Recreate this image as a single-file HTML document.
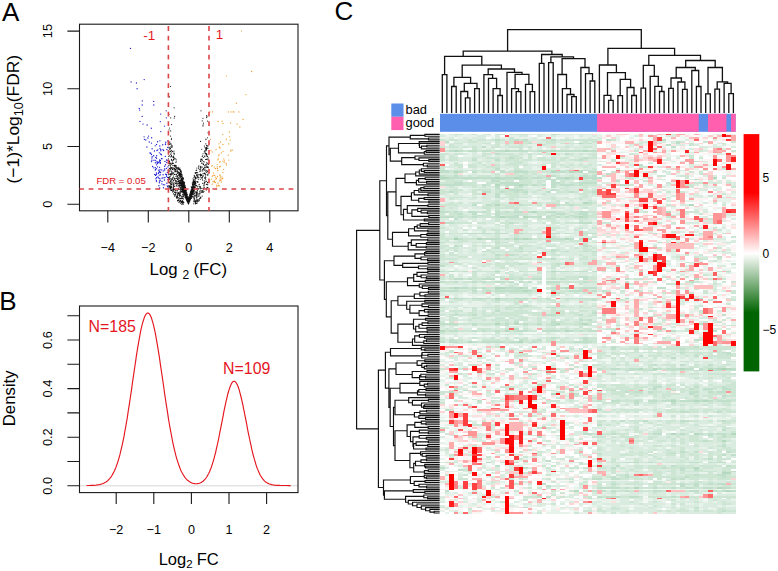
<!DOCTYPE html>
<html><head><meta charset="utf-8"><style>
html,body{margin:0;padding:0;background:#fff;}
svg{display:block;}
text{font-family:"Liberation Sans", sans-serif;}
</style></head><body>
<svg width="778" height="571" viewBox="0 0 778 571" font-family='"Liberation Sans", sans-serif'>
<rect width="778" height="571" fill="#fff"/>
<g>
<path d="M187.6 199.2h0M188.8 202.5h0M186.5 191.8h0M184 191.2h0M185.7 194.3h0M183.6 186.4h0M187.8 201.5h0M193 187.1h0M185.6 187.7h0M185.1 190.2h0M189.6 199h0M189 200.1h0M188 200.9h0M183.8 185h0M187.5 201.3h0M190.4 195.5h0M182.1 190.2h0M185.7 195.1h0M179.9 181h0M182.4 186.2h0M180.1 183.8h0M186.6 197.3h0M182.5 179.9h0M188.7 201.5h0M188.2 202.8h0M186.8 198h0M177.4 176.1h0M185.4 189.6h0M187.4 197.9h0M188 199.7h0M181.4 182.1h0M185.7 196.8h0M183.6 190h0M184.3 190.9h0M191.9 190.9h0M184.3 186.6h0M187.5 199.7h0M191.2 192.2h0M185.2 194.4h0M187.1 197.7h0M188 200.6h0M187.8 201.9h0M182.6 180.5h0M187.9 201.4h0M193.1 193.4h0M181.3 183.8h0M191.1 191h0M188.1 202.5h0M185 192.4h0M195.7 172.7h0M190.7 194.1h0M182.7 183.4h0M187.9 201.5h0M189.9 199.6h0M186.8 196.5h0M190.4 197.4h0M187.3 198.8h0M190.3 198.6h0M193.4 187.4h0M184.8 194.4h0M188.4 200.7h0M185.7 195.7h0M188.1 202h0M182.8 185.4h0M185.2 191.8h0M186.8 196.6h0M191.2 193.8h0M192.2 193.2h0M182.2 183.1h0M184.4 183.4h0M190.2 199.2h0M179.5 183.6h0M185.7 194.8h0M187.2 197h0M192.7 187.3h0M190.4 193.8h0M186.3 193h0M186.1 192h0M186.6 194.6h0M193.8 188.1h0M185.9 193.2h0M186.4 196.3h0M189 201.5h0M187.1 198h0M186.8 194.4h0M183.1 188.7h0M187.5 200h0M185.8 195.1h0M192.3 191.1h0M190.2 198.1h0M187.5 200.4h0M190.3 195.7h0M186.2 196.9h0M191.8 189.1h0M187.6 199.7h0M189.9 198.4h0M182.4 180.9h0M189 199.5h0M180.7 184.1h0M179.3 172.2h0M186.4 198.7h0M183.9 188.8h0M188.2 201.7h0M196.7 185.3h0M184.2 188h0M185.1 189.1h0M188.4 196.9h0M189.6 197.9h0M186.9 198h0M186.8 197.6h0M190.4 196.4h0M189.7 198.7h0M183.4 189.7h0M187.3 198.7h0M187.7 199.8h0M183.3 189.9h0M188.6 201.3h0M184.1 183.2h0M191.5 194h0M188.4 203h0M187.9 202.3h0M185.2 190.8h0M187.1 198h0M179.5 182.2h0M183 190.9h0M189.1 199.4h0M179 173.1h0M191 193.9h0M180.5 171.4h0M190.6 194.3h0M184.2 185.3h0M190.7 191.4h0M188.1 201.8h0M181.4 179.8h0M192.6 194.3h0M193.4 192.9h0M187.3 197.5h0M186.5 196.6h0M186.9 200.1h0M183.6 192.8h0M192 189.7h0M185.4 194.1h0M187.4 199.9h0M184.4 185.3h0M185 194.4h0M182.4 177.1h0M192.7 188.5h0M187 198.2h0M191.5 192.1h0M187.6 198.4h0M184.8 188.4h0M186.3 194.5h0M185.3 194.8h0M187.6 199.1h0M186.1 196.6h0M186.4 199.5h0M182 188.1h0M184.3 192.6h0M194.3 175.4h0M184.9 187.5h0M183.3 183h0M189 201.2h0M193.3 188.8h0M181.7 181.2h0M186.7 196.2h0M185 194.1h0M180.5 180.3h0M190.6 193.5h0M187.5 201.1h0M187.9 199.3h0M184.5 191.7h0M189.4 199.2h0M185.4 190.8h0M187 198.1h0M183.1 192.6h0M182.7 189.3h0M193 188.4h0M185.5 194.1h0M188.8 201.7h0M187.4 199.7h0M185.8 194.2h0M185.5 197.2h0M190.1 199.1h0M186.4 195.9h0M187 196h0M187.7 196.8h0M192.3 192.1h0M190.3 196.6h0M189.1 200.2h0M185.3 191.3h0M182 183.9h0M191.4 194.4h0M191.5 198h0M187 200.8h0M189.8 197.3h0M190.7 195.1h0M191 192.8h0M191.3 195.7h0M185.7 196.7h0M193.7 179.7h0M182.5 182.3h0M191.1 195.9h0M189.6 197.6h0M191.1 191.4h0M195.2 178.2h0M193.6 184h0M182.9 191h0M180.7 171.5h0M190.9 196.1h0M183.5 185h0M187.5 201.3h0M191 198.3h0M180.9 182.7h0M179 183.2h0M188.6 201.2h0M187.8 200.9h0M186.6 197.3h0M187.7 199.9h0M184.1 189.8h0M181.5 175h0M186.9 200.2h0M183.6 189.9h0M180.9 172.8h0M189.6 199.8h0M187.3 200.4h0M189.2 198.4h0M183.6 187.1h0M184.9 193.1h0M183.5 184h0M184 185.5h0M188.4 202.1h0M184.4 194h0M189 199.4h0M189 200.9h0M195.8 178.4h0M181.9 176.4h0M191.2 192.1h0M187.2 197.8h0M187.5 199.6h0M181.7 174.5h0M185.7 193.5h0M190.6 192.6h0M187.3 197.4h0M187.9 200.6h0M186.4 196.5h0M192.3 187.8h0M187.5 201.8h0M178.7 180.1h0M184.8 193.6h0M179.6 175.5h0M185.4 190.5h0M193 178.7h0M187.8 200.1h0M182.8 182.7h0M183.8 190.1h0M192.2 192.6h0M188.2 200.1h0M187.8 200.1h0M187.4 199.9h0M187.7 200.8h0M190.8 196.7h0M189.8 198.5h0M188.5 200.9h0M183.4 191.7h0M189.7 200.9h0M184.8 189.3h0M192 187.3h0M182.4 182.5h0M187 197.3h0M187.6 201.6h0M182.2 179.6h0M194.6 176.7h0M193.5 185.2h0M185.7 196.3h0M190.7 195.3h0M189.1 201.7h0M177 171.7h0M188.6 202.8h0M187.3 200.3h0M187.9 201.3h0M183.2 188.5h0M186.5 198h0M186.9 199.5h0M192.4 192.2h0M188.9 201.1h0M187.6 200.9h0M193.8 189.4h0M185.3 188.6h0M186 196.1h0M180.2 179.7h0M193.9 180.8h0M191.5 190.4h0M191.3 192.6h0M190.3 195.7h0M188 200.5h0M188.5 202.5h0M186.6 194.8h0M186.8 195.6h0M187.8 198.3h0M193.7 189.2h0M189.8 199.1h0M187.3 199h0M185.2 197.5h0M185 191.9h0M194.1 181.9h0M189.6 195.5h0M187.9 202.2h0M186.2 194.6h0M183.1 182.2h0M187.3 200.4h0M191.1 197.4h0M186 197h0M186.7 198.8h0M186.7 200.1h0M188 202.6h0M181.1 183.4h0M186.6 196.9h0M184.1 188.9h0M191.2 192.7h0M184.5 190.4h0M189.9 197.3h0M193.8 181h0M186.3 190.4h0M185.1 195.8h0M188.4 202.5h0M187.6 197.7h0M183.6 185.8h0M189.5 195.1h0M195.7 177.8h0M186.5 194.8h0M186.8 198h0M183.4 190.9h0M188.9 202h0M182.5 180.1h0M183.1 186.7h0M192.8 192.8h0M183.9 190.2h0M192 193.3h0M193.8 191.2h0M188.6 202.3h0M189.8 200.1h0M195.5 178.5h0M186.8 197.1h0M185.2 196.8h0M182.1 175.3h0M187.8 201.4h0M193.6 190.2h0M191.5 193.7h0M183.8 191.1h0M184.1 192.7h0M185.5 192.1h0M188.8 201.2h0M186.8 195.8h0M188.5 203.9h0M188.8 201.5h0M186.4 198h0M187.4 200h0M188.4 201.4h0M187.2 199.6h0M189.6 198.4h0M195.2 172.9h0M190 198.1h0M187.8 202.1h0M180.8 183.8h0M189.2 200.1h0M179.7 182.8h0M181.9 187.6h0M191 194.3h0M190.4 195.2h0M187 199.4h0M180.7 170.9h0M186.1 198h0M184.8 190.9h0M190.2 197.4h0M196.7 170h0M188.5 203.4h0M184.4 188.7h0M182.8 178.1h0M187.4 199.6h0M186.9 198.1h0M182.9 184.8h0M188.1 201.4h0M182.9 185.8h0M192.1 190.2h0M191.9 193.6h0M192 189.2h0M185.7 195.6h0M189.7 197h0M187.1 199.6h0M186 197.9h0M186.2 198.4h0M182.3 184h0M181.7 186.3h0M190.8 193.8h0M186.8 200.4h0M188.5 203.6h0M191.6 191.7h0M180.6 180.8h0M184.4 191.3h0M188.3 201.5h0M189.2 200.6h0M186.1 193.8h0M191.8 189h0M188.4 201.2h0M182.7 184.7h0M183.8 186.3h0M190.8 196.5h0M189.5 198.3h0M179.9 168h0M193 193.7h0M190 196.1h0M193 182.8h0M186 192.7h0M186.4 198.4h0M183 181.9h0M197.9 176.3h0M186.9 198.5h0M194 190.8h0M185 185.6h0M188.2 203.2h0M180.8 180.7h0M186 191.9h0M191.6 189.8h0M182.5 180.1h0M191.9 189.9h0M189 199.5h0M183.4 193h0M185.6 191.1h0M185.7 196.2h0M187.4 196.1h0M185.4 197.8h0M184.2 191.6h0M186.4 198.2h0M183.4 191.9h0M182.4 183.2h0M187.4 200.3h0M191.2 190.4h0M181.4 178h0M187.6 201.7h0M185 189.1h0M183.6 184.7h0M191 197h0M185.5 190.7h0M193.7 182.4h0M184.4 188.7h0M189.2 198.9h0M186.7 193.6h0M184.5 186.4h0M190 196.7h0M187 200.4h0M190 197.5h0M187.4 199.6h0M183.2 190.3h0M187.2 197h0M187.8 196.8h0M191.5 189.6h0M183.9 186.7h0M187.4 201.8h0M180.6 188.4h0M190.2 197.5h0M183.2 177.9h0M180.3 181.7h0M187.3 200.8h0M192.1 188.3h0M181.4 189.4h0M183.2 190.2h0M184.6 188h0M183 191.7h0M189.1 201.1h0M184.3 186.8h0M184.7 194.2h0M189.9 198.7h0M184.5 191.4h0M189.3 198.1h0M183.7 188h0M182.7 187.7h0M180.2 180.5h0M195.1 184.1h0M186.3 197.5h0M188.6 202.3h0M187.5 200.4h0M188.2 203.2h0M187.8 201.6h0M195.3 181.6h0M183.4 191.1h0M181.3 180h0M183.5 178.5h0M182.2 187.1h0M190.6 195.9h0M190.9 191.4h0M183.7 188.7h0M182 174.6h0M186.1 198.4h0M193.2 181.8h0M189.7 198.9h0M183.2 181.3h0M191.8 190.5h0M183.2 179.6h0M186.4 198.1h0M181.5 182.1h0M183.6 192.2h0M193.2 190.9h0M190.9 194.9h0M186 193.1h0M184.1 186.5h0M179.9 186.8h0M186 192.8h0M187.5 201h0M187.2 199h0M187.2 199h0M183 181.7h0M187.3 198h0M187.4 201.6h0M192.8 186.1h0M195.1 177.8h0M187 193.1h0M184.5 187h0M187.3 199h0M185.1 193.2h0M184.6 182.3h0M187.3 200.9h0M183.4 185.2h0M190 194.1h0M187.2 197.7h0M188.6 199.2h0M186.8 198.4h0M184.6 190.6h0M183.7 188.2h0M186.6 196.3h0M185.4 190.7h0M188.5 202.3h0M187.6 200.6h0M182.1 181.5h0M187.9 200.8h0M182.1 178.5h0M185.1 193.1h0M186.4 194.7h0M188 202.7h0M188.2 200.7h0M186.9 195.4h0M185.9 192.1h0M186.1 193.1h0M183.6 191.8h0M186.5 196h0M185.3 192h0M188 202.9h0M182.7 187h0M188.5 202.2h0M188.2 198.8h0M187 200.3h0M185.8 195.8h0M189.8 198.1h0M180.8 174.4h0M189.4 199.5h0M188.6 201.9h0M188.7 202.8h0M189.1 202h0M184.9 190.7h0M186.5 196h0M190.2 195.3h0M189.3 200.6h0M188.4 198.4h0M181.5 174.5h0M189.8 200.4h0M192.3 189.8h0M191.7 192h0M188.5 200.7h0M181.3 172.2h0M191.4 194.7h0M187 199.9h0M189.1 199.1h0M181.5 178.6h0M182.3 178.7h0M185 196.9h0M192.7 189.9h0M186.1 194.4h0M188.7 200.9h0M194.7 182.5h0M194 184.3h0M187.2 200h0M186.6 195.1h0M182.5 182.8h0M184.8 187.8h0M189.3 199.6h0M189.2 197.6h0M188 202.6h0M191.6 195.5h0M184.5 186.4h0M187.4 198.8h0M190.5 194.9h0M190 199.7h0M191.9 193.2h0M189.2 198.8h0M186.3 199h0M189.1 200.1h0M183.5 188.1h0M180.9 170.4h0M189.9 199.6h0M187.4 199.7h0M188.8 202.6h0M180.7 182.3h0M186.1 195.9h0M185.2 192.9h0M184.1 183.2h0M186.2 197.5h0M191.2 193.3h0M189.1 198.4h0M185.2 194.8h0M187.5 199h0M190.7 192.9h0M176.4 167.6h0M187.1 195h0M189.8 199.4h0M190.3 197.8h0M194.5 181.1h0M192.2 193.7h0M188.9 201.2h0M188.8 200.8h0M190.8 197.2h0M185.4 192h0M187.4 194.6h0M191.3 197.5h0M195.5 185.6h0M186.9 197.1h0M187.4 196.8h0M188.4 201.4h0M193 189.7h0M187.5 200.9h0M193.5 184.7h0M183.7 187.4h0M186.8 197.3h0M186.8 197.8h0M190.8 197.3h0M191.8 193.6h0M181.5 188.7h0M183.9 190.5h0M188.9 198.6h0M184.9 190.8h0M181.4 174h0M191.8 187.7h0M189.6 198.1h0M189.6 198.3h0M185.7 195.3h0M191.8 187.4h0M186.6 198.4h0M192 192.5h0M183.9 183.2h0M184.1 189.2h0M188.4 201.7h0M184.7 190.2h0M190.3 198.5h0M188.6 198.5h0M183.8 195.2h0M187.9 201.4h0M186.2 198.6h0M191.3 194.7h0M185 187.3h0M185.8 197.5h0M192.5 190.6h0M196.7 174.7h0M195.7 178.1h0M187.8 199.9h0M188.5 201.3h0M193.8 190.5h0M187.1 196.3h0M183.6 192.2h0M188.1 201.4h0M189.4 201.3h0M184.2 187.3h0M180.9 173h0M181.8 178.6h0M190.3 197.7h0M184.5 190.9h0M187 197.1h0M188.4 200.7h0M190.1 198.1h0M186.2 196.9h0M189.6 198.9h0M184 186.5h0M186.1 193.7h0M183.4 184.6h0M192.2 193.1h0M187.5 199.4h0M184.6 192.4h0M186.2 193.2h0M186.7 196.7h0M190.4 195.5h0M181.1 172.9h0M183.4 186.6h0M186.1 195.9h0M197.8 182.4h0M191.5 193h0M187.1 197.4h0M190.5 198.9h0M195.9 185.7h0M186.6 196h0M186.1 195.1h0M192.5 188.2h0M189.6 197.5h0M190.3 199.1h0M185.5 190.5h0M195.4 185.6h0M194.5 181.5h0M189.9 197.5h0M190.4 197.9h0M179.4 176.9h0M190.2 194.4h0M186.8 200.8h0M189.3 198.1h0M190.3 194.4h0M186.2 193.8h0M180.7 180.4h0M189.1 201.1h0M184.6 192.9h0M186.2 195.7h0M185.1 188.3h0M186.2 199.3h0M192.5 189.5h0M188.6 202.2h0M192.1 193.1h0M195.6 177.2h0M187.7 200.6h0M180.3 181.7h0M184 182.1h0M182.7 188.6h0M185.6 193.3h0M187.9 202.3h0M179.5 173.3h0M189 201.1h0M181.5 187.1h0M188.8 199.1h0M187.1 198.1h0M186.3 194.8h0M187.3 199.6h0M185.4 192.6h0M185.1 195.4h0M180.8 175.8h0M187.5 198.2h0M195.1 183h0M195.6 182.7h0M192.9 194.1h0M190.4 199.6h0M184.8 191.5h0M193.4 185h0M187.4 199h0M187.3 200h0M186.4 199.1h0M188 202.8h0M185.8 195.5h0M187.2 199.1h0M183.2 191.4h0M186.1 194.7h0M196.8 168h0M187.3 201.1h0M186.6 195.4h0M189.7 197.1h0M190.5 194.7h0M183.1 189.9h0M186.7 197h0M191.3 190.2h0M188.7 203h0M188.1 202h0M193.9 189.3h0M184.8 186.4h0M187.9 202.3h0M185.5 198h0M193.6 182.5h0M179.7 173.1h0M184.9 195h0M185.4 189.8h0M190.3 195.1h0M190 199.5h0M193.2 187.2h0M181.2 171.4h0M190.6 196.3h0M186.4 197.1h0M184.9 191.4h0M189.8 199.1h0M183.9 186.3h0M179.2 168.8h0M186.1 195h0M181.5 178.9h0M185 192h0M189.1 201.7h0M188.8 201.5h0M194 186.4h0M186.8 196.9h0M181.4 182h0M184.5 190h0M183.9 190.6h0M182.7 192.5h0M189.3 201.7h0M185 195.2h0M179.6 169.2h0M190.4 195h0M187.1 196h0M189 197.3h0M188 202.5h0M190.1 198h0M187.7 201.1h0M192.6 188.2h0M189.3 200.1h0M189.2 201.8h0M189.2 201.7h0M181.7 181.1h0M186.9 197.4h0M186.5 197.6h0M188.4 202.5h0M182.1 180.5h0M194.2 188.4h0M188 200.4h0M182.7 189.7h0M180.7 173.3h0M186.4 196.6h0M187.2 199.2h0M184.7 188.4h0M188 202.2h0M185 191.6h0M189.8 198.2h0M184.7 184.9h0M187.4 200.7h0M191.5 187.4h0M183.5 182.7h0M185.7 191.4h0M184.2 186.9h0M190.8 191.8h0M182.9 189.1h0M185.6 192.2h0M187.5 199.4h0M183.6 189.3h0M183.7 191.7h0M185.7 193.7h0M179.1 169.2h0M181.7 186.9h0M185.9 193h0M188.2 203.6h0M186.8 196.7h0M180.4 173.9h0M185.7 191.6h0M190.8 196.6h0M189.8 200.7h0M187.3 200.4h0M184 187.5h0M190.1 194.3h0M185.2 188.8h0M182.8 186.7h0M184.3 187.2h0M193.5 190h0M188.5 199.3h0M192.3 182.9h0M185.6 197.1h0M191.4 190.8h0M185.1 190h0M186.9 197.5h0M190.7 193.1h0M185.6 193.2h0M187.2 197.3h0M188.9 199.9h0M192.5 184.1h0M185.6 197h0M180.5 169.7h0M186.5 195.9h0M187.6 202h0M188 200.7h0M192.9 189.3h0M188.9 202.1h0M190.9 197h0M183.1 189.4h0M191.1 193.6h0M196.1 170.5h0M190.7 197.5h0M188.6 199.4h0M188.2 202.7h0M194.8 187.9h0M183.8 192.3h0M187.1 198.8h0M189.4 199.5h0M190.6 194.5h0M185.8 197.5h0M188.8 201.5h0M186.5 197.7h0M188.1 201.6h0M187.1 199.4h0M183 181.6h0M187.5 197.6h0M191.1 195.5h0M183.7 194.2h0M186.6 195.7h0M190.3 195.3h0M183.3 185.6h0M188.3 202.9h0M183.3 183.7h0M192.2 187.6h0M197 177.9h0M195.8 182.9h0M186.7 197.9h0M190.6 197.3h0M188.1 203.3h0M188 199.8h0M193.9 177.2h0M182.2 191.4h0M191.9 189.8h0M187.4 198.5h0M193.3 187.2h0M188.3 201.6h0M184.9 194.3h0M188.7 202.2h0M190.6 195.5h0M187.7 199.9h0M189.6 199.2h0M185.5 187.1h0M191.2 190.8h0M190.4 196.1h0M188.2 203.5h0M187.9 199.9h0M191.8 191.7h0M185.7 192h0M184.7 193.8h0M186.8 196.6h0M192.4 194.1h0M182 183.1h0M192.4 193.1h0M185 196.1h0M183.1 184.5h0M192.7 194.6h0M187.2 198.7h0M182.3 185.8h0M186.1 194.5h0M191.4 197.1h0M192.4 188.1h0M185.9 193.9h0M189.2 200.2h0M190.5 191.8h0M185 189h0M189 201.6h0M187.5 199.2h0M185.4 192.4h0M185.6 191.6h0M187.9 200.5h0M187.7 199.3h0M185.3 196.9h0M185.9 190.2h0M192.1 191.6h0M188.5 203h0M191.2 198.5h0M192.5 188.6h0M190 200.8h0M196.8 172.4h0M184.2 190.5h0M190.9 194h0M186.3 196.8h0M195.1 181h0M194.5 187.4h0M179.7 169.2h0M183.7 185.1h0M190.3 197.1h0M190.8 192.8h0M190.6 194.9h0M187.3 199.2h0M189.4 197.4h0M190.2 198.9h0M187.3 199.3h0M191.7 193.4h0M190.2 199.1h0M183.4 185.4h0M191.5 193.8h0M186.7 194.3h0M184 188.5h0M189.1 202.4h0M183.9 192.6h0M183.9 193.4h0M181.2 176.4h0M187.5 200.3h0M189.6 200.4h0M191.7 194.9h0M187 198.5h0M191.8 188.6h0M187.7 201.5h0M187.2 197.8h0M189.9 195.9h0M191.9 190h0M186.2 195.9h0M186.6 200h0M186.9 196.4h0M187.9 202.8h0M183.9 194.7h0M191.7 187.3h0M186 194.6h0M189.5 197.8h0M184.2 194.1h0M189 200.1h0M189.2 200.1h0M185.9 198.3h0M195.8 172.5h0M189.1 201h0M194.8 176.4h0M191.5 191.3h0M184.9 192h0M186 197.6h0M189.4 199.1h0M187.8 202.3h0M187.8 200h0M186.4 197.8h0M180.3 183.4h0M186.7 197.5h0M178.6 172h0M189.1 200.9h0M184.6 187.5h0M184.7 189.7h0M186.7 195.5h0M188.7 202.7h0M181.8 179.8h0M180.5 171.6h0M183.3 182.7h0M179.3 178.5h0M183.7 192h0M194 187h0M183.3 190.3h0M190.2 199h0M182 177.9h0M188.8 201.6h0M186.3 198.9h0M187.3 197h0M189.9 199.3h0M194.7 187.5h0M188.4 203.4h0M188.1 199.6h0M183.6 188.7h0M189.9 199h0M186.6 199.5h0M191 190h0M187.4 200.3h0M194.6 190.9h0M179.6 169.9h0M186.4 197.1h0M191.2 192.2h0M186.2 196.3h0M184.4 189.4h0M186.5 199.7h0M182 183.6h0M188.1 201.9h0M192.2 189.2h0M183.1 184.4h0M184 191.9h0M185.9 193h0M191.7 188.9h0M184.3 184h0M184.8 190.4h0M191.2 191.3h0M191.1 190.6h0M186.1 193.8h0M183.1 189.6h0M181.3 178.9h0M184.8 191h0M178.6 172.7h0M190.6 197.5h0M185 194.4h0M189.5 200.4h0M195.2 177.8h0M192.3 188.5h0M182.9 180.7h0M191.1 195.4h0M192.3 192.5h0M184.6 190.3h0M183.7 183.5h0M187.1 194.2h0M181.1 184.8h0M193.5 186.5h0M183.1 182.6h0M186.5 193.3h0M186.7 198h0M188.3 202.3h0M188.7 199.8h0M186.7 196.4h0M192.2 187.2h0M178.9 173.9h0M187.6 200.1h0M184.7 190.2h0M188.1 203h0M188.5 201.8h0M183.9 189.4h0M185 186.7h0M190.8 194.1h0M189 198.8h0M184.8 191.9h0M195.8 182.6h0M196.9 181.5h0M181.7 183.4h0M188.8 202h0M197.7 172.7h0M190.8 194.3h0M188.5 199.9h0M186.7 198.7h0M185.4 194.7h0M186.7 197.3h0M185.4 196.7h0M190.6 195.9h0M186 195.7h0M185.8 190h0M182.7 181h0M187.4 200.3h0M184 188.5h0M186.9 196.5h0M191.8 192.1h0M189.1 200.5h0M189.6 198.5h0M189 200.9h0M187.8 197.9h0M187.1 195.9h0M186.3 195h0M190.7 196h0M183.2 183.9h0M193 186.9h0M187.7 200.7h0M184.6 188.2h0M185.6 194.2h0M184.8 188.2h0M188.2 203.3h0M184.7 187.9h0M192.2 191.5h0M184.4 189h0M178.4 178.2h0M184.6 188.1h0M187.4 201.4h0M191.9 189.4h0M190.2 193.7h0M182.2 190.1h0M184.5 186.5h0M194.8 182.6h0M188.9 201.4h0M187.6 201.1h0M191.9 187.6h0M197.5 176.2h0M192.8 185h0M188.1 202.9h0M189 201.6h0M190.1 197.1h0M185.1 191.6h0M183.3 186.3h0M187.8 199.6h0M183.7 190.2h0M187.3 199.5h0M188 201.3h0M184.1 187h0M187.1 196.5h0M186.9 197h0M189.4 197.3h0M191.8 193.2h0M185.6 193.8h0M184.3 189.6h0M180.9 185.8h0M183.8 189.7h0M189.8 194.6h0M187.8 202.2h0M183.5 189.2h0M186.1 195.6h0M187.7 200.5h0M189.6 197.7h0M185.2 191.1h0M186.6 197.8h0M180.2 175.1h0M182.9 185.1h0M194.1 184.5h0M186.2 192.9h0M188.5 199.4h0M186.1 195.7h0M184.3 185.8h0M187.3 198.9h0M187.6 200.5h0M187.3 197.2h0M180 175.4h0M187 196h0M184.1 187.2h0M185.4 194.7h0M188.5 201.7h0M190.2 199.1h0M191.2 193.5h0M185.6 193.8h0M191.3 189.7h0M192.3 186.7h0M192.2 191.2h0M193.2 181h0M187 198.5h0M186.9 197.3h0M190.9 198.3h0M182.1 187.7h0M188.4 203.1h0M185.4 191.4h0M186.1 195.5h0M180.5 171h0M184 192.1h0M187.5 200.2h0M191.2 186.8h0M191.6 191.8h0M187.3 200.7h0M186.8 196.3h0M184.2 193.1h0M189.2 200.8h0M186.6 196.2h0M190 197.4h0M194.7 187.2h0M187.5 201h0M181.5 186.1h0M184.1 186.2h0M181.7 186.7h0M182.7 188.5h0M192.9 191.6h0M188.5 202.2h0M181.4 180.4h0M190.2 196h0M192.7 184.5h0M186.1 192.3h0M184.8 188.7h0M186.2 197.3h0M188.7 200.4h0M190.2 192.9h0M192.4 193.4h0M192.5 187.1h0M192.4 193.3h0M193.1 181.4h0M190.3 196.2h0M181.4 183.6h0M187.1 200.6h0M188.9 202.3h0M186 194.7h0M191.3 193.2h0M186.1 194.5h0M183.8 191h0M193.4 183.1h0M190.3 196.1h0M188.5 199.9h0M191.3 189.5h0M191.9 192.1h0M189 198.6h0M177.6 167.7h0M184.8 193.7h0M185.7 195.7h0M183.6 186.9h0M188.4 202.4h0M192.4 184.9h0M185.6 193.1h0M183 186.6h0M195.8 173.4h0M185.8 192.1h0M182.6 181.9h0M188.5 202.4h0M189.3 199.3h0M184.7 192.6h0M190.8 194.1h0M185.6 196.6h0M183.8 186.4h0M188.3 203h0M190.7 197.4h0M185 190.6h0M188.9 202.9h0M187.2 198.9h0M199 177.7h0M184.7 188.5h0M193.2 189.7h0M187.4 201h0M187.1 197.4h0M190.5 196.7h0M191.2 192h0M192.7 186.3h0M188.9 199.9h0M185.2 195.2h0M185.4 191.6h0M189.6 196.7h0M189.9 195.7h0M193.2 180.9h0M189.3 199.5h0M191.9 196.5h0M193.7 182.2h0M188.3 201.1h0M181.6 180h0M182.8 180h0M181.8 185h0M194 179.6h0M184.2 192.1h0M192.6 192.7h0M190 197h0M194.5 183.1h0M191.6 194.1h0M187.2 197.9h0M186.8 200h0M179.6 175.4h0M173 190.5h0M180 195.9h0M196.1 192.6h0M207.9 187.3h0M200.4 174h0M203.6 188.7h0M174.4 168.5h0M170.5 166.8h0M195.5 203.1h0M170.4 151.5h0M174.7 171.7h0M181.8 201.3h0M206.1 164.3h0M200.4 169.9h0M169.8 163.9h0M206.3 149.2h0M175.6 190.5h0M171.1 171.1h0M169.5 163.7h0M179.2 195.4h0M197.3 186.6h0M175.2 183.2h0M171.6 186.3h0M169.3 185.5h0M173.9 157.3h0M171.1 174.7h0M181.2 201.9h0M198.1 196.2h0M175.9 176.2h0M177.3 168.3h0M174.5 189.7h0M199.9 171.6h0M181.4 204.1h0M171.7 184.4h0M183.5 196.3h0M170.2 168.7h0M194.3 198.6h0M196.8 194.2h0M198 188.6h0M173.4 156.1h0M195.3 179.8h0M193.2 196.8h0M179.3 173h0M181.4 202.5h0M174.6 186.3h0M206.6 148.2h0M205.8 177.2h0M176.6 197.4h0M205.1 169h0M205.2 181.9h0M171.4 179.5h0M201 197.7h0M204.4 187.7h0M193.9 188.4h0M205.8 143.8h0M183.4 196.2h0M177.3 170.6h0M205.7 149.1h0M183 198.4h0M173.5 180.8h0M198.2 193.8h0M198 194.1h0M182.6 192.7h0M180.2 192.3h0M178.8 185.3h0M193.9 192.5h0M169.5 186.5h0M169.8 188.1h0M197.4 188.4h0M182.6 200.3h0M178.4 192.5h0M205.2 152.7h0M182.5 196h0M200.2 192.9h0M194.1 200.4h0M177.7 200.2h0M179.9 174.5h0M207.8 175h0M171 178.4h0M172.9 182.9h0M196.7 193.8h0M173.1 185h0M175.7 169.3h0M177.4 194.2h0M179.6 198.7h0M206.6 149.9h0M176.7 178.3h0M203.4 169.2h0M206.8 170.4h0M174.3 158.9h0M196.3 203.2h0M174.3 153.2h0M205.6 159.5h0M172.5 169.4h0M171.5 172.7h0M194.9 181.3h0M181.3 197.7h0M183 198.4h0M168.6 156.2h0M193.1 196h0M173.2 156.5h0M170.8 184.8h0M172.2 168.6h0M206.8 148.6h0M202.7 155.8h0M202.1 196.1h0M196 195.2h0M196.3 185.6h0M208.1 159.7h0M169.1 177.8h0M177.1 190.3h0M171.5 159.9h0M207.9 174.2h0M168.6 172.5h0M182.9 191.2h0M197.8 181.5h0M170.7 187.4h0M196.7 188.7h0M169 142.3h0M176.3 185.9h0M174.6 196.1h0M204.8 165.3h0M182.6 194.5h0M198.4 179.2h0M207 154.7h0M203.9 187.8h0M202.2 171h0M202.5 179.9h0M170.8 169.3h0M180.3 192.7h0M174.3 165.4h0M173.3 163.3h0M172.1 172.7h0M204.2 180.7h0M169.6 171.1h0M180.3 203.2h0M205.4 153.4h0M173.8 167.9h0M180.3 189.3h0M171.3 184.7h0M194 198h0M175.8 190.9h0M178.9 197.5h0M177.4 172.3h0M169.4 155.8h0M196.2 194.6h0M170.8 146.9h0M173.5 160h0M179.4 174.7h0M181.2 178.1h0M198.5 200h0M197.3 190.4h0M170.3 165.3h0M172.1 174.4h0M176.3 166.2h0M173.4 194h0M207.7 175.2h0M171.1 168.3h0M202.7 183.3h0M171.9 190.6h0M172.1 160.5h0M170.3 163.7h0M198.2 194.1h0M196.7 203.1h0M169.8 182.9h0M199.1 174.5h0M208.1 145.8h0M173.5 187.3h0M174.1 184.7h0M200.9 174.6h0M170.8 163.1h0M169.2 186.7h0M176 181.9h0M171.4 155.4h0M171 187.9h0M194.3 199h0M177.1 182.1h0M207.8 184.8h0M168.4 177.4h0M170.9 189.4h0M200.8 168.6h0M170.8 167.7h0M178.2 177.3h0M171.9 171.2h0M200.1 171.4h0M178.8 181.4h0M197.5 200.5h0M176.2 161.7h0M172.5 163.6h0M171 187.5h0M168.9 178.4h0M173.5 177.7h0M174.9 179.8h0M199.7 169.6h0M180.3 195.5h0M178.8 202.2h0M182.9 202h0M199.3 186.2h0M197.2 193.1h0M168.8 165.6h0M174.9 183h0M201.9 192.5h0M173 189.3h0M177.7 200.9h0M175.5 171.6h0M171.1 144.1h0M196.6 197.6h0M181.8 196.4h0M175.7 180.8h0M171.3 175h0M172 181.1h0M199.6 193.1h0M196.6 191.7h0M200.9 159h0M207.7 148.1h0M206.6 153.6h0M194.4 195.5h0M171 143.8h0M198.1 175h0M169.3 186h0M200.1 175.1h0M170.7 188.4h0M201.5 174.7h0M169.9 188h0M171.4 164.2h0M169.2 178.7h0M172.3 162.7h0M194.6 199.2h0M204.7 156.7h0M195.1 184.9h0M205.2 153.7h0M174.4 166.6h0M175.3 178.7h0M177.4 197.4h0M171.7 187.4h0M206.1 167.2h0M206.5 147.4h0M195 201.9h0M208.2 160h0M171.6 150.3h0M177.9 177h0M169 186.7h0M203 153.7h0M192.9 196.6h0M173.6 172.7h0M193.8 201.6h0M183.5 204h0M170.4 174.5h0M208 167.2h0M176.6 178.5h0M181.1 182.9h0M195.3 191.9h0M169.3 168.3h0M201.5 175.4h0M200.7 177h0M179 193.2h0M175 168.8h0M178.2 167.2h0M203 175.1h0M201.9 162h0M200.3 186.8h0M171.8 146.9h0M175 174.4h0M206.9 189h0M174.8 169.4h0M206.5 166.1h0M170.5 148.3h0M172.9 169.6h0M198 177.4h0M200.4 188.1h0M194.1 183.7h0M172.6 191.9h0M202.9 170.7h0M171.2 152.9h0M181.9 196.4h0M172.5 151.6h0M182.8 191.4h0M180.8 185.1h0M183.5 201.8h0M181 198.8h0M195.7 187h0M169.2 151.8h0M201.7 163.5h0M171.1 164h0M180.2 201.7h0M171.4 159.2h0M173.8 153.2h0M197.2 199.4h0M181.3 182.9h0M201.4 190.7h0M168.8 144.7h0M171.6 186.2h0M195.4 196h0M194.7 189.5h0M195.1 181.8h0M172.5 179.3h0M179 172.3h0M208.2 157.9h0M195 184.9h0M171.8 182.9h0M176.8 184.8h0M179.5 186.7h0M179.1 180.6h0M181.5 191.9h0M207.8 166.4h0M180.7 187.2h0M177.5 179.4h0M196.4 175.7h0M174.8 182.7h0M175.6 167.2h0M178.2 193h0M173.4 173.1h0M204.5 167.7h0M197 197h0M180.2 176h0M177.5 196.4h0M205.8 179.7h0M175.5 183.6h0M180.6 177.2h0M206.4 181.3h0M171.6 167.6h0M206.2 159.4h0M168.9 187.2h0M182.6 201.4h0M169.8 149.5h0M173.9 168.6h0M194.5 193.3h0M204.5 173h0M202.6 176.7h0M183.9 191.4h0M202 159h0M195.8 183.3h0M168.5 163h0M198.7 168.6h0M169.8 179.1h0M196.7 197.6h0M177.7 195.3h0M171.2 163.9h0M178.2 175.2h0M198.7 167.1h0M176.1 165.6h0M201.6 192h0M178.4 179.7h0M183.8 202.4h0M206.2 153.7h0M180 200.9h0M175.6 170.5h0M207 163.9h0M178 183.4h0M200.3 186.6h0M182.2 204h0M179.4 180.8h0M207.5 182.5h0M180 175.4h0M207.2 184h0M172.7 151.3h0M177.5 178.8h0M177.2 192.8h0M207.5 156.4h0M178.4 200.4h0M181.9 196.3h0M168.7 185.8h0M177 176.8h0M203.1 173.4h0M178.1 181.3h0M175.3 169.4h0M208.4 164.3h0M173 157.5h0M201.2 174.8h0M208.4 167.8h0M176.1 196.7h0M199.9 198.4h0M170.7 156.8h0M204.1 183h0M199.1 199.1h0M180.2 194h0M205 170.3h0M206.2 156h0M173.5 159.3h0M201.7 177.7h0M205.4 176h0M200.6 197.9h0M200.5 161.5h0M172 147.3h0M182.8 197.2h0M208.1 163.5h0M169 182.3h0M205.8 171.2h0M199.9 191.4h0M205.3 173.9h0M170.2 186.2h0M170.6 186h0M179.4 194.4h0M170.5 175h0M208 148.2h0M168.9 173.6h0M204.2 185.7h0M203.7 161.5h0M176.6 174.9h0M205.8 164.8h0M203.6 168.7h0M172.2 168.5h0M174.3 170.2h0M204.3 183.8h0M200.3 198.1h0M206.3 188.2h0M179.6 196.1h0M170.9 151.5h0M169.8 144.2h0M203.4 157.5h0M169.4 162.8h0M203.1 175.5h0M192.9 189.5h0M194.6 196.2h0M177.9 171.9h0M206.3 184.4h0M199.2 184.4h0M195.4 200.2h0M208.1 172.7h0M175.6 166.3h0M181 191.1h0M183.4 199h0M178.5 183h0M172.6 161h0M171.8 145.4h0M199.6 199h0M197.4 201.8h0M170.2 176.5h0M178.6 194h0M170 188.3h0M197.3 191.9h0M192.9 188h0M201 188.2h0M170.3 181.4h0M172.7 178.8h0M183.5 191.7h0M170.7 154.3h0M174.6 194.8h0M179.1 186.8h0M176.1 196.7h0M180.7 190.6h0M169.7 176.9h0M179.8 185.4h0M195.5 203.1h0M182.6 203.9h0M204 191.3h0M178 169.4h0M193 197.4h0M181 178.2h0M175.9 162.3h0M205.2 178.4h0M173.6 180.3h0M180 174.6h0M205.9 174.7h0M195.6 202.3h0M173.3 191.2h0M175.1 195.3h0M200.2 190.1h0M172 187.2h0M174.8 189.5h0M180.3 198.2h0M199.1 195.7h0M174.1 174.3h0M181.9 191.1h0M175 192.4h0M202.3 177.3h0M168.8 152.7h0M179.1 184.6h0M178.7 198.1h0M168.9 179.8h0M200.8 170h0M173.4 186.3h0M201.3 188.5h0M204.6 177.9h0M173.4 186h0M179 200.1h0M204.1 161.9h0M173.5 183.2h0M168.4 158.8h0M204.8 156h0M176.8 180.9h0M196.7 194.1h0M176.2 159.8h0M203.6 164.5h0M196.7 196.7h0M171.9 160h0M178.5 188.3h0M207.6 175.1h0M201.2 167h0M202.4 191.8h0M193.5 191.8h0M205.1 167.1h0M179.1 175.1h0M200.3 197h0M180.3 181.1h0M182.5 201.7h0M196 193.7h0M199.3 200.6h0M204.8 156.1h0M205 166.7h0M175.5 180.8h0M173.7 153.1h0M176.6 196.1h0M202.7 169.5h0M171.2 173.6h0M182.9 201.8h0M202.8 190.4h0M174.2 154.2h0M170.7 190.2h0M194.7 201.5h0M177.3 190.8h0M203.2 164.6h0M172.9 165.4h0M204.3 151.8h0M202.2 167.1h0M207.3 167.4h0M169.3 162.8h0M172.7 169.1h0M196.5 200.1h0M183.4 196.2h0M203.9 185h0M198.9 195.9h0M205.3 178.2h0M193.7 203.7h0M172.9 173.4h0M198.9 165.9h0M200.4 167.5h0M178.5 175.2h0M206.3 190h0M173.5 159.6h0M177.9 186h0M182.1 189.1h0M200.7 175.7h0M168.4 143.9h0M206.8 162.5h0M178.4 199.9h0M177.6 183.8h0M175.6 158.7h0M203.3 192.2h0M180.5 200.4h0M198.1 201.4h0M179.9 176.9h0M198.1 189.5h0M193 191h0M206.3 172.3h0M169 143.8h0M174.3 192.1h0M197.1 195.2h0M199.9 187.2h0M207.1 159.1h0M173.7 190h0M200.7 166.4h0M169.6 161.5h0M194.9 185.7h0M182.8 203h0M195.4 203.8h0M202.2 156.3h0M172.5 177.7h0M175.3 165.4h0M178.4 168.4h0M171.7 156.6h0M178.3 189.5h0M177.5 200.6h0M173.3 184.6h0M202.3 160.3h0M179.6 192h0M174.7 178.1h0M170.8 180.9h0M177.1 171.8h0M204.6 146.1h0M176 192.5h0M175.9 171.1h0M174.5 178.6h0M196.2 195.6h0M173.5 176h0M203 176.2h0M177.4 173.5h0M176.4 183.4h0M168.5 161.4h0M178.9 185.5h0M196.2 198h0M204 185.9h0M181.4 201.1h0M202 178.3h0M207.5 171.3h0M177 198.4h0M177 170.7h0M180.1 193.2h0M200.4 179.2h0M204.6 182.4h0M176.4 174.2h0M202.9 188.2h0M201.8 159.4h0M204.5 173.7h0M169.5 161.1h0M196.9 203.4h0M196.6 192.7h0M205.1 178.6h0M204.7 170h0M171.6 190.4h0M170.9 173.6h0M169.9 142h0M203.1 163.5h0M202.7 191.1h0M170.9 180.4h0M173.8 157h0M204.8 150.9h0M207.3 145.8h0M199 186h0M172.2 189h0M179.3 189.1h0M206.5 145.3h0M168.8 174.7h0M169.2 182.6h0M172.1 167.4h0M170.7 183.9h0M170.1 174.2h0M196.6 201.1h0M174.9 165.3h0M173.7 186h0M173.7 188.4h0M174.1 158.1h0M196.9 174.4h0M182 202.2h0M195.7 201.2h0M169.9 170.1h0M196.4 195.7h0M195.3 184.6h0M176.6 168.8h0M197.5 175.1h0M177.9 193.7h0M182 198.5h0M168.6 143.8h0M199.8 194.1h0M170.5 187.3h0M193.9 194.5h0M175.2 194.1h0M179.3 201.8h0M206.8 154.9h0M194.1 198.9h0M203.4 168.2h0M197.3 174.9h0M175.7 194.3h0M205.3 147.7h0M192.9 189.5h0M206.3 154.7h0M170.8 182.7h0M207.8 182.3h0M205.8 150.8h0M200.9 159.8h0M180.1 182.4h0M180.6 195.2h0M173.4 193.7h0M207.2 146.1h0M200.8 160.9h0M175.9 193h0M177.8 167.9h0M199.1 188.2h0M171.1 179.9h0M199.7 193.9h0M180.3 191.7h0M207.3 187.6h0M174 188.9h0M177.4 168.1h0M168.9 173.9h0M207.1 187.6h0M194.4 197.9h0M207 116.7h0M169.2 148.3h0M171.4 139.6h0M203 118.3h0M171.5 138.2h0M205.9 139.1h0M201.7 149.2h0M170.1 149.9h0M202.9 125.9h0M172.2 145.9h0M174.1 107.8h0M174 151.1h0M207.5 137.7h0M170.2 143.8h0M201 110.8h0M206.6 117.6h0M168.9 147.1h0M206.1 149.7h0M206 148.4h0M174.2 118.1h0M170.7 117.8h0M203.5 123.1h0M169 129.7h0M170.7 130.9h0M203.1 124.8h0M169.3 147.3h0M206.7 115.6h0M174.7 116.4h0M202.2 120.8h0M200.6 141.4h0M169 114.2h0M169.6 128h0M170.6 86.5h0M169.4 96.9h0M207 116.5h0M207.6 121.1h0M171.6 124.6h0M206 139.6h0M170.6 136.1h0M205 147.7h0M208 132.7h0" stroke="#111" stroke-width="1.15" stroke-linecap="round" fill="none"/>
<path d="M151.5 143.1h0M156.5 168.6h0M155.6 160.3h0M156.1 174.7h0M156.4 172.8h0M142.2 116.4h0M167.3 172.4h0M144.4 139.3h0M158.4 170.1h0M160.2 180.2h0M154.4 151h0M163.9 177.8h0M161.4 158.6h0M143 124.1h0M157.6 166.8h0M154.7 174.4h0M160.3 121.6h0M157.3 163.5h0M159.2 175.1h0M167.2 160.4h0M151.7 137.7h0M157.6 141.7h0M157.8 149.8h0M162.7 144.7h0M156.8 161.9h0M159.5 181.1h0M151.9 160.2h0M158.9 185.7h0M146.9 147h0M156.5 181.6h0M142.3 100.9h0M161.4 154.7h0M156.6 155.7h0M166.4 168.4h0M156.6 158.3h0M163.1 174.7h0M159.4 171.5h0M154 160.2h0M166.6 160h0M159.3 188.5h0M166.2 110.8h0M160.5 174.8h0M160.8 131.6h0M166.3 117.8h0M156.9 150.6h0M163.3 170.9h0M165.5 143.9h0M155.3 170.1h0M164.4 180h0M145.8 140h0M155.8 157.5h0M153.8 105h0M166.7 162.5h0M150.7 153.2h0M165.3 156.4h0M155.3 167.6h0M155.2 145.8h0M156.5 144.5h0M165.5 144.5h0M161.9 178.1h0M167.9 166.9h0M136.4 83h0M153.7 155.7h0M165.6 174.2h0M161.8 183.8h0M160.7 114.1h0M147.1 125h0M162.9 149.6h0M164.8 170.1h0M159.9 140.8h0M140 121.4h0M152.2 156.7h0M159.7 159.9h0M155.5 169.4h0M160.5 160.6h0M165 177.6h0M150 153h0M167.6 177.4h0M156.6 174.1h0M156.4 180.6h0M166.9 183.2h0M151.9 158.1h0M137.1 88.7h0M167.7 186.7h0M159.2 161.8h0M164.7 184.8h0M160.4 162.6h0M163.3 184.7h0M160.3 163.4h0M168.2 170.6h0M162 158.7h0M160.8 150.7h0M156.5 164.8h0M155.4 162.7h0M157.8 176.9h0M158.4 173.4h0M153.8 167.8h0M157.7 163.3h0M160.6 154h0M166.9 149.5h0M159.3 182.7h0M151.3 128.2h0M163.6 150.5h0M158.2 162.5h0M151.5 161.6h0M159.8 178.6h0M159.8 146h0M159.7 188h0M163.5 187.7h0M167.7 140.9h0M166.7 174.7h0M152.6 166.5h0M166.5 176.2h0M149.3 142h0M167.8 179.6h0M159.6 161.7h0M160.8 149.7h0M153.7 101.4h0M164.5 126.1h0M159.8 160.6h0M148.5 136.1h0M159.6 171.8h0M165 161.4h0M147.9 138h0M139.6 110.1h0M162 181.5h0M161.7 169.9h0M167.7 147.4h0M165.8 142.2h0M159.3 152.8h0M165.6 164.7h0M155.8 178.8h0M159.8 181.1h0M160 148.5h0M158.9 172.4h0M164.6 166.2h0M155.5 175.4h0M159.8 170.8h0M158.6 177.9h0M164.5 168.9h0M159.6 167.3h0M152.1 148.7h0M162.3 178h0M167.3 185.8h0M160 169.3h0M151.5 154.5h0M160.6 172.5h0M144.1 136.8h0M157.4 161.8h0M156.5 177.7h0M130.5 48.4h0M131.1 81.9h0M144.2 79.6h0M142.2 105h0M139.2 108.4h0" stroke="#1f1fd0" stroke-width="1.35" stroke-linecap="round" fill="none"/>
<path d="M215.7 168.7h0M223.7 169.6h0M222.9 161.1h0M238.9 111.9h0M219.5 180.8h0M221.8 178.8h0M228.3 155.2h0M220 174.9h0M220.6 142h0M231 111.9h0M219 143.8h0M215.4 177.1h0M220.1 161.7h0M217.8 170.5h0M214 182.1h0M219.3 147h0M222.9 123.4h0M216 149.5h0M233.9 111.9h0M211.3 179.1h0M215.2 168.6h0M212.2 184.2h0M224.1 162.6h0M222.1 121.1h0M212.3 165.6h0M222.9 172.4h0M223 144.4h0M237 124.2h0M217.8 159.9h0M217.2 166.8h0M230.6 122.9h0M212.2 152h0M243.1 119.4h0M212.3 176.2h0M226.4 165h0M219.9 175.6h0M218.5 185.2h0M213 181.4h0M230.9 150.2h0M226.4 139.2h0M217.7 170.4h0M213.6 173.1h0M218.1 121.5h0M222 176.9h0M232.4 150.1h0M215.5 182.6h0M217.9 185.8h0M224.4 160.9h0M219.6 166.9h0M217.5 176.5h0M216.5 185.1h0M218.4 158.8h0M220.1 178.9h0M228.4 111.9h0M223.1 151.3h0M213.2 175.3h0M221.4 182.2h0M211.7 166.1h0M220.3 177h0M218 183.2h0M220.1 148h0M222.7 178.4h0M211 150.3h0M214.7 175.4h0M218.7 155.7h0M223.9 158.9h0M229.4 132h0M230.2 140.2h0M220.9 180.2h0M210.5 139.3h0M233.2 111.9h0M215.9 179.2h0M228.7 143.9h0M220.3 166.4h0M219.1 154.6h0M209.9 111.9h0M214.5 180.9h0M219.7 162.2h0M214.7 181.7h0M217.5 168.4h0M229.7 136.8h0M217.3 164.6h0M220.7 180.5h0M222.7 134.3h0M221.3 153h0M216.5 178.2h0M230.8 151.1h0M216.6 186.8h0M228.9 160.1h0M209.3 169.9h0M239.9 127h0M214.3 167.1h0M219.4 185.9h0M212.6 111.9h0M226.1 163.4h0M241.5 31.1h0M251.6 71.5h0M226.3 76.1h0M245.9 94.6h0M236.4 103.2h0" stroke="#f0a030" stroke-width="1.3" stroke-linecap="round" fill="none"/>
</g>
<rect x="79.5" y="24.2" width="218.5" height="186.60000000000002" fill="none" stroke="#1a1a1a" stroke-width="1.1"/>
<g stroke="#dc4448" stroke-width="1.6" stroke-dasharray="4.78 4.74" fill="none">
<path stroke-dashoffset="7.6" d="M168.4 24.2 V210.8 M209 24.2 V210.8"/>
<path stroke-dashoffset="0.35" d="M79.5 189.0 H298.0"/>
</g>
<path d="M67.4 204.2 H79.5M67.4 146.5 H79.5M67.4 88.8 H79.5M67.4 31.1 H79.5M107.8 210.8 V222.6M148.3 210.8 V222.6M188.8 210.8 V222.6M229.3 210.8 V222.6M269.8 210.8 V222.6" stroke="#1a1a1a" stroke-width="1.1"/>
<text transform="translate(52.1 204.2) rotate(-90)" text-anchor="middle" font-size="12.8">0</text>
<text transform="translate(52.1 146.5) rotate(-90)" text-anchor="middle" font-size="12.8">5</text>
<text transform="translate(52.1 88.8) rotate(-90)" text-anchor="middle" font-size="12.8">10</text>
<text transform="translate(52.1 31.1) rotate(-90)" text-anchor="middle" font-size="12.8">15</text>
<text x="107.8" y="251.7" text-anchor="middle" font-size="12.6">−4</text>
<text x="148.3" y="251.7" text-anchor="middle" font-size="12.6">−2</text>
<text x="188.8" y="251.7" text-anchor="middle" font-size="12.6">0</text>
<text x="229.3" y="251.7" text-anchor="middle" font-size="12.6">2</text>
<text x="269.8" y="251.7" text-anchor="middle" font-size="12.6">4</text>
<text x="149.6" y="275.3" font-size="16.8">Log<tspan font-size="12" dx="4.8" dy="3.4">2</tspan><tspan dx="4.4" dy="-3.4">(FC)</tspan></text>
<text transform="translate(19.1 119.2) rotate(-90)" text-anchor="middle" font-size="17.4">(−1)*Log<tspan font-size="12.6" dy="3.8">10</tspan><tspan dy="-3.8">(FDR)</tspan></text>
<g fill="#e5161e" font-size="13.4">
<text x="143.3" y="39.7">-1</text><text x="215.8" y="39.4">1</text>
<text x="96.4" y="184.1" font-size="9.6">FDR = 0.05</text>
</g>
<text x="2.1" y="20.7" font-size="26">A</text>
<path d="M79.5 485.8 H298.0" stroke="#bbb" stroke-width="0.6"/>
<path d="M86.5 485.5 L87.2 485.5 L87.9 485.5 L88.5 485.5 L89.2 485.5 L89.9 485.5 L90.6 485.4 L91.3 485.4 L92 485.4 L92.6 485.3 L93.3 485.3 L94 485.3 L94.7 485.2 L95.4 485.2 L96.1 485.1 L96.7 485 L97.4 484.9 L98.1 484.8 L98.8 484.7 L99.5 484.6 L100.2 484.4 L100.8 484.2 L101.5 484 L102.2 483.8 L102.9 483.6 L103.6 483.3 L104.2 482.9 L104.9 482.6 L105.6 482.2 L106.3 481.7 L107 481.2 L107.7 480.6 L108.3 480 L109 479.3 L109.7 478.6 L110.4 477.7 L111.1 476.8 L111.8 475.8 L112.4 474.6 L113.1 473.4 L113.8 472.1 L114.5 470.7 L115.2 469.1 L115.9 467.4 L116.5 465.6 L117.2 463.7 L117.9 461.6 L118.6 459.3 L119.3 456.9 L120 454.4 L120.6 451.7 L121.3 448.9 L122 445.9 L122.7 442.7 L123.4 439.4 L124.1 435.9 L124.7 432.2 L125.4 428.5 L126.1 424.5 L126.8 420.5 L127.5 416.3 L128.1 412 L128.8 407.6 L129.5 403.1 L130.2 398.5 L130.9 393.8 L131.6 389.1 L132.2 384.4 L132.9 379.6 L133.6 374.9 L134.3 370.2 L135 365.5 L135.7 360.9 L136.3 356.4 L137 352 L137.7 347.7 L138.4 343.6 L139.1 339.7 L139.8 335.9 L140.4 332.4 L141.1 329.1 L141.8 326.1 L142.5 323.4 L143.2 321 L143.9 318.8 L144.5 317 L145.2 315.5 L145.9 314.4 L146.6 313.6 L147.3 313.1 L148 313 L148.6 313.3 L149.3 313.9 L150 314.9 L150.7 316.2 L151.4 317.8 L152 319.8 L152.7 322.1 L153.4 324.7 L154.1 327.6 L154.8 330.7 L155.5 334.1 L156.1 337.7 L156.8 341.6 L157.5 345.6 L158.2 349.8 L158.9 354.1 L159.6 358.6 L160.2 363.1 L160.9 367.8 L161.6 372.5 L162.3 377.2 L163 382 L163.7 386.7 L164.3 391.4 L165 396.1 L165.7 400.7 L166.4 405.3 L167.1 409.7 L167.8 414.1 L168.4 418.3 L169.1 422.5 L169.8 426.5 L170.5 430.3 L171.2 434 L171.9 437.6 L172.5 441 L173.2 444.3 L173.9 447.3 L174.6 450.3 L175.3 453.1 L175.9 455.7 L176.6 458.1 L177.3 460.4 L178 462.6 L178.7 464.6 L179.4 466.5 L180 468.3 L180.7 469.9 L181.4 471.4 L182.1 472.8 L182.8 474 L183.5 475.2 L184.1 476.2 L184.8 477.2 L185.5 478.1 L186.2 478.9 L186.9 479.6 L187.6 480.3 L188.2 480.8 L188.9 481.3 L189.6 481.8 L190.3 482.2 L191 482.6 L191.7 482.9 L192.3 483.1 L193 483.3 L193.7 483.5 L194.4 483.6 L195.1 483.7 L195.7 483.7 L196.4 483.7 L197.1 483.7 L197.8 483.6 L198.5 483.5 L199.2 483.3 L199.8 483.1 L200.5 482.8 L201.2 482.4 L201.9 482 L202.6 481.6 L203.3 481 L203.9 480.4 L204.6 479.7 L205.3 478.9 L206 478 L206.7 477 L207.4 475.9 L208 474.7 L208.7 473.4 L209.4 471.9 L210.1 470.3 L210.8 468.6 L211.5 466.7 L212.1 464.7 L212.8 462.6 L213.5 460.3 L214.2 457.8 L214.9 455.2 L215.6 452.5 L216.2 449.6 L216.9 446.7 L217.6 443.5 L218.3 440.3 L219 437 L219.6 433.6 L220.3 430.2 L221 426.7 L221.7 423.1 L222.4 419.6 L223.1 416.1 L223.7 412.6 L224.4 409.2 L225.1 405.9 L225.8 402.7 L226.5 399.6 L227.2 396.7 L227.8 394 L228.5 391.5 L229.2 389.3 L229.9 387.2 L230.6 385.5 L231.3 384 L231.9 382.9 L232.6 382 L233.3 381.5 L234 381.3 L234.7 381.4 L235.4 381.9 L236 382.6 L236.7 383.7 L237.4 385.1 L238.1 386.8 L238.8 388.7 L239.5 390.9 L240.1 393.4 L240.8 396 L241.5 398.9 L242.2 401.9 L242.9 405.1 L243.5 408.4 L244.2 411.7 L244.9 415.2 L245.6 418.7 L246.3 422.2 L247 425.8 L247.6 429.3 L248.3 432.8 L249 436.2 L249.7 439.5 L250.4 442.7 L251.1 445.9 L251.7 448.9 L252.4 451.8 L253.1 454.6 L253.8 457.2 L254.5 459.7 L255.2 462 L255.8 464.2 L256.5 466.3 L257.2 468.2 L257.9 469.9 L258.6 471.6 L259.3 473.1 L259.9 474.5 L260.6 475.7 L261.3 476.8 L262 477.9 L262.7 478.8 L263.4 479.6 L264 480.4 L264.7 481.1 L265.4 481.7 L266.1 482.2 L266.8 482.6 L267.4 483.1 L268.1 483.4 L268.8 483.7 L269.5 484 L270.2 484.2 L270.9 484.4 L271.5 484.6 L272.2 484.8 L272.9 484.9 L273.6 485 L274.3 485.1 L275 485.2 L275.6 485.2 L276.3 485.3 L277 485.3 L277.7 485.4 L278.4 485.4 L279.1 485.4 L279.7 485.5 L280.4 485.5 L281.1 485.5 L281.8 485.5 L282.5 485.5 L283.2 485.5 L283.8 485.5 L284.5 485.5 L285.2 485.5 L285.9 485.5 L286.6 485.5 L287.2 485.5 L287.9 485.6 L288.6 485.6 L289.3 485.6 L290 485.6 L290.7 485.6" stroke="#e5161e" stroke-width="1.15" fill="none"/>
<rect x="79.5" y="306.0" width="218.5" height="186.60000000000002" fill="none" stroke="#1a1a1a" stroke-width="1.1"/>
<path d="M67.4 485.8 H79.5M67.4 461.5 H79.5M67.4 437.2 H79.5M67.4 412.9 H79.5M67.4 388.6 H79.5M67.4 364.3 H79.5M67.4 340 H79.5M67.4 315.7 H79.5M116.2 492.6 V504M153.8 492.6 V504M191.4 492.6 V504M229 492.6 V504M266.6 492.6 V504" stroke="#1a1a1a" stroke-width="1.1"/>
<text transform="translate(52.1 485.8) rotate(-90)" text-anchor="middle" font-size="12.8">0.0</text>
<text transform="translate(52.1 437.2) rotate(-90)" text-anchor="middle" font-size="12.8">0.2</text>
<text transform="translate(52.1 388.6) rotate(-90)" text-anchor="middle" font-size="12.8">0.4</text>
<text transform="translate(52.1 340) rotate(-90)" text-anchor="middle" font-size="12.8">0.6</text>
<text x="116.2" y="533.6" text-anchor="middle" font-size="12.6">−2</text>
<text x="153.8" y="533.6" text-anchor="middle" font-size="12.6">−1</text>
<text x="191.4" y="533.6" text-anchor="middle" font-size="12.6">0</text>
<text x="229" y="533.6" text-anchor="middle" font-size="12.6">1</text>
<text x="266.6" y="533.6" text-anchor="middle" font-size="12.6">2</text>
<text x="158.7" y="564.5" font-size="16.5">Log<tspan font-size="11.5" dy="3.9">2</tspan><tspan dx="4" dy="-3.9">FC</tspan></text>
<text transform="translate(14.7 398.3) rotate(-90)" text-anchor="middle" font-size="16.8">Density</text>
<g fill="#e5161e" font-size="15.9"><text x="88.6" y="332">N=185</text><text x="223.1" y="374.3">N=109</text></g>
<text x="-0.85" y="309.6" font-size="26">B</text>
<text x="334.4" y="20.1" font-size="26">C</text>
<path d="M442.3 112.9V74.7H446.9V112.9M451.6 112.9V86.5H456.2V112.9M465.4 112.9V97.9H470V112.9M460.8 112.9V91.5H467.7V97.9M474.6 112.9V88.6H479.3V112.9M464.3 91.5V83.4H477V88.6M453.9 86.5V77.3H470.6V83.4M497.8 112.9V95.5H502.4V112.9M493.1 112.9V88.6H500.1V95.5M488.5 112.9V78.3H496.6V88.6M483.9 112.9V74.7H492.6V78.3M516.2 112.9V91.6H520.9V112.9M511.6 112.9V88.6H518.5V91.6M530.1 112.9V91.6H534.7V112.9M525.5 112.9V84.4H532.4V91.6M515.1 88.6V74.4H528.9V84.4M507 112.9V72.3H522V74.4M488.2 74.7V69H514.5V72.3M462.2 77.3V65.1H501.4V69M444.6 74.7V56.3H481.8V65.1M539.3 112.9V63.3H544V112.9M548.6 112.9V62.7H553.2V112.9M571.7 112.9V96.6H576.3V112.9M567 112.9V94.5H574V96.6M562.4 112.9V88.6H570.5V94.5M557.8 112.9V74.5H566.5V88.6M590.1 112.9V81H594.8V112.9M585.5 112.9V73.6H592.5V81M580.9 112.9V67.5H589V73.6M562.1 74.5V58.6H585V67.5M550.9 62.7V56.8H573.5V58.6M541.6 63.3V54.5H562.2V56.8M463.2 56.3V51.2H551.9V54.5M608.6 112.9V100.3H613.2V112.9M604 112.9V95.4H610.9V100.3M617.9 112.9V95.7H622.5V112.9M631.7 112.9V95.5H636.4V112.9M627.1 112.9V87.5H634V95.5M620.2 95.7V79.3H630.6V87.5M607.5 95.4V72.6H625.4V79.3M599.4 112.9V65H616.4V72.6M641 112.9V88.2H645.6V112.9M659.5 112.9V91.5H664.1V112.9M654.8 112.9V86.3H661.8V91.5M650.2 112.9V76.3H658.3V86.3M643.3 88.2V65.3H654.3V76.3M668.7 112.9V88.4H673.3V112.9M682.5 112.9V89.4H687.2V112.9M677.9 112.9V82H684.9V89.4M671 88.4V78H681.4V82M696.4 112.9V86.5H701V112.9M691.8 112.9V70.5H698.7V86.5M676.2 78V67.5H695.3V70.5M705.7 112.9V93.8H710.3V112.9M714.9 112.9V89.2H719.5V112.9M728.8 112.9V93.6H733.4V112.9M724.1 112.9V83.3H731.1V93.6M717.2 89.2V81.8H727.6V83.3M708 93.8V67.5H722.4V81.8M685.7 67.5V60.5H715.2V67.5M648.8 65.3V55.4H700.5V60.5M607.9 65V48.3H674.6V55.4M507.6 51.2V29.6H641.3V48.3" stroke="#111" stroke-width="1.3" fill="none"/>
<rect x="440.0" y="113.8" width="295.68" height="18" fill="#5b8ee8"/>
<rect x="597.08" y="113.8" width="101.64" height="18" fill="#ff5fae"/>
<rect x="707.96" y="113.8" width="18.48" height="18" fill="#ff5fae"/>
<rect x="731.06" y="113.8" width="4.62" height="18" fill="#ff5fae"/>
<rect x="391.3" y="103.5" width="12.2" height="13.3" fill="#5b8ee8"/><rect x="391.3" y="116.8" width="12.2" height="13.3" fill="#ff5fae"/>
<text x="405.5" y="114.3" font-size="12.9">bad</text><text x="405.5" y="126.6" font-size="12.9">good</text>
<g transform="translate(440.0 133.5) scale(4.62 1.80284)" shape-rendering="crispEdges">
<path fill="#a8d3b5" d="M3 58h1v1h-1zM12 91h1v1h-1zM61 130h1v1h-1z"/>
<path fill="#b4d9bf" d="M30 5h1v1h-1zM3 9h1v1h-1zM14 9h1v1h-1zM24 9h1v1h-1zM31 9h1v1h-1zM3 21h1v1h-1zM24 21h1v1h-1zM28 21h1v1h-1zM30 21h1v1h-1zM0 24h2v1h-2zM12 24h1v1h-1zM16 24h1v1h-1zM27 24h1v1h-1zM59 24h1v1h-1zM12 28h1v1h-1zM17 28h1v1h-1zM31 38h1v1h-1zM12 39h1v1h-1zM54 39h1v1h-1zM20 43h1v1h-1zM49 43h1v1h-1zM13 46h1v1h-1zM18 46h1v1h-1zM30 46h1v1h-1zM17 55h1v1h-1zM8 58h1v1h-1zM16 58h1v1h-1zM18 58h1v1h-1zM27 58h1v1h-1zM2 76h1v1h-1zM12 76h1v1h-1zM24 76h1v1h-1zM55 80h1v1h-1zM3 85h1v1h-1zM12 85h2v1h-2zM17 85h1v1h-1zM27 85h1v1h-1zM18 87h1v1h-1zM3 91h1v1h-1zM8 91h1v1h-1zM16 91h1v1h-1zM18 91h1v1h-1zM40 91h1v1h-1zM46 91h1v1h-1zM12 105h1v1h-1zM16 105h1v1h-1zM25 105h1v1h-1zM31 105h1v1h-1zM0 109h1v1h-1zM14 109h1v1h-1zM27 109h1v1h-1zM6 115h1v1h-1zM17 115h1v1h-1zM25 123h1v1h-1zM43 130h1v1h-1zM46 130h1v1h-1zM52 130h1v1h-1zM58 130h1v1h-1zM60 130h1v1h-1zM62 130h1v1h-1zM24 144h1v1h-1zM50 148h1v1h-1zM55 148h1v1h-1zM57 148h1v1h-1zM50 166h1v1h-1zM55 166h1v1h-1zM63 166h1v1h-1zM61 170h1v1h-1zM10 182h1v1h-1zM55 185h1v1h-1zM61 188h2v1h-2zM42 196h1v1h-1zM60 196h1v1h-1zM29 198h1v1h-1zM62 198h1v1h-1z"/>
<path fill="#c0dfca" d="M24 0h1v1h-1zM12 3h1v1h-1zM16 3h1v1h-1zM18 3h1v1h-1zM24 3h1v1h-1zM36 3h1v1h-1zM48 3h1v1h-1zM1 4h1v1h-1zM51 4h1v1h-1zM19 5h1v1h-1zM32 5h1v1h-1zM51 5h1v1h-1zM49 6h1v1h-1zM9 7h1v1h-1zM50 7h1v1h-1zM2 9h1v1h-1zM4 9h1v1h-1zM6 9h2v1h-2zM9 9h2v1h-2zM12 9h2v1h-2zM15 9h4v1h-4zM21 9h3v1h-3zM25 9h6v1h-6zM32 9h2v1h-2zM12 11h1v1h-1zM27 11h1v1h-1zM15 13h1v1h-1zM31 13h1v1h-1zM7 14h1v1h-1zM12 14h1v1h-1zM30 14h1v1h-1zM55 15h1v1h-1zM43 17h1v1h-1zM12 19h1v1h-1zM0 20h2v1h-2zM13 20h1v1h-1zM16 20h2v1h-2zM24 20h1v1h-1zM27 20h1v1h-1zM30 20h2v1h-2zM35 20h1v1h-1zM0 21h2v1h-2zM4 21h1v1h-1zM7 21h1v1h-1zM13 21h1v1h-1zM16 21h3v1h-3zM25 21h2v1h-2zM29 21h1v1h-1zM32 21h2v1h-2zM46 21h1v1h-1zM36 22h1v1h-1zM0 23h1v1h-1zM3 23h1v1h-1zM17 23h1v1h-1zM24 23h1v1h-1zM31 23h1v1h-1zM33 23h1v1h-1zM2 24h10v1h-10zM13 24h3v1h-3zM17 24h2v1h-2zM20 24h2v1h-2zM23 24h1v1h-1zM25 24h2v1h-2zM28 24h1v1h-1zM31 24h4v1h-4zM0 25h1v1h-1zM11 25h1v1h-1zM13 25h1v1h-1zM17 25h1v1h-1zM23 25h2v1h-2zM27 25h1v1h-1zM33 25h1v1h-1zM55 25h1v1h-1zM11 26h2v1h-2zM24 26h1v1h-1zM38 26h1v1h-1zM3 27h2v1h-2zM13 27h4v1h-4zM24 27h2v1h-2zM30 27h4v1h-4zM0 28h5v1h-5zM9 28h1v1h-1zM14 28h3v1h-3zM18 28h1v1h-1zM20 28h1v1h-1zM22 28h1v1h-1zM24 28h1v1h-1zM26 28h3v1h-3zM30 28h1v1h-1zM39 28h1v1h-1zM12 29h1v1h-1zM17 29h1v1h-1zM24 29h1v1h-1zM12 30h1v1h-1zM15 31h3v1h-3zM24 31h1v1h-1zM2 32h1v1h-1zM9 32h2v1h-2zM13 32h1v1h-1zM16 32h1v1h-1zM18 32h1v1h-1zM23 32h1v1h-1zM28 32h1v1h-1zM33 32h1v1h-1zM12 33h1v1h-1zM12 34h1v1h-1zM12 35h1v1h-1zM27 38h1v1h-1zM32 38h1v1h-1zM7 39h1v1h-1zM10 39h1v1h-1zM17 39h1v1h-1zM25 39h1v1h-1zM28 39h1v1h-1zM0 43h2v1h-2zM3 43h1v1h-1zM6 43h2v1h-2zM9 43h1v1h-1zM12 43h1v1h-1zM14 43h1v1h-1zM16 43h2v1h-2zM19 43h1v1h-1zM23 43h2v1h-2zM30 43h2v1h-2zM4 44h1v1h-1zM7 44h1v1h-1zM12 44h1v1h-1zM25 44h2v1h-2zM30 44h2v1h-2zM8 45h1v1h-1zM12 45h1v1h-1zM16 45h1v1h-1zM24 45h1v1h-1zM28 45h1v1h-1zM31 45h1v1h-1zM0 46h3v1h-3zM4 46h1v1h-1zM7 46h1v1h-1zM12 46h1v1h-1zM14 46h3v1h-3zM19 46h3v1h-3zM23 46h1v1h-1zM25 46h1v1h-1zM27 46h1v1h-1zM29 46h1v1h-1zM31 46h1v1h-1zM3 47h1v1h-1zM1 49h2v1h-2zM15 49h1v1h-1zM30 49h3v1h-3zM5 55h6v1h-6zM12 55h3v1h-3zM21 55h1v1h-1zM24 55h2v1h-2zM27 55h1v1h-1zM31 55h3v1h-3zM46 55h1v1h-1zM56 55h1v1h-1zM4 58h1v1h-1zM9 58h4v1h-4zM14 58h1v1h-1zM17 58h1v1h-1zM19 58h1v1h-1zM23 58h4v1h-4zM28 58h1v1h-1zM30 58h1v1h-1zM32 58h1v1h-1zM0 60h1v1h-1zM12 60h1v1h-1zM47 60h1v1h-1zM3 62h1v1h-1zM31 62h1v1h-1zM12 63h1v1h-1zM17 63h1v1h-1zM24 64h1v1h-1zM3 65h1v1h-1zM9 65h1v1h-1zM17 65h1v1h-1zM24 65h1v1h-1zM27 65h1v1h-1zM31 65h1v1h-1zM33 65h1v1h-1zM12 67h1v1h-1zM15 67h1v1h-1zM60 68h1v1h-1zM12 69h1v1h-1zM24 69h1v1h-1zM17 72h1v1h-1zM25 72h1v1h-1zM0 73h1v1h-1zM38 73h1v1h-1zM0 76h1v1h-1zM5 76h1v1h-1zM7 76h1v1h-1zM17 76h1v1h-1zM25 76h3v1h-3zM29 76h3v1h-3zM33 76h1v1h-1zM43 76h1v1h-1zM62 76h1v1h-1zM30 79h2v1h-2zM3 80h2v1h-2zM6 80h1v1h-1zM9 80h3v1h-3zM13 80h1v1h-1zM15 80h1v1h-1zM17 80h1v1h-1zM20 80h2v1h-2zM24 80h1v1h-1zM26 80h1v1h-1zM31 80h1v1h-1zM40 80h1v1h-1zM0 82h1v1h-1zM3 82h1v1h-1zM7 82h1v1h-1zM9 82h1v1h-1zM12 82h2v1h-2zM15 82h1v1h-1zM17 82h1v1h-1zM19 82h1v1h-1zM23 82h3v1h-3zM31 82h1v1h-1zM40 82h1v1h-1zM54 82h1v1h-1zM2 85h1v1h-1zM4 85h2v1h-2zM7 85h1v1h-1zM9 85h1v1h-1zM14 85h3v1h-3zM18 85h1v1h-1zM20 85h1v1h-1zM24 85h1v1h-1zM26 85h1v1h-1zM30 85h4v1h-4zM47 85h2v1h-2zM12 86h1v1h-1zM16 86h1v1h-1zM0 87h4v1h-4zM7 87h1v1h-1zM10 87h1v1h-1zM12 87h6v1h-6zM19 87h1v1h-1zM24 87h1v1h-1zM28 87h3v1h-3zM33 87h1v1h-1zM35 87h1v1h-1zM25 88h1v1h-1zM0 91h3v1h-3zM4 91h2v1h-2zM7 91h1v1h-1zM9 91h2v1h-2zM13 91h2v1h-2zM17 91h1v1h-1zM23 91h1v1h-1zM27 91h7v1h-7zM55 91h2v1h-2zM12 92h1v1h-1zM17 92h1v1h-1zM33 92h1v1h-1zM18 95h1v1h-1zM0 96h1v1h-1zM14 96h1v1h-1zM16 96h2v1h-2zM23 96h2v1h-2zM37 96h1v1h-1zM12 98h1v1h-1zM33 99h1v1h-1zM3 100h1v1h-1zM7 100h1v1h-1zM23 100h2v1h-2zM30 100h1v1h-1zM35 100h1v1h-1zM61 100h1v1h-1zM30 103h1v1h-1zM32 103h1v1h-1zM16 104h1v1h-1zM24 104h1v1h-1zM0 105h4v1h-4zM7 105h1v1h-1zM14 105h1v1h-1zM18 105h1v1h-1zM21 105h1v1h-1zM24 105h1v1h-1zM30 105h1v1h-1zM56 105h1v1h-1zM3 106h1v1h-1zM7 106h1v1h-1zM14 106h1v1h-1zM24 106h1v1h-1zM38 106h1v1h-1zM16 108h1v1h-1zM48 108h1v1h-1zM2 109h2v1h-2zM7 109h1v1h-1zM9 109h1v1h-1zM12 109h1v1h-1zM16 109h3v1h-3zM22 109h4v1h-4zM28 109h1v1h-1zM30 109h1v1h-1zM32 109h2v1h-2zM47 109h1v1h-1zM50 109h1v1h-1zM59 109h1v1h-1zM24 113h1v1h-1zM31 113h1v1h-1zM2 114h1v1h-1zM17 114h1v1h-1zM21 114h1v1h-1zM31 114h1v1h-1zM55 114h1v1h-1zM0 115h1v1h-1zM2 115h2v1h-2zM7 115h1v1h-1zM9 115h5v1h-5zM15 115h2v1h-2zM20 115h1v1h-1zM29 115h4v1h-4zM37 118h1v1h-1zM55 118h1v1h-1zM37 119h1v1h-1zM42 119h1v1h-1zM52 119h1v1h-1zM52 121h1v1h-1zM61 121h2v1h-2zM62 122h1v1h-1zM43 123h1v1h-1zM55 123h1v1h-1zM27 124h1v1h-1zM50 124h1v1h-1zM46 128h1v1h-1zM52 128h1v1h-1zM58 128h1v1h-1zM28 130h1v1h-1zM34 130h1v1h-1zM37 130h2v1h-2zM41 130h2v1h-2zM47 130h1v1h-1zM49 130h3v1h-3zM53 130h2v1h-2zM56 130h1v1h-1zM59 130h1v1h-1zM63 130h1v1h-1zM19 131h1v1h-1zM21 131h1v1h-1zM23 131h1v1h-1zM27 131h1v1h-1zM40 131h2v1h-2zM44 131h3v1h-3zM50 131h1v1h-1zM52 131h1v1h-1zM55 131h2v1h-2zM59 131h2v1h-2zM63 131h1v1h-1zM37 133h1v1h-1zM21 139h1v1h-1zM7 140h1v1h-1zM46 140h2v1h-2zM55 140h1v1h-1zM61 140h1v1h-1zM3 141h1v1h-1zM46 141h1v1h-1zM54 141h1v1h-1zM57 141h2v1h-2zM61 141h2v1h-2zM5 142h1v1h-1zM37 142h1v1h-1zM50 142h1v1h-1zM2 143h1v1h-1zM40 143h1v1h-1zM42 143h2v1h-2zM45 143h1v1h-1zM54 143h2v1h-2zM58 143h1v1h-1zM60 143h2v1h-2zM29 144h1v1h-1zM54 144h1v1h-1zM55 145h1v1h-1zM61 145h1v1h-1zM50 147h1v1h-1zM59 147h1v1h-1zM8 148h1v1h-1zM34 148h1v1h-1zM37 148h2v1h-2zM42 148h1v1h-1zM45 148h2v1h-2zM48 148h2v1h-2zM52 148h3v1h-3zM56 148h1v1h-1zM58 148h1v1h-1zM60 148h3v1h-3zM42 149h1v1h-1zM50 149h1v1h-1zM1 153h1v1h-1zM34 153h1v1h-1zM52 154h2v1h-2zM60 154h1v1h-1zM39 159h1v1h-1zM44 159h1v1h-1zM52 159h2v1h-2zM61 159h1v1h-1zM34 161h1v1h-1zM22 162h1v1h-1zM61 164h1v1h-1zM31 166h2v1h-2zM37 166h1v1h-1zM46 166h2v1h-2zM52 166h1v1h-1zM56 166h1v1h-1zM58 166h1v1h-1zM60 166h2v1h-2zM58 167h1v1h-1zM61 167h1v1h-1zM21 168h1v1h-1zM61 168h1v1h-1zM57 170h1v1h-1zM61 173h1v1h-1zM52 176h1v1h-1zM55 176h1v1h-1zM62 176h1v1h-1zM34 177h1v1h-1zM50 177h1v1h-1zM61 178h1v1h-1zM63 178h1v1h-1zM58 180h1v1h-1zM23 181h1v1h-1zM16 182h1v1h-1zM30 182h1v1h-1zM40 182h3v1h-3zM45 182h1v1h-1zM54 182h2v1h-2zM58 182h1v1h-1zM60 182h2v1h-2zM12 184h1v1h-1zM38 184h1v1h-1zM50 184h1v1h-1zM62 184h1v1h-1zM0 185h1v1h-1zM18 185h1v1h-1zM37 185h1v1h-1zM48 185h1v1h-1zM52 185h1v1h-1zM4 186h1v1h-1zM52 186h1v1h-1zM55 186h1v1h-1zM19 187h1v1h-1zM61 187h1v1h-1zM63 187h1v1h-1zM40 189h1v1h-1zM55 189h1v1h-1zM60 189h2v1h-2zM37 190h1v1h-1zM40 190h1v1h-1zM53 190h1v1h-1zM61 190h1v1h-1zM33 191h2v1h-2zM37 191h2v1h-2zM50 191h1v1h-1zM52 191h1v1h-1zM22 194h1v1h-1zM37 194h1v1h-1zM52 194h1v1h-1zM55 194h1v1h-1zM58 194h1v1h-1zM60 194h2v1h-2zM23 195h1v1h-1zM52 195h1v1h-1zM55 195h1v1h-1zM34 196h5v1h-5zM40 196h1v1h-1zM46 196h1v1h-1zM50 196h1v1h-1zM53 196h2v1h-2zM57 196h2v1h-2zM61 196h2v1h-2zM1 198h1v1h-1zM33 198h1v1h-1zM35 198h1v1h-1zM37 198h1v1h-1zM40 198h1v1h-1zM46 198h2v1h-2zM54 198h2v1h-2zM59 198h1v1h-1zM61 198h1v1h-1zM63 198h1v1h-1zM21 201h1v1h-1zM23 201h1v1h-1zM34 201h1v1h-1zM36 201h3v1h-3zM41 201h2v1h-2zM50 201h1v1h-1zM32 202h1v1h-1zM18 207h1v1h-1zM55 207h1v1h-1zM61 209h1v1h-1z"/>
<path fill="#cde6d4" d="M3 0h2v1h-2zM7 0h1v1h-1zM10 0h1v1h-1zM12 0h2v1h-2zM15 0h4v1h-4zM25 0h1v1h-1zM15 2h1v1h-1zM0 3h1v1h-1zM2 3h2v1h-2zM6 3h1v1h-1zM8 3h2v1h-2zM11 3h1v1h-1zM13 3h1v1h-1zM15 3h1v1h-1zM17 3h1v1h-1zM22 3h2v1h-2zM26 3h8v1h-8zM37 3h1v1h-1zM6 4h2v1h-2zM12 4h1v1h-1zM15 4h1v1h-1zM18 4h2v1h-2zM23 4h2v1h-2zM31 4h1v1h-1zM33 4h1v1h-1zM52 4h1v1h-1zM57 4h1v1h-1zM63 4h1v1h-1zM3 5h2v1h-2zM9 5h2v1h-2zM12 5h1v1h-1zM15 5h1v1h-1zM18 5h1v1h-1zM21 5h1v1h-1zM23 5h2v1h-2zM26 5h1v1h-1zM28 5h2v1h-2zM31 5h1v1h-1zM43 5h1v1h-1zM54 5h1v1h-1zM61 5h1v1h-1zM2 6h1v1h-1zM12 6h1v1h-1zM14 6h1v1h-1zM17 6h1v1h-1zM22 6h1v1h-1zM54 6h1v1h-1zM0 7h1v1h-1zM2 7h2v1h-2zM5 7h1v1h-1zM7 7h1v1h-1zM11 7h2v1h-2zM15 7h3v1h-3zM19 7h1v1h-1zM27 7h1v1h-1zM31 7h2v1h-2zM7 8h1v1h-1zM17 8h1v1h-1zM1 9h1v1h-1zM5 9h1v1h-1zM8 9h1v1h-1zM11 9h1v1h-1zM19 9h2v1h-2zM42 9h1v1h-1zM56 9h1v1h-1zM63 9h1v1h-1zM0 11h2v1h-2zM3 11h2v1h-2zM9 11h2v1h-2zM13 11h3v1h-3zM17 11h1v1h-1zM19 11h1v1h-1zM21 11h1v1h-1zM23 11h1v1h-1zM25 11h1v1h-1zM28 11h1v1h-1zM30 11h1v1h-1zM32 11h2v1h-2zM41 11h1v1h-1zM0 12h1v1h-1zM2 12h1v1h-1zM9 12h1v1h-1zM15 12h2v1h-2zM19 12h1v1h-1zM33 12h1v1h-1zM54 12h1v1h-1zM0 13h1v1h-1zM2 13h2v1h-2zM7 13h1v1h-1zM10 13h3v1h-3zM14 13h1v1h-1zM16 13h2v1h-2zM19 13h1v1h-1zM21 13h2v1h-2zM24 13h1v1h-1zM26 13h2v1h-2zM30 13h1v1h-1zM32 13h2v1h-2zM54 13h1v1h-1zM56 13h1v1h-1zM0 14h1v1h-1zM2 14h2v1h-2zM14 14h3v1h-3zM18 14h2v1h-2zM21 14h4v1h-4zM26 14h1v1h-1zM28 14h2v1h-2zM31 14h1v1h-1zM37 14h1v1h-1zM10 15h1v1h-1zM12 15h1v1h-1zM14 15h1v1h-1zM16 15h2v1h-2zM25 15h1v1h-1zM37 15h1v1h-1zM3 16h1v1h-1zM8 16h1v1h-1zM15 16h3v1h-3zM24 16h1v1h-1zM3 17h2v1h-2zM6 17h2v1h-2zM9 17h1v1h-1zM12 17h1v1h-1zM14 17h3v1h-3zM18 17h1v1h-1zM22 17h1v1h-1zM24 17h1v1h-1zM26 17h1v1h-1zM28 17h1v1h-1zM30 17h1v1h-1zM32 17h1v1h-1zM0 18h1v1h-1zM4 18h1v1h-1zM6 18h2v1h-2zM10 18h3v1h-3zM16 18h1v1h-1zM24 18h1v1h-1zM27 18h1v1h-1zM31 18h1v1h-1zM43 18h2v1h-2zM0 19h1v1h-1zM16 19h1v1h-1zM33 19h1v1h-1zM61 19h1v1h-1zM2 20h8v1h-8zM11 20h2v1h-2zM15 20h1v1h-1zM18 20h1v1h-1zM21 20h1v1h-1zM23 20h1v1h-1zM26 20h1v1h-1zM32 20h2v1h-2zM39 20h1v1h-1zM51 20h1v1h-1zM57 20h1v1h-1zM2 21h1v1h-1zM9 21h2v1h-2zM14 21h2v1h-2zM19 21h2v1h-2zM22 21h2v1h-2zM27 21h1v1h-1zM37 21h1v1h-1zM54 21h1v1h-1zM56 21h1v1h-1zM3 22h1v1h-1zM12 22h1v1h-1zM16 22h1v1h-1zM18 22h1v1h-1zM20 22h1v1h-1zM31 22h1v1h-1zM33 22h1v1h-1zM56 22h1v1h-1zM1 23h2v1h-2zM4 23h1v1h-1zM6 23h1v1h-1zM8 23h3v1h-3zM12 23h1v1h-1zM14 23h3v1h-3zM18 23h2v1h-2zM21 23h2v1h-2zM25 23h1v1h-1zM28 23h1v1h-1zM30 23h1v1h-1zM32 23h1v1h-1zM35 23h1v1h-1zM47 23h2v1h-2zM52 23h2v1h-2zM19 24h1v1h-1zM22 24h1v1h-1zM29 24h1v1h-1zM40 24h2v1h-2zM53 24h1v1h-1zM61 24h1v1h-1zM1 25h2v1h-2zM5 25h3v1h-3zM9 25h1v1h-1zM12 25h1v1h-1zM14 25h3v1h-3zM18 25h2v1h-2zM25 25h2v1h-2zM28 25h2v1h-2zM31 25h1v1h-1zM1 26h4v1h-4zM14 26h2v1h-2zM17 26h3v1h-3zM21 26h2v1h-2zM26 26h1v1h-1zM31 26h3v1h-3zM44 26h1v1h-1zM0 27h3v1h-3zM5 27h3v1h-3zM10 27h3v1h-3zM17 27h3v1h-3zM21 27h1v1h-1zM26 27h1v1h-1zM28 27h2v1h-2zM49 27h1v1h-1zM55 27h2v1h-2zM59 27h1v1h-1zM62 27h1v1h-1zM5 28h3v1h-3zM10 28h1v1h-1zM13 28h1v1h-1zM19 28h1v1h-1zM21 28h1v1h-1zM25 28h1v1h-1zM29 28h1v1h-1zM31 28h3v1h-3zM40 28h2v1h-2zM53 28h2v1h-2zM57 28h1v1h-1zM2 29h1v1h-1zM7 29h1v1h-1zM9 29h1v1h-1zM14 29h1v1h-1zM16 29h1v1h-1zM27 29h1v1h-1zM31 29h1v1h-1zM54 29h1v1h-1zM63 29h1v1h-1zM3 30h1v1h-1zM16 30h1v1h-1zM26 30h1v1h-1zM30 30h1v1h-1zM0 31h1v1h-1zM2 31h3v1h-3zM7 31h4v1h-4zM12 31h3v1h-3zM18 31h1v1h-1zM21 31h1v1h-1zM25 31h1v1h-1zM27 31h1v1h-1zM31 31h1v1h-1zM33 31h1v1h-1zM0 32h2v1h-2zM3 32h1v1h-1zM7 32h1v1h-1zM12 32h1v1h-1zM14 32h2v1h-2zM17 32h1v1h-1zM20 32h1v1h-1zM25 32h3v1h-3zM29 32h1v1h-1zM31 32h2v1h-2zM49 32h1v1h-1zM52 32h1v1h-1zM0 33h1v1h-1zM3 33h1v1h-1zM7 33h2v1h-2zM14 33h3v1h-3zM18 33h1v1h-1zM22 33h1v1h-1zM30 33h2v1h-2zM33 33h1v1h-1zM61 33h1v1h-1zM15 34h2v1h-2zM31 34h1v1h-1zM58 34h1v1h-1zM2 35h4v1h-4zM7 35h1v1h-1zM9 35h1v1h-1zM13 35h6v1h-6zM21 35h1v1h-1zM24 35h1v1h-1zM27 35h1v1h-1zM30 35h2v1h-2zM43 35h1v1h-1zM49 35h1v1h-1zM2 36h1v1h-1zM15 36h1v1h-1zM24 36h1v1h-1zM30 36h1v1h-1zM12 37h1v1h-1zM25 37h1v1h-1zM32 37h1v1h-1zM2 38h1v1h-1zM4 38h1v1h-1zM7 38h2v1h-2zM11 38h2v1h-2zM21 38h1v1h-1zM23 38h3v1h-3zM33 38h1v1h-1zM36 38h1v1h-1zM59 38h1v1h-1zM0 39h4v1h-4zM11 39h1v1h-1zM13 39h4v1h-4zM18 39h2v1h-2zM21 39h1v1h-1zM26 39h2v1h-2zM29 39h4v1h-4zM49 39h1v1h-1zM61 39h1v1h-1zM3 40h1v1h-1zM9 40h4v1h-4zM14 40h2v1h-2zM50 40h1v1h-1zM0 41h1v1h-1zM2 41h1v1h-1zM9 41h2v1h-2zM12 41h5v1h-5zM24 41h1v1h-1zM31 41h1v1h-1zM0 42h1v1h-1zM10 42h1v1h-1zM12 42h1v1h-1zM16 42h1v1h-1zM2 43h1v1h-1zM4 43h1v1h-1zM8 43h1v1h-1zM10 43h1v1h-1zM13 43h1v1h-1zM15 43h1v1h-1zM21 43h2v1h-2zM25 43h2v1h-2zM28 43h2v1h-2zM32 43h2v1h-2zM44 43h1v1h-1zM53 43h3v1h-3zM0 44h1v1h-1zM2 44h2v1h-2zM10 44h1v1h-1zM13 44h6v1h-6zM21 44h2v1h-2zM24 44h1v1h-1zM27 44h1v1h-1zM29 44h1v1h-1zM33 44h1v1h-1zM56 44h1v1h-1zM0 45h1v1h-1zM2 45h4v1h-4zM7 45h1v1h-1zM9 45h2v1h-2zM14 45h2v1h-2zM17 45h2v1h-2zM21 45h1v1h-1zM23 45h1v1h-1zM26 45h1v1h-1zM29 45h2v1h-2zM32 45h2v1h-2zM50 45h1v1h-1zM3 46h1v1h-1zM5 46h2v1h-2zM8 46h4v1h-4zM24 46h1v1h-1zM26 46h1v1h-1zM28 46h1v1h-1zM32 46h2v1h-2zM49 46h1v1h-1zM12 47h1v1h-1zM15 47h4v1h-4zM21 47h4v1h-4zM30 47h2v1h-2zM58 47h1v1h-1zM12 48h1v1h-1zM14 48h1v1h-1zM24 48h1v1h-1zM30 48h1v1h-1zM3 49h4v1h-4zM8 49h2v1h-2zM13 49h2v1h-2zM16 49h1v1h-1zM18 49h1v1h-1zM22 49h1v1h-1zM24 49h2v1h-2zM27 49h3v1h-3zM35 49h2v1h-2zM47 49h1v1h-1zM50 49h1v1h-1zM12 50h1v1h-1zM14 50h1v1h-1zM14 51h1v1h-1zM18 51h1v1h-1zM23 51h1v1h-1zM0 52h1v1h-1zM8 52h1v1h-1zM14 52h1v1h-1zM24 52h2v1h-2zM30 52h1v1h-1zM33 52h1v1h-1zM59 52h1v1h-1zM5 53h1v1h-1zM9 53h1v1h-1zM11 53h2v1h-2zM24 53h1v1h-1zM29 53h1v1h-1zM60 53h1v1h-1zM9 54h1v1h-1zM12 54h1v1h-1zM31 54h1v1h-1zM50 54h1v1h-1zM0 55h5v1h-5zM11 55h1v1h-1zM18 55h3v1h-3zM28 55h1v1h-1zM36 55h1v1h-1zM59 55h1v1h-1zM61 55h1v1h-1zM0 56h1v1h-1zM12 56h1v1h-1zM16 56h1v1h-1zM31 56h1v1h-1zM0 57h1v1h-1zM3 57h1v1h-1zM12 57h1v1h-1zM16 57h1v1h-1zM24 57h1v1h-1zM33 57h1v1h-1zM63 57h1v1h-1zM0 58h3v1h-3zM5 58h3v1h-3zM13 58h1v1h-1zM15 58h1v1h-1zM20 58h3v1h-3zM50 58h1v1h-1zM1 59h1v1h-1zM4 59h2v1h-2zM12 59h1v1h-1zM16 59h1v1h-1zM24 59h3v1h-3zM28 59h3v1h-3zM2 60h3v1h-3zM7 60h3v1h-3zM13 60h2v1h-2zM16 60h2v1h-2zM19 60h2v1h-2zM23 60h1v1h-1zM27 60h1v1h-1zM33 60h1v1h-1zM51 60h1v1h-1zM62 60h1v1h-1zM12 61h1v1h-1zM31 61h1v1h-1zM35 61h1v1h-1zM0 62h2v1h-2zM4 62h1v1h-1zM7 62h1v1h-1zM9 62h2v1h-2zM12 62h4v1h-4zM17 62h3v1h-3zM23 62h2v1h-2zM32 62h1v1h-1zM46 62h1v1h-1zM0 63h1v1h-1zM2 63h2v1h-2zM11 63h1v1h-1zM21 63h1v1h-1zM29 63h1v1h-1zM31 63h1v1h-1zM33 63h1v1h-1zM47 63h1v1h-1zM60 63h1v1h-1zM1 64h1v1h-1zM3 64h1v1h-1zM7 64h1v1h-1zM10 64h1v1h-1zM16 64h2v1h-2zM25 64h1v1h-1zM31 64h2v1h-2zM0 65h2v1h-2zM7 65h1v1h-1zM10 65h7v1h-7zM18 65h3v1h-3zM23 65h1v1h-1zM25 65h2v1h-2zM30 65h1v1h-1zM32 65h1v1h-1zM50 65h1v1h-1zM59 65h1v1h-1zM61 65h1v1h-1zM2 66h1v1h-1zM11 66h1v1h-1zM14 66h1v1h-1zM24 66h1v1h-1zM33 66h1v1h-1zM43 66h1v1h-1zM46 66h1v1h-1zM0 67h1v1h-1zM2 67h2v1h-2zM9 67h1v1h-1zM13 67h1v1h-1zM16 67h1v1h-1zM18 67h1v1h-1zM24 67h2v1h-2zM30 67h1v1h-1zM33 67h1v1h-1zM53 67h1v1h-1zM56 67h1v1h-1zM0 68h1v1h-1zM4 68h2v1h-2zM12 68h1v1h-1zM14 68h1v1h-1zM17 68h1v1h-1zM31 68h1v1h-1zM51 68h1v1h-1zM55 68h1v1h-1zM0 69h4v1h-4zM9 69h3v1h-3zM13 69h7v1h-7zM21 69h3v1h-3zM28 69h1v1h-1zM30 69h2v1h-2zM33 69h1v1h-1zM56 69h2v1h-2zM60 69h1v1h-1zM59 70h1v1h-1zM3 71h1v1h-1zM12 71h1v1h-1zM14 71h1v1h-1zM16 71h1v1h-1zM31 71h1v1h-1zM53 71h1v1h-1zM0 72h2v1h-2zM3 72h2v1h-2zM10 72h1v1h-1zM12 72h5v1h-5zM18 72h1v1h-1zM24 72h1v1h-1zM26 72h1v1h-1zM31 72h1v1h-1zM63 72h1v1h-1zM9 73h1v1h-1zM12 73h2v1h-2zM15 73h1v1h-1zM24 73h2v1h-2zM7 74h1v1h-1zM13 74h1v1h-1zM24 74h1v1h-1zM1 76h1v1h-1zM3 76h2v1h-2zM8 76h4v1h-4zM15 76h1v1h-1zM18 76h4v1h-4zM23 76h1v1h-1zM28 76h1v1h-1zM35 76h1v1h-1zM41 76h1v1h-1zM49 76h1v1h-1zM53 76h1v1h-1zM60 76h1v1h-1zM7 77h1v1h-1zM12 77h1v1h-1zM14 77h1v1h-1zM21 77h1v1h-1zM24 77h1v1h-1zM2 78h1v1h-1zM7 78h1v1h-1zM11 78h1v1h-1zM15 78h1v1h-1zM18 78h1v1h-1zM24 78h1v1h-1zM57 78h1v1h-1zM0 79h1v1h-1zM2 79h1v1h-1zM7 79h1v1h-1zM10 79h1v1h-1zM12 79h2v1h-2zM15 79h3v1h-3zM20 79h2v1h-2zM24 79h1v1h-1zM27 79h3v1h-3zM32 79h2v1h-2zM48 79h1v1h-1zM51 79h1v1h-1zM53 79h1v1h-1zM0 80h1v1h-1zM2 80h1v1h-1zM5 80h1v1h-1zM7 80h2v1h-2zM16 80h1v1h-1zM18 80h2v1h-2zM23 80h1v1h-1zM25 80h1v1h-1zM27 80h3v1h-3zM32 80h2v1h-2zM37 80h1v1h-1zM42 80h2v1h-2zM58 80h1v1h-1zM61 80h1v1h-1zM1 82h2v1h-2zM5 82h2v1h-2zM8 82h1v1h-1zM10 82h2v1h-2zM14 82h1v1h-1zM18 82h1v1h-1zM21 82h1v1h-1zM26 82h5v1h-5zM32 82h2v1h-2zM44 82h1v1h-1zM46 82h1v1h-1zM53 82h1v1h-1zM55 82h1v1h-1zM61 82h1v1h-1zM63 82h1v1h-1zM16 83h1v1h-1zM23 83h3v1h-3zM30 83h1v1h-1zM41 83h1v1h-1zM49 83h2v1h-2zM59 83h1v1h-1zM15 84h1v1h-1zM0 85h2v1h-2zM6 85h1v1h-1zM8 85h1v1h-1zM10 85h2v1h-2zM23 85h1v1h-1zM29 85h1v1h-1zM0 86h1v1h-1zM3 86h1v1h-1zM6 86h2v1h-2zM9 86h2v1h-2zM13 86h3v1h-3zM17 86h3v1h-3zM24 86h1v1h-1zM30 86h1v1h-1zM38 86h1v1h-1zM55 86h1v1h-1zM59 86h1v1h-1zM4 87h2v1h-2zM9 87h1v1h-1zM11 87h1v1h-1zM20 87h1v1h-1zM26 87h2v1h-2zM32 87h1v1h-1zM36 87h1v1h-1zM39 87h1v1h-1zM43 87h1v1h-1zM50 87h1v1h-1zM57 87h1v1h-1zM63 87h1v1h-1zM7 88h1v1h-1zM9 88h1v1h-1zM12 88h2v1h-2zM15 88h5v1h-5zM26 88h1v1h-1zM29 88h1v1h-1zM31 88h1v1h-1zM48 88h1v1h-1zM50 88h1v1h-1zM54 88h1v1h-1zM57 88h1v1h-1zM63 88h1v1h-1zM24 89h1v1h-1zM6 91h1v1h-1zM11 91h1v1h-1zM15 91h1v1h-1zM19 91h1v1h-1zM21 91h2v1h-2zM26 91h1v1h-1zM37 91h1v1h-1zM48 91h1v1h-1zM62 91h1v1h-1zM3 92h2v1h-2zM7 92h3v1h-3zM11 92h1v1h-1zM13 92h4v1h-4zM18 92h1v1h-1zM21 92h1v1h-1zM23 92h2v1h-2zM27 92h1v1h-1zM30 92h3v1h-3zM39 92h1v1h-1zM50 92h1v1h-1zM58 92h1v1h-1zM63 92h1v1h-1zM2 93h1v1h-1zM12 93h1v1h-1zM16 93h1v1h-1zM24 93h1v1h-1zM16 94h1v1h-1zM62 94h1v1h-1zM12 95h1v1h-1zM15 95h1v1h-1zM17 95h1v1h-1zM19 95h1v1h-1zM26 95h1v1h-1zM30 95h1v1h-1zM33 95h1v1h-1zM56 95h1v1h-1zM3 96h1v1h-1zM5 96h1v1h-1zM7 96h1v1h-1zM9 96h4v1h-4zM15 96h1v1h-1zM18 96h4v1h-4zM25 96h4v1h-4zM30 96h3v1h-3zM45 96h1v1h-1zM55 96h1v1h-1zM7 97h1v1h-1zM12 97h1v1h-1zM14 97h2v1h-2zM17 97h1v1h-1zM24 97h1v1h-1zM43 97h1v1h-1zM0 98h1v1h-1zM2 98h3v1h-3zM7 98h1v1h-1zM9 98h1v1h-1zM16 98h3v1h-3zM24 98h3v1h-3zM30 98h2v1h-2zM33 98h1v1h-1zM45 98h1v1h-1zM56 98h1v1h-1zM3 99h1v1h-1zM6 99h2v1h-2zM9 99h1v1h-1zM11 99h1v1h-1zM13 99h9v1h-9zM24 99h1v1h-1zM26 99h1v1h-1zM28 99h2v1h-2zM56 99h1v1h-1zM0 100h1v1h-1zM2 100h1v1h-1zM4 100h3v1h-3zM9 100h8v1h-8zM20 100h2v1h-2zM25 100h2v1h-2zM29 100h1v1h-1zM32 100h2v1h-2zM46 100h1v1h-1zM52 100h1v1h-1zM2 101h1v1h-1zM9 101h2v1h-2zM14 101h1v1h-1zM16 101h2v1h-2zM22 101h1v1h-1zM24 101h1v1h-1zM31 101h2v1h-2zM45 101h1v1h-1zM52 101h1v1h-1zM2 102h2v1h-2zM7 102h2v1h-2zM12 102h2v1h-2zM15 102h1v1h-1zM17 102h2v1h-2zM21 102h1v1h-1zM30 102h1v1h-1zM2 103h2v1h-2zM6 103h1v1h-1zM9 103h1v1h-1zM11 103h4v1h-4zM16 103h3v1h-3zM21 103h1v1h-1zM24 103h1v1h-1zM27 103h1v1h-1zM31 103h1v1h-1zM35 103h1v1h-1zM48 103h1v1h-1zM59 103h1v1h-1zM61 103h1v1h-1zM0 104h1v1h-1zM2 104h1v1h-1zM12 104h1v1h-1zM14 104h1v1h-1zM21 104h1v1h-1zM25 104h2v1h-2zM29 104h2v1h-2zM32 104h2v1h-2zM57 104h1v1h-1zM60 104h1v1h-1zM4 105h3v1h-3zM8 105h4v1h-4zM13 105h1v1h-1zM15 105h1v1h-1zM17 105h1v1h-1zM19 105h2v1h-2zM23 105h1v1h-1zM26 105h4v1h-4zM32 105h1v1h-1zM46 105h2v1h-2zM0 106h1v1h-1zM2 106h1v1h-1zM9 106h2v1h-2zM12 106h2v1h-2zM18 106h1v1h-1zM21 106h1v1h-1zM23 106h1v1h-1zM25 106h1v1h-1zM29 106h4v1h-4zM62 106h2v1h-2zM30 107h1v1h-1zM1 108h1v1h-1zM3 108h1v1h-1zM8 108h3v1h-3zM14 108h1v1h-1zM18 108h1v1h-1zM23 108h2v1h-2zM26 108h2v1h-2zM29 108h1v1h-1zM31 108h2v1h-2zM36 108h2v1h-2zM53 108h1v1h-1zM1 109h1v1h-1zM4 109h3v1h-3zM8 109h1v1h-1zM10 109h2v1h-2zM13 109h1v1h-1zM15 109h1v1h-1zM19 109h2v1h-2zM26 109h1v1h-1zM29 109h1v1h-1zM31 109h1v1h-1zM37 109h1v1h-1zM53 109h1v1h-1zM0 110h1v1h-1zM12 110h1v1h-1zM14 111h1v1h-1zM17 111h1v1h-1zM31 111h1v1h-1zM0 113h1v1h-1zM7 113h1v1h-1zM11 113h1v1h-1zM14 113h1v1h-1zM16 113h1v1h-1zM18 113h1v1h-1zM23 113h1v1h-1zM25 113h1v1h-1zM27 113h1v1h-1zM30 113h1v1h-1zM32 113h2v1h-2zM48 113h1v1h-1zM56 113h1v1h-1zM0 114h1v1h-1zM3 114h2v1h-2zM9 114h4v1h-4zM14 114h1v1h-1zM18 114h1v1h-1zM20 114h1v1h-1zM23 114h2v1h-2zM26 114h1v1h-1zM32 114h2v1h-2zM50 114h1v1h-1zM56 114h1v1h-1zM61 114h1v1h-1zM4 115h2v1h-2zM8 115h1v1h-1zM14 115h1v1h-1zM18 115h2v1h-2zM21 115h1v1h-1zM23 115h1v1h-1zM25 115h4v1h-4zM33 115h1v1h-1zM37 115h1v1h-1zM31 116h1v1h-1zM12 118h1v1h-1zM35 118h1v1h-1zM38 118h1v1h-1zM41 118h2v1h-2zM45 118h1v1h-1zM47 118h1v1h-1zM49 118h6v1h-6zM57 118h7v1h-7zM13 119h1v1h-1zM15 119h1v1h-1zM28 119h1v1h-1zM30 119h1v1h-1zM39 119h3v1h-3zM44 119h8v1h-8zM53 119h4v1h-4zM58 119h5v1h-5zM2 120h1v1h-1zM17 120h1v1h-1zM42 120h1v1h-1zM52 120h1v1h-1zM60 120h1v1h-1zM1 121h2v1h-2zM8 121h1v1h-1zM22 121h1v1h-1zM24 121h1v1h-1zM34 121h2v1h-2zM37 121h1v1h-1zM39 121h1v1h-1zM41 121h2v1h-2zM44 121h4v1h-4zM49 121h1v1h-1zM51 121h1v1h-1zM53 121h8v1h-8zM17 122h2v1h-2zM34 122h2v1h-2zM37 122h2v1h-2zM40 122h1v1h-1zM47 122h1v1h-1zM50 122h1v1h-1zM52 122h1v1h-1zM55 122h2v1h-2zM58 122h1v1h-1zM60 122h2v1h-2zM63 122h1v1h-1zM5 123h1v1h-1zM16 123h4v1h-4zM34 123h1v1h-1zM36 123h1v1h-1zM45 123h3v1h-3zM49 123h1v1h-1zM53 123h1v1h-1zM57 123h7v1h-7zM8 124h1v1h-1zM34 124h1v1h-1zM37 124h1v1h-1zM39 124h1v1h-1zM42 124h1v1h-1zM46 124h1v1h-1zM58 124h1v1h-1zM60 124h3v1h-3zM8 126h1v1h-1zM30 126h2v1h-2zM38 126h2v1h-2zM43 126h1v1h-1zM45 126h1v1h-1zM52 126h2v1h-2zM55 126h1v1h-1zM62 126h2v1h-2zM16 127h1v1h-1zM40 127h1v1h-1zM6 128h2v1h-2zM12 128h1v1h-1zM28 128h1v1h-1zM31 128h1v1h-1zM33 128h2v1h-2zM38 128h1v1h-1zM40 128h1v1h-1zM45 128h1v1h-1zM48 128h3v1h-3zM55 128h1v1h-1zM61 128h2v1h-2zM17 129h1v1h-1zM20 129h1v1h-1zM29 129h1v1h-1zM35 129h1v1h-1zM45 129h1v1h-1zM50 129h1v1h-1zM54 129h2v1h-2zM57 129h2v1h-2zM60 129h2v1h-2zM0 130h1v1h-1zM4 130h1v1h-1zM14 130h2v1h-2zM25 130h1v1h-1zM35 130h2v1h-2zM39 130h2v1h-2zM44 130h2v1h-2zM48 130h1v1h-1zM57 130h1v1h-1zM5 131h1v1h-1zM10 131h1v1h-1zM15 131h1v1h-1zM26 131h1v1h-1zM34 131h1v1h-1zM37 131h1v1h-1zM42 131h2v1h-2zM49 131h1v1h-1zM51 131h1v1h-1zM53 131h2v1h-2zM57 131h1v1h-1zM62 131h1v1h-1zM26 132h1v1h-1zM4 133h1v1h-1zM10 133h2v1h-2zM20 133h1v1h-1zM23 133h1v1h-1zM36 133h1v1h-1zM42 133h1v1h-1zM46 133h3v1h-3zM50 133h1v1h-1zM52 133h1v1h-1zM54 133h2v1h-2zM58 133h6v1h-6zM34 134h1v1h-1zM61 134h1v1h-1zM2 135h1v1h-1zM55 135h1v1h-1zM58 135h1v1h-1zM62 135h1v1h-1zM46 137h1v1h-1zM61 137h2v1h-2zM63 138h1v1h-1zM1 139h1v1h-1zM28 139h1v1h-1zM34 139h2v1h-2zM37 139h3v1h-3zM42 139h1v1h-1zM45 139h3v1h-3zM49 139h2v1h-2zM52 139h1v1h-1zM55 139h1v1h-1zM58 139h1v1h-1zM62 139h2v1h-2zM13 140h3v1h-3zM25 140h1v1h-1zM29 140h1v1h-1zM31 140h1v1h-1zM34 140h2v1h-2zM38 140h3v1h-3zM42 140h3v1h-3zM49 140h1v1h-1zM53 140h1v1h-1zM59 140h2v1h-2zM62 140h2v1h-2zM27 141h1v1h-1zM36 141h8v1h-8zM45 141h1v1h-1zM50 141h1v1h-1zM52 141h1v1h-1zM55 141h1v1h-1zM59 141h1v1h-1zM63 141h1v1h-1zM15 142h1v1h-1zM23 142h2v1h-2zM29 142h1v1h-1zM36 142h1v1h-1zM39 142h2v1h-2zM42 142h1v1h-1zM46 142h1v1h-1zM52 142h4v1h-4zM57 142h2v1h-2zM61 142h3v1h-3zM0 143h2v1h-2zM10 143h1v1h-1zM25 143h2v1h-2zM28 143h1v1h-1zM34 143h1v1h-1zM37 143h3v1h-3zM41 143h1v1h-1zM46 143h2v1h-2zM49 143h1v1h-1zM52 143h1v1h-1zM59 143h1v1h-1zM63 143h1v1h-1zM0 144h1v1h-1zM14 144h1v1h-1zM35 144h1v1h-1zM37 144h3v1h-3zM41 144h3v1h-3zM45 144h2v1h-2zM48 144h4v1h-4zM55 144h1v1h-1zM58 144h4v1h-4zM63 144h1v1h-1zM29 145h1v1h-1zM39 145h1v1h-1zM42 145h1v1h-1zM46 145h1v1h-1zM48 145h2v1h-2zM57 145h2v1h-2zM62 145h2v1h-2zM22 146h1v1h-1zM25 146h1v1h-1zM33 146h1v1h-1zM48 146h1v1h-1zM53 146h1v1h-1zM55 146h1v1h-1zM58 146h1v1h-1zM61 146h1v1h-1zM0 147h1v1h-1zM7 147h1v1h-1zM28 147h1v1h-1zM35 147h1v1h-1zM38 147h1v1h-1zM40 147h1v1h-1zM42 147h2v1h-2zM46 147h1v1h-1zM49 147h1v1h-1zM54 147h4v1h-4zM60 147h1v1h-1zM62 147h2v1h-2zM3 148h1v1h-1zM11 148h1v1h-1zM16 148h1v1h-1zM23 148h3v1h-3zM28 148h1v1h-1zM33 148h1v1h-1zM39 148h3v1h-3zM43 148h1v1h-1zM47 148h1v1h-1zM51 148h1v1h-1zM59 148h1v1h-1zM63 148h1v1h-1zM0 149h1v1h-1zM8 149h1v1h-1zM35 149h4v1h-4zM45 149h2v1h-2zM55 149h1v1h-1zM58 149h1v1h-1zM61 149h2v1h-2zM40 150h1v1h-1zM42 150h1v1h-1zM50 150h1v1h-1zM52 150h1v1h-1zM57 150h1v1h-1zM61 150h2v1h-2zM30 151h1v1h-1zM19 152h1v1h-1zM34 152h1v1h-1zM61 152h1v1h-1zM2 153h1v1h-1zM22 153h1v1h-1zM25 153h1v1h-1zM37 153h1v1h-1zM39 153h5v1h-5zM46 153h1v1h-1zM49 153h2v1h-2zM52 153h1v1h-1zM54 153h2v1h-2zM57 153h2v1h-2zM60 153h3v1h-3zM21 154h1v1h-1zM35 154h2v1h-2zM38 154h1v1h-1zM40 154h1v1h-1zM42 154h1v1h-1zM47 154h1v1h-1zM49 154h3v1h-3zM54 154h2v1h-2zM57 154h1v1h-1zM59 154h1v1h-1zM62 154h2v1h-2zM20 156h1v1h-1zM34 156h1v1h-1zM46 156h1v1h-1zM50 156h1v1h-1zM55 156h1v1h-1zM58 156h1v1h-1zM9 159h1v1h-1zM34 159h2v1h-2zM37 159h1v1h-1zM41 159h3v1h-3zM47 159h1v1h-1zM49 159h2v1h-2zM54 159h2v1h-2zM58 159h1v1h-1zM60 159h1v1h-1zM62 159h2v1h-2zM27 160h1v1h-1zM34 160h1v1h-1zM38 160h1v1h-1zM42 160h1v1h-1zM45 160h1v1h-1zM49 160h1v1h-1zM52 160h1v1h-1zM61 160h2v1h-2zM7 161h2v1h-2zM36 161h1v1h-1zM47 161h1v1h-1zM55 161h1v1h-1zM28 162h1v1h-1zM41 162h2v1h-2zM56 162h1v1h-1zM58 162h1v1h-1zM60 162h2v1h-2zM0 163h1v1h-1zM21 163h1v1h-1zM23 163h1v1h-1zM42 163h1v1h-1zM61 163h2v1h-2zM40 164h1v1h-1zM42 164h1v1h-1zM47 164h1v1h-1zM52 164h1v1h-1zM56 164h1v1h-1zM0 165h1v1h-1zM24 165h1v1h-1zM31 165h1v1h-1zM37 165h1v1h-1zM42 165h2v1h-2zM46 165h2v1h-2zM54 165h1v1h-1zM63 165h1v1h-1zM1 166h1v1h-1zM33 166h1v1h-1zM35 166h2v1h-2zM38 166h3v1h-3zM45 166h1v1h-1zM49 166h1v1h-1zM51 166h1v1h-1zM53 166h1v1h-1zM57 166h1v1h-1zM59 166h1v1h-1zM62 166h1v1h-1zM20 167h1v1h-1zM25 167h1v1h-1zM34 167h1v1h-1zM39 167h1v1h-1zM42 167h1v1h-1zM51 167h2v1h-2zM54 167h2v1h-2zM62 167h2v1h-2zM6 168h1v1h-1zM33 168h3v1h-3zM37 168h1v1h-1zM39 168h4v1h-4zM45 168h2v1h-2zM49 168h1v1h-1zM51 168h1v1h-1zM54 168h2v1h-2zM58 168h1v1h-1zM60 168h1v1h-1zM62 168h2v1h-2zM28 169h1v1h-1zM30 169h1v1h-1zM40 169h1v1h-1zM45 169h1v1h-1zM50 169h1v1h-1zM52 169h1v1h-1zM54 169h2v1h-2zM60 169h1v1h-1zM20 170h1v1h-1zM23 170h1v1h-1zM28 170h1v1h-1zM34 170h1v1h-1zM37 170h1v1h-1zM40 170h1v1h-1zM42 170h2v1h-2zM47 170h2v1h-2zM50 170h1v1h-1zM52 170h1v1h-1zM54 170h3v1h-3zM58 170h1v1h-1zM60 170h1v1h-1zM62 170h1v1h-1zM52 171h1v1h-1zM61 171h1v1h-1zM55 172h1v1h-1zM61 172h1v1h-1zM7 173h1v1h-1zM19 173h1v1h-1zM39 173h1v1h-1zM46 173h2v1h-2zM50 173h1v1h-1zM55 173h1v1h-1zM60 173h1v1h-1zM34 174h1v1h-1zM41 174h1v1h-1zM52 174h1v1h-1zM58 174h1v1h-1zM61 174h2v1h-2zM1 175h1v1h-1zM19 175h1v1h-1zM30 175h1v1h-1zM34 175h1v1h-1zM46 175h1v1h-1zM49 175h1v1h-1zM52 175h1v1h-1zM60 175h1v1h-1zM62 175h2v1h-2zM12 176h1v1h-1zM17 176h1v1h-1zM21 176h1v1h-1zM41 176h1v1h-1zM43 176h1v1h-1zM45 176h1v1h-1zM49 176h2v1h-2zM53 176h1v1h-1zM58 176h1v1h-1zM60 176h1v1h-1zM63 176h1v1h-1zM29 177h2v1h-2zM40 177h1v1h-1zM42 177h3v1h-3zM46 177h1v1h-1zM49 177h1v1h-1zM52 177h1v1h-1zM54 177h1v1h-1zM58 177h2v1h-2zM61 177h1v1h-1zM2 178h1v1h-1zM6 178h1v1h-1zM21 178h1v1h-1zM34 178h1v1h-1zM39 178h3v1h-3zM43 178h1v1h-1zM45 178h1v1h-1zM49 178h2v1h-2zM52 178h1v1h-1zM54 178h2v1h-2zM58 178h1v1h-1zM60 178h1v1h-1zM10 179h1v1h-1zM18 179h1v1h-1zM46 179h1v1h-1zM52 179h1v1h-1zM55 179h1v1h-1zM58 179h1v1h-1zM60 179h1v1h-1zM17 180h1v1h-1zM26 180h1v1h-1zM37 180h1v1h-1zM42 180h1v1h-1zM47 180h1v1h-1zM53 180h1v1h-1zM55 180h1v1h-1zM57 180h1v1h-1zM60 180h3v1h-3zM37 181h1v1h-1zM42 181h1v1h-1zM52 181h1v1h-1zM60 181h1v1h-1zM1 182h3v1h-3zM13 182h1v1h-1zM18 182h1v1h-1zM25 182h1v1h-1zM34 182h1v1h-1zM36 182h4v1h-4zM43 182h2v1h-2zM46 182h2v1h-2zM49 182h5v1h-5zM56 182h1v1h-1zM59 182h1v1h-1zM63 182h1v1h-1zM30 183h1v1h-1zM22 184h1v1h-1zM24 184h1v1h-1zM42 184h2v1h-2zM45 184h4v1h-4zM51 184h4v1h-4zM56 184h5v1h-5zM63 184h1v1h-1zM23 185h1v1h-1zM28 185h2v1h-2zM31 185h1v1h-1zM34 185h2v1h-2zM39 185h1v1h-1zM42 185h2v1h-2zM45 185h3v1h-3zM49 185h3v1h-3zM53 185h2v1h-2zM57 185h2v1h-2zM61 185h3v1h-3zM5 186h1v1h-1zM37 186h1v1h-1zM41 186h1v1h-1zM46 186h1v1h-1zM50 186h1v1h-1zM56 186h1v1h-1zM61 186h2v1h-2zM6 187h1v1h-1zM28 187h1v1h-1zM37 187h1v1h-1zM40 187h1v1h-1zM42 187h1v1h-1zM46 187h2v1h-2zM49 187h2v1h-2zM52 187h8v1h-8zM62 187h1v1h-1zM18 188h1v1h-1zM37 188h1v1h-1zM46 188h2v1h-2zM50 188h1v1h-1zM52 188h1v1h-1zM58 188h1v1h-1zM1 189h1v1h-1zM5 189h1v1h-1zM23 189h1v1h-1zM38 189h2v1h-2zM46 189h2v1h-2zM50 189h1v1h-1zM53 189h2v1h-2zM56 189h4v1h-4zM62 189h1v1h-1zM33 190h2v1h-2zM36 190h1v1h-1zM39 190h1v1h-1zM41 190h2v1h-2zM45 190h8v1h-8zM54 190h7v1h-7zM62 190h2v1h-2zM4 191h2v1h-2zM15 191h1v1h-1zM17 191h1v1h-1zM23 191h1v1h-1zM28 191h1v1h-1zM31 191h1v1h-1zM39 191h2v1h-2zM42 191h2v1h-2zM45 191h1v1h-1zM47 191h1v1h-1zM51 191h1v1h-1zM54 191h2v1h-2zM58 191h1v1h-1zM60 191h3v1h-3zM49 192h1v1h-1zM11 193h1v1h-1zM24 193h1v1h-1zM28 193h1v1h-1zM31 193h1v1h-1zM37 193h1v1h-1zM42 193h1v1h-1zM46 193h2v1h-2zM50 193h1v1h-1zM55 193h2v1h-2zM58 193h1v1h-1zM62 193h1v1h-1zM16 194h1v1h-1zM19 194h1v1h-1zM30 194h1v1h-1zM34 194h1v1h-1zM38 194h1v1h-1zM40 194h4v1h-4zM45 194h7v1h-7zM53 194h2v1h-2zM57 194h1v1h-1zM59 194h1v1h-1zM63 194h1v1h-1zM34 195h1v1h-1zM37 195h1v1h-1zM46 195h1v1h-1zM61 195h2v1h-2zM11 196h1v1h-1zM13 196h1v1h-1zM19 196h1v1h-1zM21 196h1v1h-1zM23 196h1v1h-1zM39 196h1v1h-1zM41 196h1v1h-1zM43 196h3v1h-3zM47 196h3v1h-3zM51 196h2v1h-2zM55 196h2v1h-2zM59 196h1v1h-1zM63 196h1v1h-1zM16 198h1v1h-1zM24 198h1v1h-1zM28 198h1v1h-1zM31 198h1v1h-1zM38 198h2v1h-2zM41 198h1v1h-1zM43 198h3v1h-3zM48 198h1v1h-1zM53 198h1v1h-1zM57 198h1v1h-1zM60 198h1v1h-1zM26 199h1v1h-1zM37 199h1v1h-1zM46 199h1v1h-1zM55 199h1v1h-1zM24 200h1v1h-1zM11 201h1v1h-1zM18 201h3v1h-3zM26 201h1v1h-1zM31 201h2v1h-2zM35 201h1v1h-1zM39 201h2v1h-2zM43 201h1v1h-1zM45 201h5v1h-5zM51 201h1v1h-1zM54 201h2v1h-2zM59 201h5v1h-5zM25 202h1v1h-1zM52 202h1v1h-1zM55 202h1v1h-1zM58 202h1v1h-1zM62 202h1v1h-1zM18 203h1v1h-1zM50 203h1v1h-1zM59 203h1v1h-1zM13 204h1v1h-1zM41 204h1v1h-1zM46 204h1v1h-1zM55 204h1v1h-1zM61 204h1v1h-1zM24 205h1v1h-1zM43 205h1v1h-1zM50 205h1v1h-1zM52 205h1v1h-1zM61 205h2v1h-2zM46 206h1v1h-1zM0 207h1v1h-1zM8 207h1v1h-1zM37 207h1v1h-1zM45 207h1v1h-1zM50 207h1v1h-1zM6 208h1v1h-1zM34 208h1v1h-1zM37 208h2v1h-2zM52 208h1v1h-1zM55 208h1v1h-1zM60 208h2v1h-2zM31 209h2v1h-2zM34 209h2v1h-2zM40 209h1v1h-1zM47 209h1v1h-1zM49 209h1v1h-1zM51 209h3v1h-3zM55 209h1v1h-1zM57 209h2v1h-2zM60 209h1v1h-1zM62 209h2v1h-2zM21 210h1v1h-1zM29 210h1v1h-1zM37 210h1v1h-1zM60 210h1v1h-1z"/>
<path fill="#daecdf" d="M0 0h1v1h-1zM2 0h1v1h-1zM6 0h1v1h-1zM9 0h1v1h-1zM19 0h4v1h-4zM26 0h7v1h-7zM50 0h1v1h-1zM60 0h1v1h-1zM0 1h1v1h-1zM3 1h1v1h-1zM8 1h2v1h-2zM12 1h1v1h-1zM17 1h2v1h-2zM21 1h1v1h-1zM24 1h1v1h-1zM30 1h1v1h-1zM33 1h1v1h-1zM42 1h1v1h-1zM49 1h2v1h-2zM2 2h1v1h-1zM5 2h1v1h-1zM7 2h3v1h-3zM12 2h1v1h-1zM20 2h1v1h-1zM27 2h1v1h-1zM32 2h1v1h-1zM34 2h1v1h-1zM1 3h1v1h-1zM4 3h2v1h-2zM7 3h1v1h-1zM10 3h1v1h-1zM14 3h1v1h-1zM19 3h3v1h-3zM25 3h1v1h-1zM34 3h1v1h-1zM53 3h1v1h-1zM59 3h1v1h-1zM3 4h3v1h-3zM8 4h3v1h-3zM13 4h1v1h-1zM21 4h2v1h-2zM25 4h4v1h-4zM30 4h1v1h-1zM32 4h1v1h-1zM43 4h2v1h-2zM47 4h2v1h-2zM50 4h1v1h-1zM1 5h2v1h-2zM6 5h3v1h-3zM13 5h1v1h-1zM20 5h1v1h-1zM22 5h1v1h-1zM33 5h1v1h-1zM42 5h1v1h-1zM50 5h1v1h-1zM60 5h1v1h-1zM3 6h2v1h-2zM6 6h3v1h-3zM10 6h2v1h-2zM15 6h2v1h-2zM18 6h1v1h-1zM23 6h2v1h-2zM27 6h2v1h-2zM30 6h4v1h-4zM41 6h1v1h-1zM43 6h1v1h-1zM51 6h2v1h-2zM55 6h1v1h-1zM59 6h1v1h-1zM61 6h1v1h-1zM1 7h1v1h-1zM4 7h1v1h-1zM6 7h1v1h-1zM8 7h1v1h-1zM13 7h2v1h-2zM18 7h1v1h-1zM21 7h1v1h-1zM23 7h1v1h-1zM25 7h2v1h-2zM28 7h3v1h-3zM33 7h1v1h-1zM56 7h2v1h-2zM59 7h2v1h-2zM63 7h1v1h-1zM2 8h3v1h-3zM8 8h1v1h-1zM10 8h2v1h-2zM14 8h1v1h-1zM19 8h1v1h-1zM21 8h1v1h-1zM24 8h1v1h-1zM26 8h2v1h-2zM29 8h3v1h-3zM33 8h1v1h-1zM37 8h1v1h-1zM42 8h1v1h-1zM54 8h1v1h-1zM61 8h1v1h-1zM46 9h1v1h-1zM57 9h1v1h-1zM7 10h1v1h-1zM9 10h1v1h-1zM12 10h2v1h-2zM17 10h2v1h-2zM23 10h1v1h-1zM33 10h1v1h-1zM36 10h1v1h-1zM54 10h1v1h-1zM2 11h1v1h-1zM5 11h1v1h-1zM7 11h1v1h-1zM11 11h1v1h-1zM16 11h1v1h-1zM18 11h1v1h-1zM20 11h1v1h-1zM22 11h1v1h-1zM26 11h1v1h-1zM29 11h1v1h-1zM31 11h1v1h-1zM42 11h1v1h-1zM60 11h1v1h-1zM3 12h1v1h-1zM7 12h2v1h-2zM10 12h1v1h-1zM12 12h3v1h-3zM17 12h1v1h-1zM24 12h2v1h-2zM27 12h4v1h-4zM32 12h1v1h-1zM4 13h3v1h-3zM8 13h2v1h-2zM13 13h1v1h-1zM23 13h1v1h-1zM25 13h1v1h-1zM29 13h1v1h-1zM39 13h1v1h-1zM49 13h1v1h-1zM51 13h1v1h-1zM1 14h1v1h-1zM4 14h3v1h-3zM9 14h3v1h-3zM13 14h1v1h-1zM17 14h1v1h-1zM20 14h1v1h-1zM25 14h1v1h-1zM27 14h1v1h-1zM32 14h2v1h-2zM41 14h1v1h-1zM48 14h2v1h-2zM0 15h1v1h-1zM2 15h1v1h-1zM4 15h1v1h-1zM6 15h4v1h-4zM13 15h1v1h-1zM15 15h1v1h-1zM18 15h1v1h-1zM22 15h3v1h-3zM26 15h2v1h-2zM29 15h2v1h-2zM32 15h4v1h-4zM50 15h1v1h-1zM52 15h1v1h-1zM57 15h1v1h-1zM7 16h1v1h-1zM10 16h3v1h-3zM14 16h1v1h-1zM18 16h1v1h-1zM22 16h2v1h-2zM25 16h1v1h-1zM27 16h2v1h-2zM30 16h1v1h-1zM32 16h2v1h-2zM45 16h1v1h-1zM2 17h1v1h-1zM8 17h1v1h-1zM10 17h1v1h-1zM13 17h1v1h-1zM17 17h1v1h-1zM19 17h3v1h-3zM25 17h1v1h-1zM27 17h1v1h-1zM29 17h1v1h-1zM31 17h1v1h-1zM33 17h2v1h-2zM41 17h1v1h-1zM54 17h1v1h-1zM1 18h3v1h-3zM8 18h2v1h-2zM13 18h3v1h-3zM18 18h2v1h-2zM21 18h1v1h-1zM26 18h1v1h-1zM28 18h3v1h-3zM32 18h2v1h-2zM47 18h1v1h-1zM54 18h1v1h-1zM3 19h2v1h-2zM7 19h1v1h-1zM9 19h3v1h-3zM14 19h1v1h-1zM17 19h3v1h-3zM23 19h3v1h-3zM28 19h1v1h-1zM31 19h2v1h-2zM38 19h1v1h-1zM49 19h1v1h-1zM10 20h1v1h-1zM19 20h2v1h-2zM22 20h1v1h-1zM48 20h1v1h-1zM52 20h1v1h-1zM5 21h1v1h-1zM8 21h1v1h-1zM44 21h1v1h-1zM48 21h2v1h-2zM0 22h3v1h-3zM7 22h1v1h-1zM11 22h1v1h-1zM17 22h1v1h-1zM19 22h1v1h-1zM21 22h1v1h-1zM23 22h3v1h-3zM27 22h4v1h-4zM32 22h1v1h-1zM49 22h1v1h-1zM5 23h1v1h-1zM7 23h1v1h-1zM11 23h1v1h-1zM13 23h1v1h-1zM20 23h1v1h-1zM26 23h2v1h-2zM29 23h1v1h-1zM51 23h1v1h-1zM57 23h1v1h-1zM59 23h1v1h-1zM61 23h1v1h-1zM42 24h1v1h-1zM44 24h1v1h-1zM3 25h2v1h-2zM8 25h1v1h-1zM10 25h1v1h-1zM20 25h3v1h-3zM32 25h1v1h-1zM38 25h1v1h-1zM43 25h1v1h-1zM47 25h2v1h-2zM51 25h1v1h-1zM54 25h1v1h-1zM59 25h1v1h-1zM7 26h4v1h-4zM13 26h1v1h-1zM20 26h1v1h-1zM27 26h2v1h-2zM30 26h1v1h-1zM58 26h1v1h-1zM60 26h1v1h-1zM62 26h1v1h-1zM20 27h1v1h-1zM22 27h1v1h-1zM27 27h1v1h-1zM35 27h2v1h-2zM58 27h1v1h-1zM60 27h1v1h-1zM63 27h1v1h-1zM8 28h1v1h-1zM34 28h1v1h-1zM45 28h1v1h-1zM49 28h1v1h-1zM55 28h1v1h-1zM63 28h1v1h-1zM1 29h1v1h-1zM3 29h1v1h-1zM5 29h2v1h-2zM8 29h1v1h-1zM10 29h2v1h-2zM18 29h1v1h-1zM20 29h3v1h-3zM25 29h2v1h-2zM28 29h3v1h-3zM32 29h2v1h-2zM48 29h1v1h-1zM57 29h1v1h-1zM59 29h1v1h-1zM1 30h2v1h-2zM8 30h3v1h-3zM15 30h1v1h-1zM17 30h3v1h-3zM27 30h3v1h-3zM31 30h1v1h-1zM33 30h1v1h-1zM56 30h1v1h-1zM60 30h1v1h-1zM1 31h1v1h-1zM6 31h1v1h-1zM11 31h1v1h-1zM19 31h2v1h-2zM22 31h2v1h-2zM26 31h1v1h-1zM28 31h2v1h-2zM32 31h1v1h-1zM48 31h1v1h-1zM56 31h2v1h-2zM59 31h1v1h-1zM4 32h3v1h-3zM11 32h1v1h-1zM19 32h1v1h-1zM21 32h2v1h-2zM47 32h1v1h-1zM63 32h1v1h-1zM1 33h1v1h-1zM10 33h2v1h-2zM13 33h1v1h-1zM17 33h1v1h-1zM20 33h2v1h-2zM23 33h5v1h-5zM29 33h1v1h-1zM32 33h1v1h-1zM55 33h1v1h-1zM1 34h4v1h-4zM7 34h1v1h-1zM9 34h3v1h-3zM14 34h1v1h-1zM17 34h3v1h-3zM22 34h3v1h-3zM30 34h1v1h-1zM32 34h2v1h-2zM50 34h1v1h-1zM55 34h2v1h-2zM0 35h2v1h-2zM6 35h1v1h-1zM8 35h1v1h-1zM10 35h2v1h-2zM19 35h2v1h-2zM22 35h2v1h-2zM25 35h2v1h-2zM29 35h1v1h-1zM32 35h1v1h-1zM54 35h1v1h-1zM56 35h1v1h-1zM61 35h1v1h-1zM63 35h1v1h-1zM3 36h2v1h-2zM6 36h2v1h-2zM9 36h2v1h-2zM12 36h2v1h-2zM16 36h1v1h-1zM22 36h2v1h-2zM25 36h5v1h-5zM31 36h2v1h-2zM9 37h3v1h-3zM15 37h4v1h-4zM24 37h1v1h-1zM28 37h1v1h-1zM30 37h2v1h-2zM33 37h1v1h-1zM49 37h1v1h-1zM1 38h1v1h-1zM3 38h1v1h-1zM6 38h1v1h-1zM9 38h2v1h-2zM13 38h2v1h-2zM17 38h3v1h-3zM22 38h1v1h-1zM28 38h3v1h-3zM57 38h1v1h-1zM61 38h1v1h-1zM4 39h3v1h-3zM9 39h1v1h-1zM20 39h1v1h-1zM33 39h2v1h-2zM37 39h1v1h-1zM39 39h1v1h-1zM52 39h2v1h-2zM1 40h2v1h-2zM4 40h5v1h-5zM13 40h1v1h-1zM16 40h3v1h-3zM21 40h1v1h-1zM25 40h1v1h-1zM28 40h1v1h-1zM30 40h2v1h-2zM33 40h2v1h-2zM47 40h3v1h-3zM1 41h1v1h-1zM3 41h1v1h-1zM5 41h1v1h-1zM7 41h2v1h-2zM11 41h1v1h-1zM17 41h3v1h-3zM22 41h1v1h-1zM25 41h2v1h-2zM28 41h1v1h-1zM30 41h1v1h-1zM32 41h2v1h-2zM35 41h1v1h-1zM42 41h1v1h-1zM1 42h3v1h-3zM18 42h1v1h-1zM27 42h2v1h-2zM32 42h2v1h-2zM43 42h1v1h-1zM55 42h1v1h-1zM57 42h1v1h-1zM5 43h1v1h-1zM27 43h1v1h-1zM43 43h1v1h-1zM57 43h1v1h-1zM5 44h2v1h-2zM9 44h1v1h-1zM11 44h1v1h-1zM19 44h2v1h-2zM23 44h1v1h-1zM28 44h1v1h-1zM32 44h1v1h-1zM51 44h1v1h-1zM53 44h1v1h-1zM62 44h2v1h-2zM1 45h1v1h-1zM6 45h1v1h-1zM13 45h1v1h-1zM19 45h1v1h-1zM22 45h1v1h-1zM25 45h1v1h-1zM27 45h1v1h-1zM58 45h1v1h-1zM62 45h1v1h-1zM57 46h1v1h-1zM0 47h2v1h-2zM4 47h1v1h-1zM6 47h2v1h-2zM9 47h1v1h-1zM11 47h1v1h-1zM13 47h2v1h-2zM26 47h4v1h-4zM32 47h2v1h-2zM35 47h1v1h-1zM52 47h1v1h-1zM63 47h1v1h-1zM0 48h1v1h-1zM2 48h4v1h-4zM7 48h1v1h-1zM9 48h3v1h-3zM15 48h5v1h-5zM21 48h1v1h-1zM23 48h1v1h-1zM25 48h1v1h-1zM27 48h1v1h-1zM31 48h2v1h-2zM57 48h2v1h-2zM61 48h1v1h-1zM10 49h2v1h-2zM17 49h1v1h-1zM19 49h3v1h-3zM26 49h1v1h-1zM33 49h1v1h-1zM53 49h3v1h-3zM58 49h1v1h-1zM0 50h1v1h-1zM2 50h2v1h-2zM9 50h1v1h-1zM15 50h1v1h-1zM18 50h2v1h-2zM24 50h1v1h-1zM26 50h1v1h-1zM31 50h1v1h-1zM50 50h1v1h-1zM63 50h1v1h-1zM0 51h1v1h-1zM2 51h2v1h-2zM6 51h1v1h-1zM8 51h1v1h-1zM12 51h2v1h-2zM15 51h3v1h-3zM24 51h2v1h-2zM27 51h1v1h-1zM30 51h2v1h-2zM33 51h1v1h-1zM46 51h1v1h-1zM1 52h1v1h-1zM3 52h2v1h-2zM9 52h4v1h-4zM15 52h5v1h-5zM21 52h2v1h-2zM26 52h2v1h-2zM29 52h1v1h-1zM31 52h1v1h-1zM56 52h1v1h-1zM61 52h1v1h-1zM0 53h4v1h-4zM7 53h2v1h-2zM10 53h1v1h-1zM13 53h3v1h-3zM18 53h4v1h-4zM27 53h1v1h-1zM30 53h1v1h-1zM32 53h2v1h-2zM0 54h1v1h-1zM2 54h2v1h-2zM14 54h2v1h-2zM17 54h2v1h-2zM25 54h2v1h-2zM29 54h1v1h-1zM32 54h2v1h-2zM45 54h1v1h-1zM52 54h1v1h-1zM55 54h1v1h-1zM26 55h1v1h-1zM29 55h1v1h-1zM50 55h2v1h-2zM54 55h1v1h-1zM2 56h3v1h-3zM6 56h2v1h-2zM9 56h3v1h-3zM15 56h1v1h-1zM17 56h3v1h-3zM21 56h1v1h-1zM24 56h1v1h-1zM29 56h1v1h-1zM33 56h1v1h-1zM35 56h1v1h-1zM38 56h1v1h-1zM55 56h2v1h-2zM1 57h2v1h-2zM4 57h2v1h-2zM7 57h2v1h-2zM10 57h2v1h-2zM15 57h1v1h-1zM17 57h3v1h-3zM21 57h1v1h-1zM25 57h1v1h-1zM27 57h2v1h-2zM30 57h3v1h-3zM36 57h1v1h-1zM54 58h1v1h-1zM59 58h3v1h-3zM0 59h1v1h-1zM3 59h1v1h-1zM6 59h4v1h-4zM11 59h1v1h-1zM13 59h3v1h-3zM17 59h5v1h-5zM27 59h1v1h-1zM33 59h1v1h-1zM49 59h1v1h-1zM57 59h1v1h-1zM63 59h1v1h-1zM1 60h1v1h-1zM5 60h2v1h-2zM10 60h2v1h-2zM18 60h1v1h-1zM22 60h1v1h-1zM26 60h1v1h-1zM28 60h2v1h-2zM31 60h2v1h-2zM38 60h1v1h-1zM40 60h1v1h-1zM49 60h1v1h-1zM56 60h1v1h-1zM61 60h1v1h-1zM63 60h1v1h-1zM0 61h1v1h-1zM3 61h2v1h-2zM7 61h1v1h-1zM9 61h1v1h-1zM13 61h4v1h-4zM18 61h1v1h-1zM21 61h4v1h-4zM26 61h1v1h-1zM29 61h1v1h-1zM41 61h1v1h-1zM55 61h1v1h-1zM8 62h1v1h-1zM11 62h1v1h-1zM20 62h2v1h-2zM25 62h1v1h-1zM27 62h2v1h-2zM30 62h1v1h-1zM33 62h1v1h-1zM35 62h1v1h-1zM39 62h2v1h-2zM56 62h1v1h-1zM1 63h1v1h-1zM4 63h4v1h-4zM9 63h1v1h-1zM14 63h3v1h-3zM18 63h3v1h-3zM22 63h1v1h-1zM25 63h2v1h-2zM28 63h1v1h-1zM30 63h1v1h-1zM32 63h1v1h-1zM36 63h3v1h-3zM0 64h1v1h-1zM2 64h1v1h-1zM4 64h1v1h-1zM6 64h1v1h-1zM11 64h3v1h-3zM15 64h1v1h-1zM18 64h3v1h-3zM22 64h2v1h-2zM26 64h5v1h-5zM33 64h1v1h-1zM42 64h1v1h-1zM50 64h1v1h-1zM62 64h1v1h-1zM4 65h3v1h-3zM22 65h1v1h-1zM28 65h2v1h-2zM36 65h2v1h-2zM42 65h1v1h-1zM58 65h1v1h-1zM60 65h1v1h-1zM0 66h1v1h-1zM4 66h1v1h-1zM6 66h2v1h-2zM9 66h2v1h-2zM12 66h2v1h-2zM15 66h3v1h-3zM19 66h1v1h-1zM21 66h1v1h-1zM23 66h1v1h-1zM26 66h7v1h-7zM39 66h1v1h-1zM44 66h1v1h-1zM61 66h2v1h-2zM1 67h1v1h-1zM4 67h5v1h-5zM10 67h2v1h-2zM17 67h1v1h-1zM19 67h2v1h-2zM23 67h1v1h-1zM26 67h4v1h-4zM31 67h2v1h-2zM51 67h1v1h-1zM63 67h1v1h-1zM1 68h3v1h-3zM7 68h5v1h-5zM13 68h1v1h-1zM15 68h2v1h-2zM18 68h2v1h-2zM24 68h1v1h-1zM28 68h1v1h-1zM30 68h1v1h-1zM32 68h2v1h-2zM37 68h1v1h-1zM50 68h1v1h-1zM56 68h2v1h-2zM59 68h1v1h-1zM4 69h5v1h-5zM20 69h1v1h-1zM25 69h3v1h-3zM32 69h1v1h-1zM38 69h2v1h-2zM41 69h2v1h-2zM51 69h1v1h-1zM0 70h1v1h-1zM2 70h2v1h-2zM8 70h1v1h-1zM11 70h1v1h-1zM14 70h2v1h-2zM21 70h1v1h-1zM23 70h3v1h-3zM27 70h2v1h-2zM30 70h3v1h-3zM34 70h1v1h-1zM45 70h1v1h-1zM47 70h1v1h-1zM49 70h1v1h-1zM58 70h1v1h-1zM0 71h2v1h-2zM5 71h2v1h-2zM15 71h1v1h-1zM18 71h2v1h-2zM24 71h3v1h-3zM30 71h1v1h-1zM34 71h2v1h-2zM39 71h1v1h-1zM54 71h1v1h-1zM2 72h1v1h-1zM6 72h4v1h-4zM11 72h1v1h-1zM19 72h1v1h-1zM21 72h3v1h-3zM29 72h2v1h-2zM34 72h1v1h-1zM41 72h1v1h-1zM49 72h1v1h-1zM1 73h2v1h-2zM5 73h1v1h-1zM8 73h1v1h-1zM10 73h1v1h-1zM16 73h5v1h-5zM27 73h7v1h-7zM40 73h1v1h-1zM53 73h1v1h-1zM60 73h2v1h-2zM11 74h2v1h-2zM14 74h1v1h-1zM16 74h3v1h-3zM23 74h1v1h-1zM26 74h1v1h-1zM32 74h1v1h-1zM36 74h1v1h-1zM41 74h1v1h-1zM0 75h1v1h-1zM3 75h1v1h-1zM8 75h1v1h-1zM12 75h1v1h-1zM14 75h1v1h-1zM17 75h2v1h-2zM24 75h1v1h-1zM31 75h2v1h-2zM48 75h1v1h-1zM13 76h1v1h-1zM51 76h1v1h-1zM54 76h2v1h-2zM0 77h2v1h-2zM10 77h2v1h-2zM15 77h2v1h-2zM18 77h1v1h-1zM23 77h1v1h-1zM26 77h3v1h-3zM30 77h4v1h-4zM51 77h1v1h-1zM62 77h1v1h-1zM4 78h1v1h-1zM9 78h2v1h-2zM16 78h2v1h-2zM19 78h3v1h-3zM23 78h1v1h-1zM25 78h7v1h-7zM33 78h1v1h-1zM40 78h1v1h-1zM52 78h1v1h-1zM58 78h1v1h-1zM1 79h1v1h-1zM4 79h1v1h-1zM6 79h1v1h-1zM8 79h2v1h-2zM11 79h1v1h-1zM14 79h1v1h-1zM18 79h1v1h-1zM23 79h1v1h-1zM25 79h2v1h-2zM44 79h1v1h-1zM60 79h1v1h-1zM1 80h1v1h-1zM41 80h1v1h-1zM45 80h1v1h-1zM49 80h1v1h-1zM7 81h2v1h-2zM14 81h1v1h-1zM16 81h2v1h-2zM26 81h2v1h-2zM30 81h2v1h-2zM33 81h1v1h-1zM50 81h1v1h-1zM59 81h1v1h-1zM4 82h1v1h-1zM56 82h1v1h-1zM59 82h1v1h-1zM1 83h5v1h-5zM7 83h1v1h-1zM9 83h3v1h-3zM13 83h1v1h-1zM15 83h1v1h-1zM18 83h1v1h-1zM21 83h1v1h-1zM27 83h1v1h-1zM31 83h3v1h-3zM37 83h2v1h-2zM52 83h1v1h-1zM54 83h1v1h-1zM60 83h1v1h-1zM5 84h1v1h-1zM7 84h1v1h-1zM12 84h1v1h-1zM14 84h1v1h-1zM16 84h1v1h-1zM18 84h1v1h-1zM24 84h1v1h-1zM31 84h3v1h-3zM59 84h1v1h-1zM63 84h1v1h-1zM34 85h1v1h-1zM39 85h1v1h-1zM41 85h1v1h-1zM43 85h1v1h-1zM52 85h1v1h-1zM59 85h1v1h-1zM1 86h2v1h-2zM4 86h2v1h-2zM11 86h1v1h-1zM20 86h1v1h-1zM23 86h1v1h-1zM27 86h1v1h-1zM29 86h1v1h-1zM32 86h2v1h-2zM42 86h1v1h-1zM53 86h1v1h-1zM6 87h1v1h-1zM8 87h1v1h-1zM25 87h1v1h-1zM34 87h1v1h-1zM45 87h1v1h-1zM59 87h1v1h-1zM61 87h1v1h-1zM0 88h1v1h-1zM2 88h3v1h-3zM6 88h1v1h-1zM8 88h1v1h-1zM14 88h1v1h-1zM20 88h2v1h-2zM23 88h1v1h-1zM27 88h2v1h-2zM30 88h1v1h-1zM33 88h1v1h-1zM35 88h1v1h-1zM37 88h1v1h-1zM39 88h1v1h-1zM0 89h2v1h-2zM3 89h1v1h-1zM11 89h1v1h-1zM14 89h1v1h-1zM19 89h1v1h-1zM25 89h1v1h-1zM27 89h1v1h-1zM3 90h1v1h-1zM21 90h1v1h-1zM24 90h1v1h-1zM43 90h1v1h-1zM63 90h1v1h-1zM35 91h1v1h-1zM63 91h1v1h-1zM0 92h1v1h-1zM2 92h1v1h-1zM5 92h2v1h-2zM10 92h1v1h-1zM19 92h2v1h-2zM22 92h1v1h-1zM26 92h1v1h-1zM28 92h2v1h-2zM34 92h1v1h-1zM40 92h1v1h-1zM52 92h1v1h-1zM3 93h1v1h-1zM6 93h1v1h-1zM9 93h3v1h-3zM14 93h2v1h-2zM19 93h1v1h-1zM21 93h3v1h-3zM25 93h3v1h-3zM31 93h1v1h-1zM48 93h1v1h-1zM52 93h1v1h-1zM10 94h1v1h-1zM18 94h1v1h-1zM31 94h1v1h-1zM33 94h1v1h-1zM45 94h1v1h-1zM52 94h1v1h-1zM0 95h5v1h-5zM9 95h3v1h-3zM13 95h2v1h-2zM16 95h1v1h-1zM20 95h1v1h-1zM23 95h2v1h-2zM27 95h3v1h-3zM31 95h2v1h-2zM55 95h1v1h-1zM1 96h2v1h-2zM6 96h1v1h-1zM8 96h1v1h-1zM13 96h1v1h-1zM29 96h1v1h-1zM33 96h1v1h-1zM46 96h1v1h-1zM59 96h1v1h-1zM0 97h2v1h-2zM3 97h1v1h-1zM9 97h3v1h-3zM13 97h1v1h-1zM16 97h1v1h-1zM18 97h4v1h-4zM25 97h10v1h-10zM55 97h1v1h-1zM8 98h1v1h-1zM11 98h1v1h-1zM13 98h3v1h-3zM19 98h1v1h-1zM22 98h2v1h-2zM28 98h1v1h-1zM32 98h1v1h-1zM41 98h1v1h-1zM46 98h1v1h-1zM60 98h1v1h-1zM0 99h3v1h-3zM4 99h2v1h-2zM8 99h1v1h-1zM10 99h1v1h-1zM12 99h1v1h-1zM23 99h1v1h-1zM27 99h1v1h-1zM30 99h3v1h-3zM48 99h1v1h-1zM1 100h1v1h-1zM8 100h1v1h-1zM17 100h1v1h-1zM19 100h1v1h-1zM27 100h2v1h-2zM31 100h1v1h-1zM1 101h1v1h-1zM4 101h1v1h-1zM6 101h3v1h-3zM11 101h3v1h-3zM15 101h1v1h-1zM18 101h1v1h-1zM21 101h1v1h-1zM23 101h1v1h-1zM25 101h6v1h-6zM33 101h1v1h-1zM35 101h1v1h-1zM47 101h1v1h-1zM54 101h1v1h-1zM57 101h1v1h-1zM0 102h1v1h-1zM6 102h1v1h-1zM9 102h1v1h-1zM16 102h1v1h-1zM19 102h2v1h-2zM22 102h4v1h-4zM27 102h2v1h-2zM31 102h5v1h-5zM38 102h1v1h-1zM42 102h1v1h-1zM47 102h1v1h-1zM56 102h2v1h-2zM62 102h1v1h-1zM0 103h2v1h-2zM4 103h2v1h-2zM7 103h2v1h-2zM10 103h1v1h-1zM15 103h1v1h-1zM20 103h1v1h-1zM23 103h1v1h-1zM26 103h1v1h-1zM28 103h2v1h-2zM33 103h1v1h-1zM6 104h6v1h-6zM13 104h1v1h-1zM15 104h1v1h-1zM18 104h3v1h-3zM22 104h2v1h-2zM27 104h2v1h-2zM31 104h1v1h-1zM38 104h1v1h-1zM48 104h1v1h-1zM56 104h1v1h-1zM59 104h1v1h-1zM22 105h1v1h-1zM34 105h1v1h-1zM38 105h1v1h-1zM43 105h1v1h-1zM50 105h2v1h-2zM61 105h1v1h-1zM1 106h1v1h-1zM5 106h1v1h-1zM8 106h1v1h-1zM11 106h1v1h-1zM17 106h1v1h-1zM19 106h2v1h-2zM22 106h1v1h-1zM26 106h3v1h-3zM33 106h2v1h-2zM39 106h1v1h-1zM43 106h1v1h-1zM46 106h1v1h-1zM48 106h2v1h-2zM59 106h2v1h-2zM0 107h1v1h-1zM2 107h1v1h-1zM12 107h1v1h-1zM14 107h3v1h-3zM18 107h1v1h-1zM23 107h2v1h-2zM27 107h1v1h-1zM33 107h1v1h-1zM44 107h1v1h-1zM50 107h1v1h-1zM0 108h1v1h-1zM2 108h1v1h-1zM5 108h2v1h-2zM11 108h3v1h-3zM19 108h1v1h-1zM22 108h1v1h-1zM25 108h1v1h-1zM28 108h1v1h-1zM30 108h1v1h-1zM34 108h2v1h-2zM59 108h2v1h-2zM62 108h1v1h-1zM51 109h2v1h-2zM55 109h1v1h-1zM57 109h1v1h-1zM1 110h3v1h-3zM15 110h3v1h-3zM23 110h1v1h-1zM42 110h1v1h-1zM55 110h1v1h-1zM63 110h1v1h-1zM0 111h4v1h-4zM5 111h1v1h-1zM7 111h1v1h-1zM9 111h5v1h-5zM15 111h2v1h-2zM18 111h7v1h-7zM27 111h2v1h-2zM32 111h2v1h-2zM41 111h1v1h-1zM60 111h1v1h-1zM3 112h1v1h-1zM12 112h1v1h-1zM2 113h1v1h-1zM4 113h1v1h-1zM6 113h1v1h-1zM8 113h3v1h-3zM13 113h1v1h-1zM17 113h1v1h-1zM21 113h2v1h-2zM26 113h1v1h-1zM28 113h2v1h-2zM41 113h1v1h-1zM49 113h1v1h-1zM59 113h1v1h-1zM1 114h1v1h-1zM5 114h2v1h-2zM13 114h1v1h-1zM15 114h1v1h-1zM19 114h1v1h-1zM27 114h2v1h-2zM30 114h1v1h-1zM37 114h1v1h-1zM48 114h2v1h-2zM1 115h1v1h-1zM22 115h1v1h-1zM53 115h1v1h-1zM55 115h1v1h-1zM3 116h2v1h-2zM10 116h1v1h-1zM12 116h1v1h-1zM14 116h4v1h-4zM19 116h1v1h-1zM26 116h1v1h-1zM28 116h3v1h-3zM32 116h2v1h-2zM12 117h1v1h-1zM44 117h1v1h-1zM60 117h1v1h-1zM11 118h1v1h-1zM17 118h1v1h-1zM22 118h1v1h-1zM28 118h1v1h-1zM31 118h1v1h-1zM34 118h1v1h-1zM36 118h1v1h-1zM39 118h2v1h-2zM43 118h2v1h-2zM56 118h1v1h-1zM6 119h1v1h-1zM8 119h1v1h-1zM10 119h1v1h-1zM16 119h1v1h-1zM19 119h1v1h-1zM21 119h2v1h-2zM25 119h1v1h-1zM32 119h1v1h-1zM34 119h3v1h-3zM38 119h1v1h-1zM43 119h1v1h-1zM57 119h1v1h-1zM63 119h1v1h-1zM13 120h1v1h-1zM20 120h1v1h-1zM28 120h3v1h-3zM35 120h1v1h-1zM37 120h2v1h-2zM45 120h1v1h-1zM47 120h1v1h-1zM50 120h2v1h-2zM53 120h1v1h-1zM55 120h1v1h-1zM58 120h1v1h-1zM63 120h1v1h-1zM10 121h1v1h-1zM14 121h1v1h-1zM16 121h1v1h-1zM23 121h1v1h-1zM26 121h1v1h-1zM36 121h1v1h-1zM38 121h1v1h-1zM40 121h1v1h-1zM43 121h1v1h-1zM48 121h1v1h-1zM50 121h1v1h-1zM0 122h2v1h-2zM11 122h1v1h-1zM14 122h1v1h-1zM16 122h1v1h-1zM29 122h2v1h-2zM33 122h1v1h-1zM39 122h1v1h-1zM41 122h3v1h-3zM45 122h2v1h-2zM48 122h2v1h-2zM53 122h2v1h-2zM57 122h1v1h-1zM1 123h1v1h-1zM3 123h2v1h-2zM6 123h1v1h-1zM14 123h1v1h-1zM21 123h1v1h-1zM26 123h2v1h-2zM35 123h1v1h-1zM38 123h1v1h-1zM40 123h3v1h-3zM48 123h1v1h-1zM50 123h3v1h-3zM54 123h1v1h-1zM2 124h2v1h-2zM9 124h1v1h-1zM16 124h1v1h-1zM24 124h1v1h-1zM35 124h1v1h-1zM41 124h1v1h-1zM43 124h2v1h-2zM48 124h2v1h-2zM52 124h1v1h-1zM54 124h2v1h-2zM59 124h1v1h-1zM3 125h1v1h-1zM10 125h1v1h-1zM18 125h1v1h-1zM33 125h1v1h-1zM37 125h1v1h-1zM39 125h1v1h-1zM45 125h2v1h-2zM50 125h1v1h-1zM54 125h1v1h-1zM59 125h4v1h-4zM0 126h1v1h-1zM2 126h1v1h-1zM5 126h2v1h-2zM11 126h1v1h-1zM19 126h3v1h-3zM23 126h1v1h-1zM29 126h1v1h-1zM34 126h2v1h-2zM37 126h1v1h-1zM40 126h2v1h-2zM44 126h1v1h-1zM46 126h2v1h-2zM49 126h1v1h-1zM54 126h1v1h-1zM56 126h5v1h-5zM4 127h1v1h-1zM9 127h1v1h-1zM17 127h1v1h-1zM22 127h1v1h-1zM35 127h1v1h-1zM37 127h2v1h-2zM44 127h2v1h-2zM49 127h1v1h-1zM53 127h1v1h-1zM55 127h1v1h-1zM57 127h2v1h-2zM60 127h1v1h-1zM62 127h2v1h-2zM0 128h1v1h-1zM3 128h2v1h-2zM16 128h1v1h-1zM19 128h1v1h-1zM24 128h1v1h-1zM35 128h3v1h-3zM39 128h1v1h-1zM41 128h2v1h-2zM44 128h1v1h-1zM47 128h1v1h-1zM53 128h1v1h-1zM56 128h2v1h-2zM59 128h2v1h-2zM63 128h1v1h-1zM1 129h1v1h-1zM5 129h1v1h-1zM19 129h1v1h-1zM24 129h1v1h-1zM31 129h1v1h-1zM33 129h2v1h-2zM36 129h2v1h-2zM40 129h4v1h-4zM47 129h1v1h-1zM49 129h1v1h-1zM52 129h2v1h-2zM56 129h1v1h-1zM59 129h1v1h-1zM63 129h1v1h-1zM12 130h1v1h-1zM18 130h1v1h-1zM26 130h1v1h-1zM31 130h1v1h-1zM11 131h1v1h-1zM13 131h1v1h-1zM36 131h1v1h-1zM38 131h2v1h-2zM12 132h1v1h-1zM14 132h1v1h-1zM36 132h1v1h-1zM40 132h1v1h-1zM44 132h1v1h-1zM50 132h1v1h-1zM53 132h1v1h-1zM55 132h1v1h-1zM57 132h6v1h-6zM5 133h1v1h-1zM8 133h1v1h-1zM18 133h1v1h-1zM34 133h2v1h-2zM38 133h4v1h-4zM43 133h3v1h-3zM49 133h1v1h-1zM51 133h1v1h-1zM53 133h1v1h-1zM56 133h2v1h-2zM5 134h1v1h-1zM19 134h1v1h-1zM24 134h1v1h-1zM37 134h1v1h-1zM46 134h1v1h-1zM48 134h3v1h-3zM52 134h4v1h-4zM57 134h4v1h-4zM62 134h2v1h-2zM6 135h1v1h-1zM17 135h1v1h-1zM19 135h1v1h-1zM24 135h1v1h-1zM27 135h1v1h-1zM32 135h1v1h-1zM34 135h1v1h-1zM37 135h3v1h-3zM41 135h1v1h-1zM43 135h1v1h-1zM46 135h1v1h-1zM54 135h1v1h-1zM56 135h2v1h-2zM59 135h3v1h-3zM20 136h1v1h-1zM23 136h1v1h-1zM25 136h1v1h-1zM32 136h3v1h-3zM37 136h1v1h-1zM39 136h1v1h-1zM46 136h1v1h-1zM49 136h2v1h-2zM55 136h1v1h-1zM57 136h2v1h-2zM61 136h2v1h-2zM9 137h1v1h-1zM18 137h1v1h-1zM34 137h2v1h-2zM37 137h1v1h-1zM42 137h1v1h-1zM45 137h1v1h-1zM49 137h1v1h-1zM56 137h1v1h-1zM58 137h1v1h-1zM63 137h1v1h-1zM6 138h1v1h-1zM18 138h1v1h-1zM24 138h1v1h-1zM27 138h1v1h-1zM45 138h2v1h-2zM50 138h1v1h-1zM52 138h1v1h-1zM55 138h1v1h-1zM58 138h2v1h-2zM61 138h2v1h-2zM5 139h1v1h-1zM9 139h1v1h-1zM17 139h1v1h-1zM32 139h1v1h-1zM36 139h1v1h-1zM40 139h2v1h-2zM43 139h2v1h-2zM54 139h1v1h-1zM56 139h1v1h-1zM59 139h3v1h-3zM4 140h1v1h-1zM16 140h1v1h-1zM20 140h1v1h-1zM36 140h2v1h-2zM41 140h1v1h-1zM45 140h1v1h-1zM48 140h1v1h-1zM50 140h2v1h-2zM54 140h1v1h-1zM56 140h3v1h-3zM4 141h2v1h-2zM12 141h1v1h-1zM14 141h1v1h-1zM17 141h2v1h-2zM22 141h1v1h-1zM33 141h1v1h-1zM35 141h1v1h-1zM47 141h2v1h-2zM51 141h1v1h-1zM53 141h1v1h-1zM56 141h1v1h-1zM60 141h1v1h-1zM8 142h1v1h-1zM13 142h2v1h-2zM17 142h1v1h-1zM30 142h1v1h-1zM35 142h1v1h-1zM44 142h2v1h-2zM47 142h3v1h-3zM51 142h1v1h-1zM56 142h1v1h-1zM60 142h1v1h-1zM4 143h1v1h-1zM6 143h1v1h-1zM20 143h1v1h-1zM32 143h1v1h-1zM36 143h1v1h-1zM44 143h1v1h-1zM48 143h1v1h-1zM53 143h1v1h-1zM56 143h2v1h-2zM3 144h1v1h-1zM10 144h2v1h-2zM15 144h2v1h-2zM20 144h1v1h-1zM36 144h1v1h-1zM44 144h1v1h-1zM47 144h1v1h-1zM52 144h2v1h-2zM56 144h2v1h-2zM62 144h1v1h-1zM4 145h1v1h-1zM10 145h1v1h-1zM21 145h1v1h-1zM27 145h1v1h-1zM30 145h1v1h-1zM33 145h1v1h-1zM35 145h4v1h-4zM40 145h2v1h-2zM43 145h2v1h-2zM47 145h1v1h-1zM50 145h5v1h-5zM56 145h1v1h-1zM59 145h1v1h-1zM1 146h1v1h-1zM4 146h2v1h-2zM11 146h2v1h-2zM31 146h1v1h-1zM35 146h1v1h-1zM37 146h5v1h-5zM46 146h2v1h-2zM49 146h4v1h-4zM54 146h1v1h-1zM56 146h1v1h-1zM60 146h1v1h-1zM62 146h2v1h-2zM21 147h1v1h-1zM27 147h1v1h-1zM33 147h1v1h-1zM37 147h1v1h-1zM39 147h1v1h-1zM41 147h1v1h-1zM45 147h1v1h-1zM47 147h2v1h-2zM51 147h1v1h-1zM53 147h1v1h-1zM58 147h1v1h-1zM61 147h1v1h-1zM0 148h1v1h-1zM12 148h2v1h-2zM20 148h1v1h-1zM27 148h1v1h-1zM29 148h1v1h-1zM35 148h1v1h-1zM11 149h1v1h-1zM23 149h1v1h-1zM25 149h2v1h-2zM28 149h1v1h-1zM30 149h1v1h-1zM40 149h2v1h-2zM43 149h2v1h-2zM47 149h1v1h-1zM51 149h4v1h-4zM56 149h2v1h-2zM59 149h2v1h-2zM4 150h1v1h-1zM6 150h1v1h-1zM29 150h1v1h-1zM34 150h2v1h-2zM37 150h1v1h-1zM39 150h1v1h-1zM44 150h3v1h-3zM49 150h1v1h-1zM51 150h1v1h-1zM53 150h4v1h-4zM58 150h1v1h-1zM60 150h1v1h-1zM63 150h1v1h-1zM29 151h1v1h-1zM34 151h1v1h-1zM46 151h1v1h-1zM49 151h1v1h-1zM52 151h1v1h-1zM54 151h1v1h-1zM58 151h1v1h-1zM62 151h1v1h-1zM6 152h1v1h-1zM16 152h1v1h-1zM38 152h2v1h-2zM42 152h1v1h-1zM44 152h1v1h-1zM46 152h2v1h-2zM50 152h3v1h-3zM54 152h7v1h-7zM62 152h1v1h-1zM35 153h1v1h-1zM38 153h1v1h-1zM44 153h2v1h-2zM47 153h2v1h-2zM51 153h1v1h-1zM53 153h1v1h-1zM56 153h1v1h-1zM59 153h1v1h-1zM63 153h1v1h-1zM8 154h1v1h-1zM13 154h1v1h-1zM16 154h3v1h-3zM22 154h1v1h-1zM24 154h4v1h-4zM34 154h1v1h-1zM37 154h1v1h-1zM39 154h1v1h-1zM41 154h1v1h-1zM44 154h1v1h-1zM46 154h1v1h-1zM48 154h1v1h-1zM56 154h1v1h-1zM58 154h1v1h-1zM61 154h1v1h-1zM12 155h1v1h-1zM61 155h1v1h-1zM10 156h1v1h-1zM14 156h1v1h-1zM16 156h1v1h-1zM18 156h1v1h-1zM22 156h1v1h-1zM29 156h1v1h-1zM35 156h1v1h-1zM37 156h1v1h-1zM42 156h1v1h-1zM52 156h1v1h-1zM54 156h1v1h-1zM59 156h4v1h-4zM46 157h1v1h-1zM50 157h1v1h-1zM52 157h2v1h-2zM55 157h1v1h-1zM61 157h1v1h-1zM63 157h1v1h-1zM63 158h1v1h-1zM0 159h2v1h-2zM6 159h1v1h-1zM17 159h1v1h-1zM24 159h1v1h-1zM38 159h1v1h-1zM40 159h1v1h-1zM45 159h2v1h-2zM48 159h1v1h-1zM51 159h1v1h-1zM56 159h2v1h-2zM7 160h1v1h-1zM18 160h1v1h-1zM28 160h1v1h-1zM35 160h3v1h-3zM40 160h2v1h-2zM44 160h1v1h-1zM46 160h1v1h-1zM48 160h1v1h-1zM50 160h2v1h-2zM53 160h1v1h-1zM55 160h4v1h-4zM63 160h1v1h-1zM2 161h1v1h-1zM11 161h1v1h-1zM22 161h2v1h-2zM27 161h1v1h-1zM35 161h1v1h-1zM37 161h2v1h-2zM42 161h2v1h-2zM46 161h1v1h-1zM48 161h2v1h-2zM52 161h3v1h-3zM60 161h3v1h-3zM5 162h1v1h-1zM11 162h1v1h-1zM34 162h1v1h-1zM37 162h1v1h-1zM39 162h1v1h-1zM46 162h1v1h-1zM48 162h5v1h-5zM54 162h2v1h-2zM57 162h1v1h-1zM59 162h1v1h-1zM1 163h1v1h-1zM11 163h1v1h-1zM24 163h1v1h-1zM28 163h1v1h-1zM33 163h3v1h-3zM41 163h1v1h-1zM45 163h1v1h-1zM47 163h5v1h-5zM53 163h3v1h-3zM58 163h2v1h-2zM63 163h1v1h-1zM6 164h1v1h-1zM11 164h1v1h-1zM25 164h1v1h-1zM35 164h1v1h-1zM37 164h3v1h-3zM41 164h1v1h-1zM43 164h2v1h-2zM46 164h1v1h-1zM49 164h2v1h-2zM53 164h3v1h-3zM57 164h3v1h-3zM62 164h2v1h-2zM29 165h2v1h-2zM36 165h1v1h-1zM38 165h1v1h-1zM40 165h1v1h-1zM45 165h1v1h-1zM52 165h2v1h-2zM55 165h2v1h-2zM58 165h1v1h-1zM60 165h3v1h-3zM8 166h1v1h-1zM18 166h1v1h-1zM29 166h2v1h-2zM43 166h1v1h-1zM2 167h1v1h-1zM4 167h1v1h-1zM8 167h2v1h-2zM19 167h1v1h-1zM27 167h3v1h-3zM32 167h1v1h-1zM35 167h2v1h-2zM40 167h1v1h-1zM43 167h1v1h-1zM45 167h3v1h-3zM49 167h2v1h-2zM53 167h1v1h-1zM56 167h2v1h-2zM59 167h2v1h-2zM0 168h1v1h-1zM8 168h1v1h-1zM38 168h1v1h-1zM43 168h2v1h-2zM47 168h2v1h-2zM50 168h1v1h-1zM52 168h2v1h-2zM56 168h1v1h-1zM59 168h1v1h-1zM7 169h2v1h-2zM27 169h1v1h-1zM34 169h5v1h-5zM42 169h1v1h-1zM44 169h1v1h-1zM46 169h4v1h-4zM53 169h1v1h-1zM56 169h2v1h-2zM59 169h1v1h-1zM61 169h2v1h-2zM8 170h2v1h-2zM22 170h1v1h-1zM35 170h1v1h-1zM38 170h2v1h-2zM44 170h1v1h-1zM46 170h1v1h-1zM49 170h1v1h-1zM51 170h1v1h-1zM53 170h1v1h-1zM59 170h1v1h-1zM63 170h1v1h-1zM25 171h1v1h-1zM29 171h1v1h-1zM34 171h2v1h-2zM37 171h1v1h-1zM39 171h1v1h-1zM42 171h1v1h-1zM44 171h4v1h-4zM50 171h1v1h-1zM53 171h1v1h-1zM55 171h6v1h-6zM63 171h1v1h-1zM23 172h1v1h-1zM25 172h2v1h-2zM30 172h1v1h-1zM36 172h5v1h-5zM46 172h1v1h-1zM49 172h2v1h-2zM52 172h2v1h-2zM57 172h2v1h-2zM60 172h1v1h-1zM62 172h2v1h-2zM5 173h1v1h-1zM22 173h1v1h-1zM24 173h1v1h-1zM34 173h1v1h-1zM36 173h3v1h-3zM40 173h3v1h-3zM44 173h2v1h-2zM48 173h2v1h-2zM51 173h4v1h-4zM56 173h4v1h-4zM62 173h2v1h-2zM1 174h1v1h-1zM10 174h1v1h-1zM24 174h1v1h-1zM30 174h1v1h-1zM32 174h1v1h-1zM35 174h1v1h-1zM37 174h4v1h-4zM42 174h2v1h-2zM45 174h2v1h-2zM48 174h1v1h-1zM50 174h2v1h-2zM53 174h3v1h-3zM59 174h2v1h-2zM63 174h1v1h-1zM0 175h1v1h-1zM3 175h1v1h-1zM5 175h1v1h-1zM11 175h1v1h-1zM23 175h1v1h-1zM29 175h1v1h-1zM35 175h1v1h-1zM37 175h3v1h-3zM41 175h5v1h-5zM47 175h2v1h-2zM50 175h2v1h-2zM54 175h4v1h-4zM61 175h1v1h-1zM1 176h1v1h-1zM22 176h1v1h-1zM25 176h1v1h-1zM29 176h1v1h-1zM33 176h6v1h-6zM42 176h1v1h-1zM44 176h1v1h-1zM48 176h1v1h-1zM51 176h1v1h-1zM54 176h1v1h-1zM57 176h1v1h-1zM59 176h1v1h-1zM1 177h1v1h-1zM5 177h1v1h-1zM15 177h1v1h-1zM21 177h1v1h-1zM25 177h1v1h-1zM35 177h5v1h-5zM41 177h1v1h-1zM47 177h2v1h-2zM51 177h1v1h-1zM53 177h1v1h-1zM55 177h2v1h-2zM60 177h1v1h-1zM62 177h1v1h-1zM13 178h1v1h-1zM16 178h1v1h-1zM30 178h1v1h-1zM32 178h1v1h-1zM35 178h4v1h-4zM42 178h1v1h-1zM44 178h1v1h-1zM46 178h3v1h-3zM53 178h1v1h-1zM56 178h2v1h-2zM59 178h1v1h-1zM62 178h1v1h-1zM2 179h1v1h-1zM20 179h1v1h-1zM24 179h1v1h-1zM27 179h2v1h-2zM31 179h1v1h-1zM34 179h1v1h-1zM37 179h3v1h-3zM43 179h2v1h-2zM47 179h1v1h-1zM49 179h2v1h-2zM53 179h1v1h-1zM56 179h1v1h-1zM62 179h2v1h-2zM10 180h1v1h-1zM22 180h1v1h-1zM25 180h1v1h-1zM28 180h2v1h-2zM33 180h1v1h-1zM35 180h1v1h-1zM38 180h1v1h-1zM40 180h2v1h-2zM43 180h1v1h-1zM45 180h2v1h-2zM48 180h5v1h-5zM56 180h1v1h-1zM59 180h1v1h-1zM3 181h1v1h-1zM11 181h1v1h-1zM22 181h1v1h-1zM43 181h1v1h-1zM45 181h2v1h-2zM48 181h4v1h-4zM53 181h4v1h-4zM58 181h2v1h-2zM63 181h1v1h-1zM0 182h1v1h-1zM11 182h1v1h-1zM21 182h1v1h-1zM24 182h1v1h-1zM28 182h2v1h-2zM48 182h1v1h-1zM25 183h1v1h-1zM31 183h1v1h-1zM34 183h1v1h-1zM37 183h2v1h-2zM42 183h1v1h-1zM51 183h2v1h-2zM54 183h2v1h-2zM57 183h3v1h-3zM61 183h1v1h-1zM0 184h1v1h-1zM4 184h1v1h-1zM9 184h1v1h-1zM15 184h1v1h-1zM17 184h1v1h-1zM29 184h1v1h-1zM33 184h1v1h-1zM35 184h3v1h-3zM40 184h2v1h-2zM44 184h1v1h-1zM49 184h1v1h-1zM55 184h1v1h-1zM1 185h1v1h-1zM5 185h1v1h-1zM9 185h1v1h-1zM12 185h1v1h-1zM15 185h1v1h-1zM19 185h1v1h-1zM26 185h1v1h-1zM36 185h1v1h-1zM38 185h1v1h-1zM40 185h2v1h-2zM44 185h1v1h-1zM56 185h1v1h-1zM59 185h2v1h-2zM0 186h1v1h-1zM8 186h1v1h-1zM10 186h3v1h-3zM15 186h1v1h-1zM23 186h2v1h-2zM34 186h3v1h-3zM39 186h2v1h-2zM42 186h2v1h-2zM45 186h1v1h-1zM47 186h3v1h-3zM51 186h1v1h-1zM53 186h2v1h-2zM57 186h4v1h-4zM1 187h1v1h-1zM5 187h1v1h-1zM13 187h2v1h-2zM16 187h1v1h-1zM23 187h1v1h-1zM25 187h2v1h-2zM30 187h2v1h-2zM33 187h1v1h-1zM36 187h1v1h-1zM39 187h1v1h-1zM41 187h1v1h-1zM43 187h3v1h-3zM48 187h1v1h-1zM51 187h1v1h-1zM60 187h1v1h-1zM6 188h1v1h-1zM9 188h1v1h-1zM11 188h1v1h-1zM14 188h1v1h-1zM30 188h1v1h-1zM40 188h1v1h-1zM42 188h3v1h-3zM48 188h1v1h-1zM51 188h1v1h-1zM53 188h3v1h-3zM60 188h1v1h-1zM63 188h1v1h-1zM4 189h1v1h-1zM13 189h1v1h-1zM16 189h1v1h-1zM33 189h2v1h-2zM36 189h1v1h-1zM41 189h1v1h-1zM49 189h1v1h-1zM51 189h2v1h-2zM63 189h1v1h-1zM4 190h1v1h-1zM11 190h1v1h-1zM13 190h1v1h-1zM30 190h1v1h-1zM35 190h1v1h-1zM38 190h1v1h-1zM43 190h2v1h-2zM18 191h1v1h-1zM22 191h1v1h-1zM25 191h3v1h-3zM32 191h1v1h-1zM35 191h2v1h-2zM41 191h1v1h-1zM44 191h1v1h-1zM49 191h1v1h-1zM53 191h1v1h-1zM56 191h2v1h-2zM59 191h1v1h-1zM9 192h1v1h-1zM50 192h1v1h-1zM55 192h1v1h-1zM58 192h1v1h-1zM60 192h2v1h-2zM63 192h1v1h-1zM0 193h2v1h-2zM12 193h1v1h-1zM18 193h1v1h-1zM34 193h3v1h-3zM38 193h4v1h-4zM43 193h1v1h-1zM48 193h1v1h-1zM52 193h1v1h-1zM54 193h1v1h-1zM57 193h1v1h-1zM59 193h3v1h-3zM63 193h1v1h-1zM6 194h1v1h-1zM10 194h2v1h-2zM31 194h1v1h-1zM36 194h1v1h-1zM39 194h1v1h-1zM44 194h1v1h-1zM56 194h1v1h-1zM4 195h1v1h-1zM9 195h1v1h-1zM24 195h3v1h-3zM30 195h1v1h-1zM33 195h1v1h-1zM36 195h1v1h-1zM38 195h1v1h-1zM42 195h2v1h-2zM45 195h1v1h-1zM48 195h3v1h-3zM53 195h2v1h-2zM57 195h4v1h-4zM63 195h1v1h-1zM4 196h1v1h-1zM18 196h1v1h-1zM30 196h1v1h-1zM33 196h1v1h-1zM12 197h1v1h-1zM34 197h1v1h-1zM39 197h1v1h-1zM58 197h1v1h-1zM61 197h1v1h-1zM7 198h1v1h-1zM36 198h1v1h-1zM56 198h1v1h-1zM1 199h1v1h-1zM3 199h1v1h-1zM6 199h1v1h-1zM13 199h1v1h-1zM19 199h1v1h-1zM24 199h1v1h-1zM29 199h1v1h-1zM33 199h1v1h-1zM36 199h1v1h-1zM41 199h3v1h-3zM45 199h1v1h-1zM47 199h2v1h-2zM50 199h4v1h-4zM56 199h1v1h-1zM58 199h1v1h-1zM60 199h1v1h-1zM9 200h1v1h-1zM20 200h1v1h-1zM28 200h2v1h-2zM33 200h1v1h-1zM35 200h1v1h-1zM37 200h1v1h-1zM39 200h4v1h-4zM45 200h4v1h-4zM50 200h1v1h-1zM52 200h2v1h-2zM60 200h4v1h-4zM0 201h1v1h-1zM25 201h1v1h-1zM27 201h2v1h-2zM0 202h1v1h-1zM5 202h1v1h-1zM8 202h1v1h-1zM18 202h1v1h-1zM29 202h1v1h-1zM33 202h2v1h-2zM39 202h5v1h-5zM46 202h1v1h-1zM48 202h2v1h-2zM53 202h2v1h-2zM59 202h2v1h-2zM63 202h1v1h-1zM3 203h1v1h-1zM8 203h1v1h-1zM39 203h2v1h-2zM42 203h2v1h-2zM46 203h1v1h-1zM49 203h1v1h-1zM52 203h1v1h-1zM54 203h2v1h-2zM58 203h1v1h-1zM60 203h3v1h-3zM0 204h1v1h-1zM5 204h1v1h-1zM8 204h1v1h-1zM16 204h1v1h-1zM28 204h1v1h-1zM33 204h2v1h-2zM39 204h2v1h-2zM42 204h1v1h-1zM45 204h1v1h-1zM47 204h1v1h-1zM50 204h5v1h-5zM56 204h1v1h-1zM58 204h1v1h-1zM60 204h1v1h-1zM62 204h2v1h-2zM7 205h1v1h-1zM18 205h2v1h-2zM21 205h2v1h-2zM26 205h1v1h-1zM30 205h1v1h-1zM33 205h1v1h-1zM35 205h8v1h-8zM44 205h5v1h-5zM55 205h1v1h-1zM57 205h4v1h-4zM63 205h1v1h-1zM0 206h1v1h-1zM15 206h1v1h-1zM21 206h1v1h-1zM34 206h1v1h-1zM37 206h2v1h-2zM44 206h1v1h-1zM47 206h1v1h-1zM50 206h1v1h-1zM52 206h4v1h-4zM57 206h3v1h-3zM61 206h1v1h-1zM1 207h1v1h-1zM11 207h2v1h-2zM26 207h4v1h-4zM31 207h2v1h-2zM34 207h2v1h-2zM38 207h3v1h-3zM42 207h2v1h-2zM46 207h4v1h-4zM52 207h3v1h-3zM56 207h2v1h-2zM59 207h5v1h-5zM1 208h1v1h-1zM32 208h1v1h-1zM36 208h1v1h-1zM39 208h2v1h-2zM42 208h5v1h-5zM50 208h2v1h-2zM53 208h1v1h-1zM57 208h1v1h-1zM62 208h2v1h-2zM3 209h1v1h-1zM6 209h1v1h-1zM11 209h1v1h-1zM21 209h1v1h-1zM36 209h4v1h-4zM41 209h6v1h-6zM48 209h1v1h-1zM50 209h1v1h-1zM54 209h1v1h-1zM56 209h1v1h-1zM59 209h1v1h-1zM6 210h1v1h-1zM35 210h1v1h-1zM39 210h2v1h-2zM43 210h1v1h-1zM45 210h1v1h-1zM49 210h2v1h-2zM52 210h8v1h-8zM61 210h3v1h-3z"/>
<path fill="#e6f2ea" d="M5 0h1v1h-1zM23 0h1v1h-1zM34 0h1v1h-1zM36 0h1v1h-1zM45 0h1v1h-1zM56 0h1v1h-1zM63 0h1v1h-1zM1 1h2v1h-2zM4 1h4v1h-4zM10 1h1v1h-1zM15 1h2v1h-2zM22 1h2v1h-2zM25 1h4v1h-4zM31 1h2v1h-2zM34 1h1v1h-1zM38 1h1v1h-1zM0 2h2v1h-2zM4 2h1v1h-1zM6 2h1v1h-1zM11 2h1v1h-1zM13 2h2v1h-2zM16 2h4v1h-4zM24 2h1v1h-1zM28 2h1v1h-1zM30 2h2v1h-2zM33 2h1v1h-1zM38 2h1v1h-1zM41 2h1v1h-1zM38 3h1v1h-1zM11 4h1v1h-1zM54 4h1v1h-1zM5 5h1v1h-1zM25 5h1v1h-1zM44 5h1v1h-1zM55 5h1v1h-1zM5 6h1v1h-1zM9 6h1v1h-1zM13 6h1v1h-1zM19 6h2v1h-2zM25 6h2v1h-2zM29 6h1v1h-1zM10 7h1v1h-1zM20 7h1v1h-1zM22 7h1v1h-1zM38 7h1v1h-1zM41 7h1v1h-1zM48 7h1v1h-1zM58 7h1v1h-1zM1 8h1v1h-1zM9 8h1v1h-1zM13 8h1v1h-1zM15 8h2v1h-2zM20 8h1v1h-1zM23 8h1v1h-1zM28 8h1v1h-1zM32 8h1v1h-1zM50 8h1v1h-1zM52 8h1v1h-1zM57 8h1v1h-1zM49 9h1v1h-1zM1 10h4v1h-4zM6 10h1v1h-1zM10 10h1v1h-1zM14 10h3v1h-3zM20 10h2v1h-2zM24 10h9v1h-9zM39 10h2v1h-2zM6 11h1v1h-1zM8 11h1v1h-1zM49 11h1v1h-1zM53 11h2v1h-2zM59 11h1v1h-1zM61 11h1v1h-1zM1 12h1v1h-1zM5 12h2v1h-2zM11 12h1v1h-1zM18 12h1v1h-1zM20 12h1v1h-1zM22 12h2v1h-2zM26 12h1v1h-1zM31 12h1v1h-1zM49 12h1v1h-1zM51 12h1v1h-1zM56 12h1v1h-1zM1 13h1v1h-1zM18 13h1v1h-1zM20 13h1v1h-1zM28 13h1v1h-1zM34 13h1v1h-1zM40 13h1v1h-1zM43 13h1v1h-1zM8 14h1v1h-1zM40 14h1v1h-1zM3 15h1v1h-1zM5 15h1v1h-1zM11 15h1v1h-1zM19 15h3v1h-3zM28 15h1v1h-1zM40 15h1v1h-1zM0 16h3v1h-3zM4 16h1v1h-1zM6 16h1v1h-1zM9 16h1v1h-1zM13 16h1v1h-1zM19 16h1v1h-1zM21 16h1v1h-1zM26 16h1v1h-1zM29 16h1v1h-1zM31 16h1v1h-1zM41 16h1v1h-1zM57 16h1v1h-1zM61 16h1v1h-1zM55 17h1v1h-1zM58 17h1v1h-1zM20 18h1v1h-1zM25 18h1v1h-1zM41 18h1v1h-1zM60 18h1v1h-1zM2 19h1v1h-1zM5 19h2v1h-2zM8 19h1v1h-1zM13 19h1v1h-1zM15 19h1v1h-1zM20 19h2v1h-2zM26 19h2v1h-2zM29 19h2v1h-2zM55 19h1v1h-1zM56 20h1v1h-1zM62 20h1v1h-1zM6 22h1v1h-1zM8 22h3v1h-3zM13 22h1v1h-1zM22 22h1v1h-1zM26 22h1v1h-1zM45 22h2v1h-2zM51 22h1v1h-1zM62 22h1v1h-1zM39 23h1v1h-1zM45 23h1v1h-1zM54 23h1v1h-1zM57 25h1v1h-1zM0 26h1v1h-1zM5 26h1v1h-1zM56 26h1v1h-1zM38 27h1v1h-1zM50 27h1v1h-1zM4 29h1v1h-1zM19 29h1v1h-1zM35 29h1v1h-1zM40 29h1v1h-1zM46 29h1v1h-1zM49 29h1v1h-1zM58 29h1v1h-1zM60 29h1v1h-1zM0 30h1v1h-1zM5 30h3v1h-3zM11 30h1v1h-1zM13 30h1v1h-1zM20 30h2v1h-2zM23 30h3v1h-3zM50 30h1v1h-1zM53 30h1v1h-1zM5 31h1v1h-1zM49 31h1v1h-1zM60 31h1v1h-1zM8 32h1v1h-1zM50 32h1v1h-1zM53 32h1v1h-1zM61 32h1v1h-1zM2 33h1v1h-1zM4 33h2v1h-2zM19 33h1v1h-1zM28 33h1v1h-1zM49 33h1v1h-1zM60 33h1v1h-1zM63 33h1v1h-1zM0 34h1v1h-1zM5 34h2v1h-2zM8 34h1v1h-1zM13 34h1v1h-1zM21 34h1v1h-1zM25 34h5v1h-5zM54 34h1v1h-1zM59 34h1v1h-1zM62 34h1v1h-1zM55 35h1v1h-1zM57 35h1v1h-1zM59 35h1v1h-1zM1 36h1v1h-1zM5 36h1v1h-1zM8 36h1v1h-1zM11 36h1v1h-1zM14 36h1v1h-1zM17 36h3v1h-3zM21 36h1v1h-1zM33 36h1v1h-1zM36 36h1v1h-1zM39 36h1v1h-1zM41 36h1v1h-1zM49 36h1v1h-1zM60 36h3v1h-3zM1 37h2v1h-2zM4 37h5v1h-5zM14 37h1v1h-1zM20 37h4v1h-4zM26 37h2v1h-2zM29 37h1v1h-1zM53 37h2v1h-2zM60 37h3v1h-3zM0 38h1v1h-1zM5 38h1v1h-1zM22 39h1v1h-1zM20 40h1v1h-1zM22 40h1v1h-1zM26 40h2v1h-2zM29 40h1v1h-1zM32 40h1v1h-1zM53 40h1v1h-1zM56 40h1v1h-1zM58 40h1v1h-1zM4 41h1v1h-1zM6 41h1v1h-1zM20 41h1v1h-1zM27 41h1v1h-1zM50 41h1v1h-1zM55 41h2v1h-2zM60 41h1v1h-1zM4 42h1v1h-1zM6 42h4v1h-4zM11 42h1v1h-1zM13 42h3v1h-3zM17 42h1v1h-1zM19 42h8v1h-8zM29 42h2v1h-2zM51 43h1v1h-1zM55 44h1v1h-1zM20 45h1v1h-1zM56 46h1v1h-1zM62 46h1v1h-1zM5 47h1v1h-1zM8 47h1v1h-1zM20 47h1v1h-1zM25 47h1v1h-1zM49 47h2v1h-2zM1 48h1v1h-1zM8 48h1v1h-1zM13 48h1v1h-1zM22 48h1v1h-1zM26 48h1v1h-1zM28 48h1v1h-1zM33 48h1v1h-1zM55 48h1v1h-1zM4 50h1v1h-1zM6 50h3v1h-3zM10 50h2v1h-2zM17 50h1v1h-1zM20 50h4v1h-4zM27 50h2v1h-2zM30 50h1v1h-1zM33 50h1v1h-1zM53 50h1v1h-1zM57 50h1v1h-1zM59 50h1v1h-1zM61 50h1v1h-1zM1 51h1v1h-1zM4 51h2v1h-2zM7 51h1v1h-1zM9 51h3v1h-3zM19 51h4v1h-4zM26 51h1v1h-1zM28 51h2v1h-2zM32 51h1v1h-1zM39 51h1v1h-1zM61 51h1v1h-1zM2 52h1v1h-1zM6 52h1v1h-1zM13 52h1v1h-1zM20 52h1v1h-1zM32 52h1v1h-1zM39 52h1v1h-1zM54 52h1v1h-1zM58 52h1v1h-1zM4 53h1v1h-1zM6 53h1v1h-1zM22 53h1v1h-1zM25 53h2v1h-2zM28 53h1v1h-1zM51 53h1v1h-1zM55 53h1v1h-1zM58 53h1v1h-1zM62 53h1v1h-1zM4 54h2v1h-2zM7 54h2v1h-2zM10 54h2v1h-2zM13 54h1v1h-1zM19 54h3v1h-3zM24 54h1v1h-1zM27 54h2v1h-2zM60 54h1v1h-1zM62 54h1v1h-1zM49 55h1v1h-1zM1 56h1v1h-1zM8 56h1v1h-1zM13 56h2v1h-2zM20 56h1v1h-1zM22 56h1v1h-1zM25 56h1v1h-1zM28 56h1v1h-1zM39 56h1v1h-1zM41 56h1v1h-1zM44 56h1v1h-1zM52 56h1v1h-1zM59 56h1v1h-1zM6 57h1v1h-1zM9 57h1v1h-1zM13 57h2v1h-2zM22 57h1v1h-1zM26 57h1v1h-1zM29 57h1v1h-1zM38 57h1v1h-1zM41 57h1v1h-1zM61 57h1v1h-1zM49 58h1v1h-1zM2 59h1v1h-1zM22 59h1v1h-1zM32 59h1v1h-1zM51 59h1v1h-1zM59 59h3v1h-3zM44 60h1v1h-1zM53 60h1v1h-1zM1 61h2v1h-2zM5 61h2v1h-2zM8 61h1v1h-1zM10 61h1v1h-1zM17 61h1v1h-1zM19 61h2v1h-2zM25 61h1v1h-1zM27 61h2v1h-2zM32 61h2v1h-2zM37 61h1v1h-1zM46 61h1v1h-1zM56 61h1v1h-1zM59 61h1v1h-1zM62 61h1v1h-1zM6 62h1v1h-1zM22 62h1v1h-1zM26 62h1v1h-1zM41 62h1v1h-1zM44 62h1v1h-1zM57 62h1v1h-1zM60 62h2v1h-2zM8 63h1v1h-1zM55 63h1v1h-1zM62 63h1v1h-1zM5 64h1v1h-1zM8 64h1v1h-1zM21 64h1v1h-1zM41 64h1v1h-1zM59 64h1v1h-1zM34 65h2v1h-2zM39 65h2v1h-2zM62 65h1v1h-1zM5 66h1v1h-1zM8 66h1v1h-1zM18 66h1v1h-1zM25 66h1v1h-1zM36 66h1v1h-1zM49 66h2v1h-2zM54 66h1v1h-1zM58 66h1v1h-1zM63 66h1v1h-1zM40 67h1v1h-1zM44 67h1v1h-1zM50 67h1v1h-1zM52 67h1v1h-1zM55 67h1v1h-1zM20 68h1v1h-1zM22 68h1v1h-1zM25 68h1v1h-1zM27 68h1v1h-1zM29 68h1v1h-1zM36 68h1v1h-1zM50 69h1v1h-1zM1 70h1v1h-1zM4 70h4v1h-4zM13 70h1v1h-1zM16 70h1v1h-1zM19 70h1v1h-1zM22 70h1v1h-1zM26 70h1v1h-1zM29 70h1v1h-1zM35 70h1v1h-1zM37 70h1v1h-1zM41 70h1v1h-1zM51 70h2v1h-2zM56 70h1v1h-1zM60 70h1v1h-1zM62 70h1v1h-1zM4 71h1v1h-1zM7 71h2v1h-2zM10 71h2v1h-2zM13 71h1v1h-1zM17 71h1v1h-1zM23 71h1v1h-1zM29 71h1v1h-1zM38 71h1v1h-1zM44 71h1v1h-1zM49 71h1v1h-1zM55 71h1v1h-1zM60 71h1v1h-1zM5 72h1v1h-1zM46 72h1v1h-1zM51 72h1v1h-1zM54 72h1v1h-1zM4 73h1v1h-1zM7 73h1v1h-1zM11 73h1v1h-1zM21 73h3v1h-3zM26 73h1v1h-1zM36 73h1v1h-1zM49 73h1v1h-1zM51 73h1v1h-1zM57 73h1v1h-1zM0 74h4v1h-4zM5 74h2v1h-2zM8 74h3v1h-3zM15 74h1v1h-1zM19 74h2v1h-2zM27 74h2v1h-2zM30 74h2v1h-2zM33 74h1v1h-1zM37 74h1v1h-1zM53 74h1v1h-1zM57 74h1v1h-1zM63 74h1v1h-1zM1 75h1v1h-1zM4 75h2v1h-2zM7 75h1v1h-1zM9 75h3v1h-3zM13 75h1v1h-1zM16 75h1v1h-1zM23 75h1v1h-1zM25 75h1v1h-1zM27 75h2v1h-2zM30 75h1v1h-1zM33 75h1v1h-1zM37 75h1v1h-1zM40 75h1v1h-1zM42 75h1v1h-1zM49 75h1v1h-1zM52 75h1v1h-1zM57 75h1v1h-1zM61 75h2v1h-2zM37 76h1v1h-1zM4 77h3v1h-3zM8 77h2v1h-2zM13 77h1v1h-1zM17 77h1v1h-1zM19 77h2v1h-2zM25 77h1v1h-1zM29 77h1v1h-1zM52 77h1v1h-1zM57 77h2v1h-2zM1 78h1v1h-1zM8 78h1v1h-1zM13 78h2v1h-2zM32 78h1v1h-1zM45 78h1v1h-1zM48 78h1v1h-1zM54 78h1v1h-1zM60 78h1v1h-1zM3 79h1v1h-1zM5 79h1v1h-1zM37 79h1v1h-1zM61 79h1v1h-1zM36 80h1v1h-1zM0 81h1v1h-1zM2 81h3v1h-3zM9 81h1v1h-1zM11 81h3v1h-3zM20 81h2v1h-2zM23 81h3v1h-3zM28 81h2v1h-2zM38 81h1v1h-1zM42 81h1v1h-1zM48 81h1v1h-1zM51 81h1v1h-1zM55 81h1v1h-1zM36 82h1v1h-1zM48 82h1v1h-1zM0 83h1v1h-1zM6 83h1v1h-1zM8 83h1v1h-1zM14 83h1v1h-1zM19 83h2v1h-2zM26 83h1v1h-1zM29 83h1v1h-1zM58 83h1v1h-1zM0 84h5v1h-5zM6 84h1v1h-1zM8 84h2v1h-2zM11 84h1v1h-1zM13 84h1v1h-1zM19 84h1v1h-1zM26 84h2v1h-2zM29 84h2v1h-2zM39 84h1v1h-1zM53 84h2v1h-2zM60 84h1v1h-1zM45 85h1v1h-1zM26 86h1v1h-1zM28 86h1v1h-1zM49 86h1v1h-1zM58 86h1v1h-1zM60 86h1v1h-1zM1 88h1v1h-1zM5 88h1v1h-1zM11 88h1v1h-1zM58 88h1v1h-1zM2 89h1v1h-1zM4 89h1v1h-1zM6 89h4v1h-4zM12 89h1v1h-1zM15 89h4v1h-4zM20 89h1v1h-1zM28 89h1v1h-1zM30 89h4v1h-4zM38 89h1v1h-1zM41 89h1v1h-1zM48 89h1v1h-1zM60 89h1v1h-1zM0 90h1v1h-1zM4 90h1v1h-1zM7 90h1v1h-1zM10 90h1v1h-1zM12 90h1v1h-1zM14 90h6v1h-6zM23 90h1v1h-1zM26 90h3v1h-3zM30 90h1v1h-1zM34 90h1v1h-1zM48 90h2v1h-2zM56 90h1v1h-1zM42 91h1v1h-1zM25 92h1v1h-1zM41 92h1v1h-1zM48 92h1v1h-1zM59 92h1v1h-1zM0 93h2v1h-2zM4 93h2v1h-2zM7 93h2v1h-2zM13 93h1v1h-1zM20 93h1v1h-1zM28 93h2v1h-2zM32 93h2v1h-2zM35 93h1v1h-1zM38 93h2v1h-2zM43 93h1v1h-1zM45 93h1v1h-1zM53 93h1v1h-1zM55 93h1v1h-1zM62 93h1v1h-1zM2 94h3v1h-3zM6 94h4v1h-4zM11 94h3v1h-3zM15 94h1v1h-1zM17 94h1v1h-1zM19 94h1v1h-1zM21 94h1v1h-1zM23 94h1v1h-1zM26 94h2v1h-2zM29 94h2v1h-2zM32 94h1v1h-1zM43 94h1v1h-1zM48 94h1v1h-1zM56 94h1v1h-1zM5 95h4v1h-4zM21 95h2v1h-2zM45 95h1v1h-1zM22 96h1v1h-1zM2 97h1v1h-1zM4 97h3v1h-3zM8 97h1v1h-1zM22 97h2v1h-2zM41 97h1v1h-1zM62 97h1v1h-1zM5 98h2v1h-2zM21 98h1v1h-1zM29 98h1v1h-1zM54 98h2v1h-2zM41 99h1v1h-1zM49 99h1v1h-1zM54 99h1v1h-1zM60 99h1v1h-1zM44 100h1v1h-1zM48 100h1v1h-1zM5 101h1v1h-1zM19 101h2v1h-2zM60 101h1v1h-1zM1 102h1v1h-1zM5 102h1v1h-1zM10 102h2v1h-2zM26 102h1v1h-1zM29 102h1v1h-1zM41 102h1v1h-1zM19 103h1v1h-1zM38 103h1v1h-1zM41 103h1v1h-1zM50 103h1v1h-1zM55 103h1v1h-1zM58 103h1v1h-1zM5 104h1v1h-1zM47 104h1v1h-1zM53 104h1v1h-1zM63 104h1v1h-1zM35 105h1v1h-1zM63 105h1v1h-1zM4 106h1v1h-1zM6 106h1v1h-1zM35 106h1v1h-1zM56 106h1v1h-1zM61 106h1v1h-1zM1 107h1v1h-1zM4 107h8v1h-8zM17 107h1v1h-1zM19 107h4v1h-4zM26 107h1v1h-1zM28 107h2v1h-2zM32 107h1v1h-1zM38 107h1v1h-1zM40 107h1v1h-1zM20 108h1v1h-1zM4 110h4v1h-4zM9 110h2v1h-2zM13 110h2v1h-2zM21 110h1v1h-1zM24 110h1v1h-1zM26 110h2v1h-2zM29 110h5v1h-5zM40 110h1v1h-1zM46 110h1v1h-1zM49 110h2v1h-2zM56 110h1v1h-1zM4 111h1v1h-1zM6 111h1v1h-1zM8 111h1v1h-1zM25 111h2v1h-2zM29 111h1v1h-1zM36 111h1v1h-1zM44 111h1v1h-1zM46 111h1v1h-1zM56 111h1v1h-1zM0 112h1v1h-1zM4 112h1v1h-1zM9 112h1v1h-1zM11 112h1v1h-1zM14 112h2v1h-2zM17 112h1v1h-1zM20 112h2v1h-2zM23 112h3v1h-3zM27 112h5v1h-5zM33 112h1v1h-1zM36 112h1v1h-1zM39 112h2v1h-2zM49 112h1v1h-1zM51 112h1v1h-1zM61 112h2v1h-2zM1 113h1v1h-1zM5 113h1v1h-1zM12 113h1v1h-1zM15 113h1v1h-1zM19 113h2v1h-2zM50 113h1v1h-1zM8 114h1v1h-1zM22 114h1v1h-1zM25 114h1v1h-1zM43 114h1v1h-1zM53 114h1v1h-1zM2 116h1v1h-1zM5 116h5v1h-5zM11 116h1v1h-1zM13 116h1v1h-1zM18 116h1v1h-1zM20 116h2v1h-2zM25 116h1v1h-1zM27 116h1v1h-1zM34 116h3v1h-3zM38 116h1v1h-1zM41 116h1v1h-1zM45 116h1v1h-1zM54 116h1v1h-1zM56 116h1v1h-1zM2 117h1v1h-1zM7 117h1v1h-1zM10 117h2v1h-2zM14 117h1v1h-1zM16 117h3v1h-3zM29 117h1v1h-1zM31 117h1v1h-1zM33 117h1v1h-1zM35 117h1v1h-1zM48 117h1v1h-1zM55 117h1v1h-1zM9 118h1v1h-1zM19 118h1v1h-1zM25 118h1v1h-1zM33 118h1v1h-1zM4 119h1v1h-1zM18 119h1v1h-1zM29 119h1v1h-1zM6 120h1v1h-1zM12 120h1v1h-1zM16 120h1v1h-1zM36 120h1v1h-1zM40 120h1v1h-1zM48 120h2v1h-2zM54 120h1v1h-1zM56 120h2v1h-2zM61 120h1v1h-1zM19 121h1v1h-1zM21 121h1v1h-1zM28 121h1v1h-1zM30 121h1v1h-1zM9 122h1v1h-1zM22 122h1v1h-1zM25 122h1v1h-1zM32 122h1v1h-1zM36 122h1v1h-1zM44 122h1v1h-1zM51 122h1v1h-1zM7 123h1v1h-1zM9 123h2v1h-2zM20 123h1v1h-1zM28 123h1v1h-1zM30 123h1v1h-1zM32 123h1v1h-1zM44 123h1v1h-1zM56 123h1v1h-1zM17 124h1v1h-1zM21 124h1v1h-1zM23 124h1v1h-1zM28 124h1v1h-1zM30 124h1v1h-1zM36 124h1v1h-1zM38 124h1v1h-1zM40 124h1v1h-1zM45 124h1v1h-1zM47 124h1v1h-1zM51 124h1v1h-1zM53 124h1v1h-1zM56 124h1v1h-1zM0 125h1v1h-1zM5 125h1v1h-1zM11 125h1v1h-1zM23 125h1v1h-1zM25 125h2v1h-2zM31 125h1v1h-1zM34 125h1v1h-1zM38 125h1v1h-1zM40 125h2v1h-2zM43 125h2v1h-2zM47 125h1v1h-1zM49 125h1v1h-1zM51 125h3v1h-3zM55 125h4v1h-4zM63 125h1v1h-1zM1 126h1v1h-1zM13 126h1v1h-1zM18 126h1v1h-1zM26 126h1v1h-1zM32 126h2v1h-2zM36 126h1v1h-1zM48 126h1v1h-1zM50 126h2v1h-2zM1 127h1v1h-1zM3 127h1v1h-1zM10 127h1v1h-1zM20 127h1v1h-1zM24 127h1v1h-1zM34 127h1v1h-1zM39 127h1v1h-1zM41 127h3v1h-3zM46 127h3v1h-3zM50 127h3v1h-3zM54 127h1v1h-1zM56 127h1v1h-1zM59 127h1v1h-1zM51 128h1v1h-1zM4 129h1v1h-1zM12 129h1v1h-1zM30 129h1v1h-1zM38 129h2v1h-2zM44 129h1v1h-1zM46 129h1v1h-1zM48 129h1v1h-1zM51 129h1v1h-1zM62 129h1v1h-1zM0 131h1v1h-1zM10 132h1v1h-1zM31 132h1v1h-1zM37 132h3v1h-3zM42 132h2v1h-2zM45 132h1v1h-1zM47 132h1v1h-1zM49 132h1v1h-1zM51 132h1v1h-1zM54 132h1v1h-1zM56 132h1v1h-1zM1 133h1v1h-1zM3 133h1v1h-1zM16 133h1v1h-1zM21 133h1v1h-1zM28 133h2v1h-2zM0 134h1v1h-1zM10 134h2v1h-2zM13 134h1v1h-1zM16 134h1v1h-1zM20 134h1v1h-1zM26 134h1v1h-1zM33 134h1v1h-1zM35 134h2v1h-2zM38 134h4v1h-4zM43 134h3v1h-3zM47 134h1v1h-1zM51 134h1v1h-1zM56 134h1v1h-1zM1 135h1v1h-1zM5 135h1v1h-1zM8 135h1v1h-1zM14 135h1v1h-1zM16 135h1v1h-1zM20 135h1v1h-1zM29 135h1v1h-1zM35 135h2v1h-2zM40 135h1v1h-1zM42 135h1v1h-1zM45 135h1v1h-1zM47 135h4v1h-4zM53 135h1v1h-1zM0 136h1v1h-1zM5 136h1v1h-1zM8 136h1v1h-1zM13 136h1v1h-1zM18 136h1v1h-1zM22 136h1v1h-1zM28 136h1v1h-1zM36 136h1v1h-1zM40 136h1v1h-1zM42 136h4v1h-4zM47 136h1v1h-1zM52 136h3v1h-3zM56 136h1v1h-1zM59 136h2v1h-2zM63 136h1v1h-1zM0 137h1v1h-1zM3 137h1v1h-1zM5 137h1v1h-1zM10 137h1v1h-1zM15 137h1v1h-1zM21 137h2v1h-2zM26 137h1v1h-1zM33 137h1v1h-1zM36 137h1v1h-1zM38 137h4v1h-4zM43 137h2v1h-2zM48 137h1v1h-1zM50 137h1v1h-1zM52 137h4v1h-4zM2 138h2v1h-2zM9 138h1v1h-1zM17 138h1v1h-1zM21 138h3v1h-3zM25 138h2v1h-2zM30 138h1v1h-1zM32 138h1v1h-1zM34 138h1v1h-1zM39 138h2v1h-2zM42 138h1v1h-1zM47 138h1v1h-1zM49 138h1v1h-1zM51 138h1v1h-1zM53 138h2v1h-2zM57 138h1v1h-1zM60 138h1v1h-1zM7 139h1v1h-1zM16 139h1v1h-1zM19 139h1v1h-1zM25 139h2v1h-2zM29 139h1v1h-1zM31 139h1v1h-1zM48 139h1v1h-1zM53 139h1v1h-1zM6 140h1v1h-1zM10 140h1v1h-1zM17 140h1v1h-1zM19 140h1v1h-1zM10 141h1v1h-1zM25 141h1v1h-1zM44 141h1v1h-1zM7 142h1v1h-1zM11 142h1v1h-1zM26 142h1v1h-1zM59 142h1v1h-1zM14 143h1v1h-1zM24 143h1v1h-1zM29 143h1v1h-1zM26 144h2v1h-2zM3 145h1v1h-1zM45 145h1v1h-1zM60 145h1v1h-1zM13 146h1v1h-1zM27 146h1v1h-1zM36 146h1v1h-1zM42 146h2v1h-2zM57 146h1v1h-1zM3 147h1v1h-1zM22 147h1v1h-1zM44 147h1v1h-1zM31 148h1v1h-1zM5 149h1v1h-1zM12 149h1v1h-1zM27 149h1v1h-1zM31 149h1v1h-1zM39 149h1v1h-1zM48 149h1v1h-1zM63 149h1v1h-1zM17 150h1v1h-1zM36 150h1v1h-1zM41 150h1v1h-1zM43 150h1v1h-1zM47 150h2v1h-2zM59 150h1v1h-1zM10 151h1v1h-1zM23 151h1v1h-1zM28 151h1v1h-1zM33 151h1v1h-1zM35 151h1v1h-1zM37 151h1v1h-1zM39 151h1v1h-1zM41 151h1v1h-1zM43 151h3v1h-3zM47 151h2v1h-2zM50 151h2v1h-2zM53 151h1v1h-1zM55 151h2v1h-2zM59 151h3v1h-3zM63 151h1v1h-1zM0 152h2v1h-2zM3 152h1v1h-1zM21 152h2v1h-2zM25 152h1v1h-1zM32 152h1v1h-1zM36 152h2v1h-2zM40 152h2v1h-2zM43 152h1v1h-1zM45 152h1v1h-1zM48 152h1v1h-1zM53 152h1v1h-1zM63 152h1v1h-1zM21 153h1v1h-1zM3 154h2v1h-2zM19 154h1v1h-1zM45 154h1v1h-1zM14 155h1v1h-1zM20 155h1v1h-1zM34 155h1v1h-1zM38 155h1v1h-1zM46 155h1v1h-1zM49 155h4v1h-4zM54 155h2v1h-2zM57 155h1v1h-1zM60 155h1v1h-1zM62 155h1v1h-1zM6 156h1v1h-1zM11 156h1v1h-1zM21 156h1v1h-1zM23 156h1v1h-1zM27 156h2v1h-2zM30 156h1v1h-1zM36 156h1v1h-1zM38 156h1v1h-1zM40 156h2v1h-2zM43 156h3v1h-3zM48 156h2v1h-2zM53 156h1v1h-1zM56 156h2v1h-2zM63 156h1v1h-1zM0 157h1v1h-1zM7 157h1v1h-1zM9 157h1v1h-1zM29 157h1v1h-1zM31 157h1v1h-1zM34 157h2v1h-2zM37 157h2v1h-2zM41 157h5v1h-5zM47 157h3v1h-3zM54 157h1v1h-1zM58 157h3v1h-3zM11 158h1v1h-1zM13 158h1v1h-1zM19 158h1v1h-1zM40 158h1v1h-1zM42 158h2v1h-2zM50 158h1v1h-1zM52 158h1v1h-1zM55 158h1v1h-1zM57 158h2v1h-2zM60 158h3v1h-3zM7 159h1v1h-1zM36 159h1v1h-1zM59 159h1v1h-1zM11 160h1v1h-1zM23 160h2v1h-2zM30 160h1v1h-1zM32 160h1v1h-1zM39 160h1v1h-1zM47 160h1v1h-1zM54 160h1v1h-1zM59 160h2v1h-2zM1 161h1v1h-1zM19 161h1v1h-1zM25 161h1v1h-1zM29 161h3v1h-3zM41 161h1v1h-1zM44 161h2v1h-2zM50 161h2v1h-2zM56 161h2v1h-2zM59 161h1v1h-1zM63 161h1v1h-1zM8 162h1v1h-1zM18 162h1v1h-1zM24 162h1v1h-1zM31 162h1v1h-1zM35 162h2v1h-2zM40 162h1v1h-1zM43 162h2v1h-2zM53 162h1v1h-1zM5 163h1v1h-1zM13 163h1v1h-1zM27 163h1v1h-1zM36 163h5v1h-5zM43 163h2v1h-2zM46 163h1v1h-1zM56 163h2v1h-2zM60 163h1v1h-1zM3 164h1v1h-1zM20 164h1v1h-1zM23 164h1v1h-1zM32 164h2v1h-2zM36 164h1v1h-1zM45 164h1v1h-1zM48 164h1v1h-1zM51 164h1v1h-1zM60 164h1v1h-1zM3 165h1v1h-1zM15 165h1v1h-1zM18 165h1v1h-1zM25 165h1v1h-1zM33 165h1v1h-1zM35 165h1v1h-1zM39 165h1v1h-1zM41 165h1v1h-1zM44 165h1v1h-1zM48 165h1v1h-1zM51 165h1v1h-1zM59 165h1v1h-1zM9 166h1v1h-1zM12 167h1v1h-1zM18 167h1v1h-1zM24 167h1v1h-1zM33 167h1v1h-1zM38 167h1v1h-1zM44 167h1v1h-1zM9 168h1v1h-1zM22 168h1v1h-1zM25 168h1v1h-1zM28 168h1v1h-1zM31 168h1v1h-1zM36 168h1v1h-1zM12 169h1v1h-1zM18 169h1v1h-1zM22 169h1v1h-1zM25 169h1v1h-1zM39 169h1v1h-1zM43 169h1v1h-1zM51 169h1v1h-1zM63 169h1v1h-1zM3 170h1v1h-1zM32 170h2v1h-2zM36 170h1v1h-1zM0 171h1v1h-1zM36 171h1v1h-1zM40 171h1v1h-1zM48 171h2v1h-2zM51 171h1v1h-1zM54 171h1v1h-1zM62 171h1v1h-1zM1 172h1v1h-1zM21 172h1v1h-1zM24 172h1v1h-1zM28 172h1v1h-1zM34 172h2v1h-2zM41 172h2v1h-2zM44 172h2v1h-2zM47 172h2v1h-2zM56 172h1v1h-1zM59 172h1v1h-1zM8 173h1v1h-1zM12 173h1v1h-1zM26 173h3v1h-3zM33 173h1v1h-1zM35 173h1v1h-1zM43 173h1v1h-1zM0 174h1v1h-1zM6 174h1v1h-1zM17 174h1v1h-1zM20 174h1v1h-1zM26 174h1v1h-1zM36 174h1v1h-1zM44 174h1v1h-1zM47 174h1v1h-1zM56 174h2v1h-2zM10 175h1v1h-1zM33 175h1v1h-1zM36 175h1v1h-1zM40 175h1v1h-1zM53 175h1v1h-1zM59 175h1v1h-1zM18 176h1v1h-1zM23 176h1v1h-1zM40 176h1v1h-1zM47 176h1v1h-1zM6 177h1v1h-1zM14 177h1v1h-1zM63 177h1v1h-1zM1 178h1v1h-1zM12 178h1v1h-1zM19 179h1v1h-1zM22 179h1v1h-1zM30 179h1v1h-1zM35 179h2v1h-2zM40 179h3v1h-3zM45 179h1v1h-1zM48 179h1v1h-1zM51 179h1v1h-1zM54 179h1v1h-1zM57 179h1v1h-1zM0 180h1v1h-1zM9 180h1v1h-1zM18 180h1v1h-1zM24 180h1v1h-1zM36 180h1v1h-1zM44 180h1v1h-1zM54 180h1v1h-1zM16 181h2v1h-2zM26 181h1v1h-1zM36 181h1v1h-1zM38 181h4v1h-4zM44 181h1v1h-1zM47 181h1v1h-1zM57 181h1v1h-1zM61 181h1v1h-1zM4 183h1v1h-1zM9 183h1v1h-1zM11 183h1v1h-1zM18 183h1v1h-1zM22 183h2v1h-2zM26 183h2v1h-2zM35 183h2v1h-2zM39 183h2v1h-2zM43 183h4v1h-4zM48 183h3v1h-3zM53 183h1v1h-1zM56 183h1v1h-1zM60 183h1v1h-1zM62 183h2v1h-2zM3 184h1v1h-1zM14 184h1v1h-1zM39 184h1v1h-1zM10 185h1v1h-1zM22 185h1v1h-1zM27 185h1v1h-1zM30 185h1v1h-1zM26 186h1v1h-1zM28 186h1v1h-1zM31 186h1v1h-1zM38 186h1v1h-1zM2 187h2v1h-2zM9 187h1v1h-1zM4 188h1v1h-1zM23 188h2v1h-2zM26 188h2v1h-2zM31 188h2v1h-2zM36 188h1v1h-1zM38 188h2v1h-2zM41 188h1v1h-1zM45 188h1v1h-1zM49 188h1v1h-1zM56 188h2v1h-2zM59 188h1v1h-1zM8 189h1v1h-1zM24 189h2v1h-2zM27 189h1v1h-1zM29 189h1v1h-1zM48 189h1v1h-1zM10 190h1v1h-1zM28 190h1v1h-1zM30 191h1v1h-1zM1 192h1v1h-1zM6 192h1v1h-1zM23 192h1v1h-1zM28 192h2v1h-2zM31 192h1v1h-1zM34 192h1v1h-1zM37 192h4v1h-4zM42 192h2v1h-2zM46 192h2v1h-2zM51 192h4v1h-4zM57 192h1v1h-1zM59 192h1v1h-1zM62 192h1v1h-1zM10 193h1v1h-1zM13 193h1v1h-1zM26 193h2v1h-2zM30 193h1v1h-1zM44 193h1v1h-1zM53 193h1v1h-1zM25 194h1v1h-1zM19 195h1v1h-1zM21 195h1v1h-1zM27 195h1v1h-1zM32 195h1v1h-1zM35 195h1v1h-1zM39 195h3v1h-3zM47 195h1v1h-1zM56 195h1v1h-1zM25 196h1v1h-1zM29 196h1v1h-1zM11 197h1v1h-1zM20 197h2v1h-2zM31 197h1v1h-1zM37 197h2v1h-2zM40 197h4v1h-4zM46 197h1v1h-1zM50 197h1v1h-1zM52 197h1v1h-1zM55 197h3v1h-3zM59 197h1v1h-1zM13 198h2v1h-2zM19 198h1v1h-1zM25 198h1v1h-1zM2 199h1v1h-1zM8 199h1v1h-1zM16 199h1v1h-1zM22 199h1v1h-1zM35 199h1v1h-1zM38 199h3v1h-3zM44 199h1v1h-1zM49 199h1v1h-1zM54 199h1v1h-1zM57 199h1v1h-1zM62 199h2v1h-2zM1 200h2v1h-2zM6 200h1v1h-1zM8 200h1v1h-1zM12 200h1v1h-1zM16 200h1v1h-1zM34 200h1v1h-1zM36 200h1v1h-1zM38 200h1v1h-1zM43 200h2v1h-2zM49 200h1v1h-1zM51 200h1v1h-1zM54 200h1v1h-1zM56 200h1v1h-1zM59 200h1v1h-1zM5 201h1v1h-1zM8 201h1v1h-1zM7 202h1v1h-1zM9 202h1v1h-1zM12 202h1v1h-1zM19 202h1v1h-1zM35 202h1v1h-1zM38 202h1v1h-1zM44 202h2v1h-2zM50 202h2v1h-2zM56 202h2v1h-2zM0 203h1v1h-1zM5 203h1v1h-1zM11 203h1v1h-1zM17 203h1v1h-1zM22 203h1v1h-1zM27 203h1v1h-1zM30 203h1v1h-1zM34 203h5v1h-5zM45 203h1v1h-1zM47 203h2v1h-2zM51 203h1v1h-1zM53 203h1v1h-1zM56 203h1v1h-1zM63 203h1v1h-1zM12 204h1v1h-1zM20 204h1v1h-1zM24 204h1v1h-1zM26 204h1v1h-1zM35 204h2v1h-2zM38 204h1v1h-1zM43 204h1v1h-1zM48 204h1v1h-1zM57 204h1v1h-1zM59 204h1v1h-1zM6 205h1v1h-1zM9 205h1v1h-1zM15 205h1v1h-1zM23 205h1v1h-1zM31 205h1v1h-1zM34 205h1v1h-1zM49 205h1v1h-1zM51 205h1v1h-1zM53 205h2v1h-2zM56 205h1v1h-1zM4 206h1v1h-1zM6 206h2v1h-2zM16 206h1v1h-1zM18 206h3v1h-3zM22 206h1v1h-1zM24 206h1v1h-1zM30 206h1v1h-1zM33 206h1v1h-1zM36 206h1v1h-1zM39 206h2v1h-2zM42 206h2v1h-2zM45 206h1v1h-1zM48 206h2v1h-2zM56 206h1v1h-1zM60 206h1v1h-1zM62 206h2v1h-2zM2 207h1v1h-1zM4 207h1v1h-1zM16 207h1v1h-1zM33 207h1v1h-1zM36 207h1v1h-1zM41 207h1v1h-1zM44 207h1v1h-1zM51 207h1v1h-1zM58 207h1v1h-1zM9 208h2v1h-2zM22 208h1v1h-1zM24 208h1v1h-1zM26 208h1v1h-1zM28 208h1v1h-1zM31 208h1v1h-1zM35 208h1v1h-1zM47 208h1v1h-1zM49 208h1v1h-1zM54 208h1v1h-1zM56 208h1v1h-1zM58 208h2v1h-2zM0 209h1v1h-1zM2 209h1v1h-1zM12 209h2v1h-2zM24 209h2v1h-2zM29 209h1v1h-1zM33 209h1v1h-1zM1 210h1v1h-1zM4 210h1v1h-1zM20 210h1v1h-1zM23 210h5v1h-5zM30 210h2v1h-2zM34 210h1v1h-1zM36 210h1v1h-1zM38 210h1v1h-1zM41 210h2v1h-2zM47 210h2v1h-2zM51 210h1v1h-1z"/>
<path fill="#f2f9f4" d="M1 0h1v1h-1zM8 0h1v1h-1zM11 1h1v1h-1zM19 1h1v1h-1zM29 1h1v1h-1zM37 1h1v1h-1zM41 1h1v1h-1zM44 1h1v1h-1zM47 1h2v1h-2zM52 1h1v1h-1zM56 1h2v1h-2zM59 1h1v1h-1zM3 2h1v1h-1zM21 2h2v1h-2zM25 2h2v1h-2zM29 2h1v1h-1zM45 2h1v1h-1zM49 2h1v1h-1zM52 2h2v1h-2zM58 2h1v1h-1zM62 2h1v1h-1zM40 3h1v1h-1zM45 3h1v1h-1zM49 3h1v1h-1zM51 3h2v1h-2zM60 3h1v1h-1zM2 4h1v1h-1zM38 4h1v1h-1zM42 4h1v1h-1zM49 4h1v1h-1zM37 5h1v1h-1zM1 6h1v1h-1zM36 6h1v1h-1zM40 6h1v1h-1zM53 6h1v1h-1zM56 6h1v1h-1zM60 6h1v1h-1zM62 6h2v1h-2zM36 7h1v1h-1zM46 7h1v1h-1zM5 8h2v1h-2zM12 8h1v1h-1zM18 8h1v1h-1zM22 8h1v1h-1zM25 8h1v1h-1zM41 8h1v1h-1zM44 8h1v1h-1zM47 8h1v1h-1zM49 8h1v1h-1zM51 8h1v1h-1zM53 8h1v1h-1zM39 9h2v1h-2zM54 9h1v1h-1zM0 10h1v1h-1zM5 10h1v1h-1zM8 10h1v1h-1zM34 10h2v1h-2zM44 10h2v1h-2zM49 10h1v1h-1zM62 10h1v1h-1zM58 11h1v1h-1zM50 12h1v1h-1zM58 12h1v1h-1zM37 13h1v1h-1zM36 14h1v1h-1zM56 14h1v1h-1zM61 14h1v1h-1zM1 15h1v1h-1zM20 16h1v1h-1zM50 16h1v1h-1zM5 17h1v1h-1zM35 17h1v1h-1zM48 17h1v1h-1zM53 17h1v1h-1zM50 18h1v1h-1zM53 18h1v1h-1zM58 18h1v1h-1zM1 19h1v1h-1zM14 20h1v1h-1zM43 20h1v1h-1zM50 20h1v1h-1zM12 21h1v1h-1zM52 21h2v1h-2zM55 21h1v1h-1zM61 21h1v1h-1zM63 21h1v1h-1zM5 22h1v1h-1zM38 22h1v1h-1zM43 22h1v1h-1zM52 22h1v1h-1zM55 22h1v1h-1zM24 24h1v1h-1zM35 24h1v1h-1zM36 25h1v1h-1zM62 25h1v1h-1zM25 26h1v1h-1zM48 26h1v1h-1zM34 27h1v1h-1zM41 27h1v1h-1zM44 27h1v1h-1zM11 28h1v1h-1zM46 28h1v1h-1zM48 28h1v1h-1zM13 29h1v1h-1zM36 29h1v1h-1zM39 29h1v1h-1zM50 29h1v1h-1zM4 30h1v1h-1zM32 30h1v1h-1zM58 30h2v1h-2zM35 31h1v1h-1zM50 31h1v1h-1zM53 31h2v1h-2zM30 32h1v1h-1zM39 32h1v1h-1zM57 32h1v1h-1zM6 33h1v1h-1zM41 33h1v1h-1zM56 33h1v1h-1zM20 34h1v1h-1zM41 34h1v1h-1zM44 34h1v1h-1zM49 34h1v1h-1zM53 34h1v1h-1zM57 34h1v1h-1zM61 34h1v1h-1zM63 34h1v1h-1zM28 35h1v1h-1zM33 35h2v1h-2zM58 35h1v1h-1zM20 36h1v1h-1zM34 36h1v1h-1zM40 36h1v1h-1zM3 37h1v1h-1zM13 37h1v1h-1zM19 37h1v1h-1zM45 37h1v1h-1zM51 37h1v1h-1zM56 37h1v1h-1zM58 37h1v1h-1zM49 38h1v1h-1zM56 38h1v1h-1zM62 38h1v1h-1zM19 40h1v1h-1zM38 40h1v1h-1zM42 40h1v1h-1zM52 40h1v1h-1zM54 40h1v1h-1zM63 40h1v1h-1zM51 41h1v1h-1zM54 41h1v1h-1zM57 41h1v1h-1zM63 41h1v1h-1zM44 42h1v1h-1zM50 42h1v1h-1zM59 42h1v1h-1zM56 43h1v1h-1zM58 43h1v1h-1zM1 44h1v1h-1zM8 44h1v1h-1zM38 44h1v1h-1zM50 44h1v1h-1zM11 45h1v1h-1zM46 45h1v1h-1zM53 45h1v1h-1zM17 46h1v1h-1zM47 46h1v1h-1zM63 46h1v1h-1zM19 47h1v1h-1zM48 47h1v1h-1zM6 48h1v1h-1zM29 48h1v1h-1zM47 48h2v1h-2zM12 49h1v1h-1zM42 49h1v1h-1zM48 49h1v1h-1zM1 50h1v1h-1zM5 50h1v1h-1zM13 50h1v1h-1zM16 50h1v1h-1zM25 50h1v1h-1zM29 50h1v1h-1zM32 50h1v1h-1zM35 50h1v1h-1zM37 50h2v1h-2zM44 50h1v1h-1zM54 50h2v1h-2zM60 50h1v1h-1zM59 51h1v1h-1zM28 52h1v1h-1zM48 52h1v1h-1zM60 52h1v1h-1zM31 53h1v1h-1zM36 53h1v1h-1zM52 53h1v1h-1zM56 53h2v1h-2zM61 53h1v1h-1zM6 54h1v1h-1zM39 54h1v1h-1zM53 54h1v1h-1zM56 54h1v1h-1zM61 54h1v1h-1zM15 55h1v1h-1zM5 56h1v1h-1zM26 56h2v1h-2zM45 56h1v1h-1zM34 57h1v1h-1zM39 57h1v1h-1zM55 57h1v1h-1zM38 58h1v1h-1zM43 58h1v1h-1zM39 59h1v1h-1zM47 59h1v1h-1zM52 59h1v1h-1zM62 59h1v1h-1zM21 60h1v1h-1zM30 60h1v1h-1zM11 61h1v1h-1zM36 61h1v1h-1zM38 61h2v1h-2zM45 61h1v1h-1zM47 61h1v1h-1zM2 62h1v1h-1zM16 62h1v1h-1zM29 62h1v1h-1zM34 62h1v1h-1zM24 63h1v1h-1zM27 63h1v1h-1zM34 63h1v1h-1zM56 63h2v1h-2zM35 64h2v1h-2zM38 64h3v1h-3zM46 64h1v1h-1zM54 64h2v1h-2zM57 64h1v1h-1zM60 64h1v1h-1zM2 65h1v1h-1zM8 65h1v1h-1zM21 65h1v1h-1zM54 65h2v1h-2zM1 66h1v1h-1zM3 66h1v1h-1zM20 66h1v1h-1zM35 66h1v1h-1zM38 66h1v1h-1zM41 66h1v1h-1zM60 66h1v1h-1zM35 67h1v1h-1zM49 67h1v1h-1zM6 68h1v1h-1zM26 68h1v1h-1zM41 68h1v1h-1zM44 68h1v1h-1zM63 68h1v1h-1zM29 69h1v1h-1zM17 70h2v1h-2zM20 70h1v1h-1zM42 70h1v1h-1zM63 70h1v1h-1zM20 71h1v1h-1zM40 71h1v1h-1zM45 71h1v1h-1zM51 71h1v1h-1zM59 71h1v1h-1zM42 72h1v1h-1zM45 72h1v1h-1zM58 72h1v1h-1zM60 72h3v1h-3zM14 73h1v1h-1zM35 73h1v1h-1zM50 73h1v1h-1zM63 73h1v1h-1zM4 74h1v1h-1zM25 74h1v1h-1zM29 74h1v1h-1zM45 74h1v1h-1zM48 74h1v1h-1zM50 74h1v1h-1zM61 74h2v1h-2zM2 75h1v1h-1zM6 75h1v1h-1zM15 75h1v1h-1zM19 75h2v1h-2zM26 75h1v1h-1zM29 75h1v1h-1zM41 75h1v1h-1zM44 75h1v1h-1zM59 75h1v1h-1zM16 76h1v1h-1zM34 76h1v1h-1zM36 76h1v1h-1zM44 76h1v1h-1zM58 76h1v1h-1zM2 77h2v1h-2zM35 77h1v1h-1zM38 77h1v1h-1zM42 77h1v1h-1zM50 77h1v1h-1zM54 77h1v1h-1zM60 77h2v1h-2zM63 77h1v1h-1zM3 78h1v1h-1zM5 78h1v1h-1zM34 78h1v1h-1zM42 78h1v1h-1zM44 78h1v1h-1zM50 78h1v1h-1zM34 79h1v1h-1zM38 79h1v1h-1zM58 79h1v1h-1zM62 79h1v1h-1zM51 80h1v1h-1zM1 81h1v1h-1zM5 81h2v1h-2zM19 81h1v1h-1zM34 81h1v1h-1zM44 81h1v1h-1zM60 81h1v1h-1zM16 82h1v1h-1zM20 82h1v1h-1zM34 82h1v1h-1zM38 82h1v1h-1zM50 82h1v1h-1zM45 83h1v1h-1zM17 84h1v1h-1zM20 84h1v1h-1zM23 84h1v1h-1zM36 84h1v1h-1zM41 84h1v1h-1zM50 84h1v1h-1zM19 85h1v1h-1zM21 85h1v1h-1zM45 86h1v1h-1zM48 86h1v1h-1zM50 86h1v1h-1zM52 86h1v1h-1zM54 87h1v1h-1zM60 87h1v1h-1zM34 88h1v1h-1zM56 88h1v1h-1zM62 88h1v1h-1zM5 89h1v1h-1zM10 89h1v1h-1zM21 89h1v1h-1zM23 89h1v1h-1zM26 89h1v1h-1zM39 89h1v1h-1zM45 89h1v1h-1zM53 89h1v1h-1zM55 89h4v1h-4zM62 89h1v1h-1zM2 90h1v1h-1zM5 90h2v1h-2zM8 90h2v1h-2zM11 90h1v1h-1zM13 90h1v1h-1zM20 90h1v1h-1zM25 90h1v1h-1zM29 90h1v1h-1zM31 90h3v1h-3zM38 90h3v1h-3zM42 90h1v1h-1zM44 90h1v1h-1zM50 90h1v1h-1zM53 90h1v1h-1zM50 91h1v1h-1zM35 92h3v1h-3zM47 92h1v1h-1zM54 93h1v1h-1zM56 93h1v1h-1zM0 94h2v1h-2zM5 94h1v1h-1zM14 94h1v1h-1zM20 94h1v1h-1zM22 94h1v1h-1zM28 94h1v1h-1zM36 94h1v1h-1zM39 94h1v1h-1zM41 94h1v1h-1zM44 94h1v1h-1zM50 94h1v1h-1zM55 94h1v1h-1zM58 94h1v1h-1zM36 95h1v1h-1zM39 95h1v1h-1zM41 95h1v1h-1zM46 95h1v1h-1zM60 95h1v1h-1zM63 95h1v1h-1zM4 96h1v1h-1zM44 96h1v1h-1zM57 96h1v1h-1zM44 97h1v1h-1zM48 97h1v1h-1zM10 98h1v1h-1zM43 98h1v1h-1zM50 98h1v1h-1zM52 98h1v1h-1zM62 98h1v1h-1zM39 99h1v1h-1zM62 99h1v1h-1zM18 100h1v1h-1zM36 100h1v1h-1zM55 100h1v1h-1zM57 100h1v1h-1zM37 101h2v1h-2zM40 101h1v1h-1zM44 101h1v1h-1zM48 101h1v1h-1zM4 102h1v1h-1zM14 102h1v1h-1zM36 102h1v1h-1zM54 102h2v1h-2zM63 102h1v1h-1zM22 103h1v1h-1zM47 103h1v1h-1zM53 103h1v1h-1zM4 104h1v1h-1zM35 104h1v1h-1zM50 104h1v1h-1zM15 106h2v1h-2zM37 106h1v1h-1zM47 106h1v1h-1zM50 106h1v1h-1zM3 107h1v1h-1zM25 107h1v1h-1zM31 107h1v1h-1zM49 107h1v1h-1zM52 107h2v1h-2zM56 107h1v1h-1zM60 107h1v1h-1zM17 108h1v1h-1zM33 108h1v1h-1zM45 108h1v1h-1zM50 108h1v1h-1zM52 108h1v1h-1zM56 108h1v1h-1zM8 110h1v1h-1zM11 110h1v1h-1zM18 110h3v1h-3zM22 110h1v1h-1zM25 110h1v1h-1zM28 110h1v1h-1zM35 110h1v1h-1zM41 110h1v1h-1zM51 110h2v1h-2zM62 110h1v1h-1zM53 111h1v1h-1zM1 112h2v1h-2zM5 112h4v1h-4zM10 112h1v1h-1zM13 112h1v1h-1zM16 112h1v1h-1zM18 112h2v1h-2zM22 112h1v1h-1zM26 112h1v1h-1zM32 112h1v1h-1zM38 112h1v1h-1zM43 112h1v1h-1zM47 112h1v1h-1zM52 112h2v1h-2zM46 113h1v1h-1zM62 113h1v1h-1zM16 114h1v1h-1zM29 114h1v1h-1zM45 114h1v1h-1zM0 116h2v1h-2zM22 116h2v1h-2zM52 116h1v1h-1zM0 117h2v1h-2zM3 117h1v1h-1zM6 117h1v1h-1zM8 117h2v1h-2zM15 117h1v1h-1zM19 117h5v1h-5zM25 117h4v1h-4zM30 117h1v1h-1zM32 117h1v1h-1zM34 117h1v1h-1zM40 117h3v1h-3zM46 117h2v1h-2zM56 117h1v1h-1zM58 117h1v1h-1zM61 117h1v1h-1zM15 118h1v1h-1zM24 118h1v1h-1zM27 118h1v1h-1zM3 119h1v1h-1zM7 119h1v1h-1zM9 119h1v1h-1zM27 119h1v1h-1zM8 120h1v1h-1zM39 120h1v1h-1zM41 120h1v1h-1zM44 120h1v1h-1zM0 121h1v1h-1zM27 121h1v1h-1zM33 121h1v1h-1zM63 121h1v1h-1zM2 122h2v1h-2zM6 122h1v1h-1zM8 122h1v1h-1zM12 122h1v1h-1zM15 122h1v1h-1zM13 123h1v1h-1zM37 123h1v1h-1zM5 124h1v1h-1zM11 124h1v1h-1zM25 124h1v1h-1zM4 125h1v1h-1zM8 125h1v1h-1zM14 125h1v1h-1zM19 125h1v1h-1zM22 125h1v1h-1zM28 125h1v1h-1zM35 125h2v1h-2zM48 125h1v1h-1zM7 126h1v1h-1zM12 126h1v1h-1zM22 126h1v1h-1zM28 126h1v1h-1zM21 127h1v1h-1zM36 127h1v1h-1zM30 128h1v1h-1zM43 128h1v1h-1zM54 128h1v1h-1zM11 129h1v1h-1zM17 131h2v1h-2zM47 131h1v1h-1zM1 132h1v1h-1zM7 132h1v1h-1zM16 132h1v1h-1zM21 132h2v1h-2zM25 132h1v1h-1zM46 132h1v1h-1zM48 132h1v1h-1zM0 133h1v1h-1zM26 133h1v1h-1zM1 134h1v1h-1zM12 134h1v1h-1zM27 134h1v1h-1zM42 134h1v1h-1zM7 135h1v1h-1zM13 135h1v1h-1zM26 135h1v1h-1zM44 135h1v1h-1zM52 135h1v1h-1zM6 136h2v1h-2zM9 136h1v1h-1zM16 136h1v1h-1zM24 136h1v1h-1zM27 136h1v1h-1zM38 136h1v1h-1zM41 136h1v1h-1zM48 136h1v1h-1zM51 136h1v1h-1zM11 137h1v1h-1zM19 137h1v1h-1zM27 137h1v1h-1zM47 137h1v1h-1zM51 137h1v1h-1zM59 137h1v1h-1zM0 138h1v1h-1zM12 138h1v1h-1zM19 138h1v1h-1zM35 138h2v1h-2zM41 138h1v1h-1zM43 138h2v1h-2zM56 138h1v1h-1zM0 139h1v1h-1zM3 139h1v1h-1zM10 139h1v1h-1zM18 139h1v1h-1zM20 139h1v1h-1zM27 139h1v1h-1zM33 139h1v1h-1zM57 139h1v1h-1zM1 140h1v1h-1zM8 140h1v1h-1zM18 140h1v1h-1zM52 140h1v1h-1zM8 141h2v1h-2zM11 141h1v1h-1zM16 141h1v1h-1zM23 141h1v1h-1zM16 143h1v1h-1zM9 144h1v1h-1zM22 144h1v1h-1zM33 144h1v1h-1zM40 144h1v1h-1zM25 145h1v1h-1zM0 146h1v1h-1zM6 146h1v1h-1zM8 146h1v1h-1zM21 146h1v1h-1zM24 146h1v1h-1zM44 146h2v1h-2zM6 147h1v1h-1zM26 147h1v1h-1zM30 147h1v1h-1zM7 148h1v1h-1zM26 148h1v1h-1zM44 148h1v1h-1zM7 149h1v1h-1zM15 149h2v1h-2zM18 149h1v1h-1zM21 149h1v1h-1zM24 149h1v1h-1zM33 149h2v1h-2zM49 149h1v1h-1zM25 150h1v1h-1zM27 150h1v1h-1zM30 150h1v1h-1zM33 150h1v1h-1zM38 150h1v1h-1zM1 151h1v1h-1zM8 151h1v1h-1zM11 151h1v1h-1zM13 151h1v1h-1zM16 151h3v1h-3zM21 151h1v1h-1zM27 151h1v1h-1zM36 151h1v1h-1zM38 151h1v1h-1zM40 151h1v1h-1zM42 151h1v1h-1zM57 151h1v1h-1zM4 152h2v1h-2zM9 152h1v1h-1zM23 152h1v1h-1zM33 152h1v1h-1zM35 152h1v1h-1zM17 153h1v1h-1zM43 154h1v1h-1zM0 155h1v1h-1zM7 155h1v1h-1zM29 155h1v1h-1zM35 155h3v1h-3zM39 155h5v1h-5zM45 155h1v1h-1zM48 155h1v1h-1zM53 155h1v1h-1zM56 155h1v1h-1zM58 155h2v1h-2zM63 155h1v1h-1zM0 156h2v1h-2zM25 156h1v1h-1zM33 156h1v1h-1zM51 156h1v1h-1zM1 157h1v1h-1zM10 157h1v1h-1zM12 157h2v1h-2zM15 157h1v1h-1zM18 157h2v1h-2zM21 157h1v1h-1zM27 157h1v1h-1zM33 157h1v1h-1zM36 157h1v1h-1zM39 157h2v1h-2zM51 157h1v1h-1zM56 157h1v1h-1zM62 157h1v1h-1zM0 158h1v1h-1zM10 158h1v1h-1zM12 158h1v1h-1zM14 158h1v1h-1zM17 158h1v1h-1zM26 158h1v1h-1zM30 158h1v1h-1zM33 158h6v1h-6zM45 158h5v1h-5zM51 158h1v1h-1zM53 158h2v1h-2zM56 158h1v1h-1zM59 158h1v1h-1zM14 159h2v1h-2zM23 159h1v1h-1zM27 159h1v1h-1zM33 159h1v1h-1zM25 160h1v1h-1zM43 160h1v1h-1zM0 161h1v1h-1zM32 161h1v1h-1zM39 161h1v1h-1zM58 161h1v1h-1zM1 162h1v1h-1zM21 162h1v1h-1zM30 162h1v1h-1zM45 162h1v1h-1zM47 162h1v1h-1zM63 162h1v1h-1zM2 163h2v1h-2zM9 163h1v1h-1zM20 163h1v1h-1zM52 163h1v1h-1zM2 164h1v1h-1zM8 164h1v1h-1zM28 164h1v1h-1zM34 164h1v1h-1zM10 165h1v1h-1zM13 165h1v1h-1zM23 165h1v1h-1zM27 165h1v1h-1zM49 165h1v1h-1zM57 165h1v1h-1zM3 166h1v1h-1zM41 166h2v1h-2zM54 166h1v1h-1zM23 167h1v1h-1zM37 167h1v1h-1zM48 167h1v1h-1zM24 168h1v1h-1zM32 168h1v1h-1zM0 169h3v1h-3zM9 169h1v1h-1zM19 169h1v1h-1zM29 169h1v1h-1zM33 169h1v1h-1zM58 169h1v1h-1zM1 170h1v1h-1zM25 170h2v1h-2zM45 170h1v1h-1zM1 171h1v1h-1zM4 171h1v1h-1zM6 171h1v1h-1zM16 171h1v1h-1zM23 171h1v1h-1zM28 171h1v1h-1zM38 171h1v1h-1zM43 171h1v1h-1zM8 172h1v1h-1zM43 172h1v1h-1zM51 172h1v1h-1zM3 173h1v1h-1zM10 173h2v1h-2zM13 173h2v1h-2zM23 173h1v1h-1zM31 173h2v1h-2zM9 174h1v1h-1zM11 174h1v1h-1zM16 174h1v1h-1zM22 174h1v1h-1zM28 174h1v1h-1zM49 174h1v1h-1zM21 175h1v1h-1zM27 175h1v1h-1zM58 175h1v1h-1zM0 176h1v1h-1zM20 176h1v1h-1zM39 176h1v1h-1zM16 177h1v1h-1zM0 178h1v1h-1zM18 178h1v1h-1zM24 178h1v1h-1zM27 178h1v1h-1zM51 178h1v1h-1zM3 179h1v1h-1zM6 179h1v1h-1zM8 179h1v1h-1zM11 179h1v1h-1zM17 179h1v1h-1zM21 179h1v1h-1zM59 179h1v1h-1zM61 179h1v1h-1zM5 180h2v1h-2zM11 180h1v1h-1zM13 180h1v1h-1zM19 180h1v1h-1zM30 180h1v1h-1zM9 181h2v1h-2zM27 181h1v1h-1zM33 181h1v1h-1zM22 182h1v1h-1zM27 182h1v1h-1zM33 182h1v1h-1zM35 182h1v1h-1zM62 182h1v1h-1zM3 183h1v1h-1zM6 183h1v1h-1zM13 183h1v1h-1zM17 183h1v1h-1zM20 183h1v1h-1zM28 183h1v1h-1zM41 183h1v1h-1zM1 184h1v1h-1zM7 184h1v1h-1zM10 184h1v1h-1zM61 184h1v1h-1zM4 185h1v1h-1zM24 185h1v1h-1zM18 186h1v1h-1zM29 186h1v1h-1zM44 186h1v1h-1zM0 188h1v1h-1zM5 188h1v1h-1zM22 189h1v1h-1zM26 189h1v1h-1zM37 189h1v1h-1zM1 190h1v1h-1zM6 190h1v1h-1zM14 190h1v1h-1zM22 190h1v1h-1zM24 190h1v1h-1zM32 190h1v1h-1zM1 191h1v1h-1zM3 191h1v1h-1zM9 191h1v1h-1zM12 191h1v1h-1zM16 191h1v1h-1zM48 191h1v1h-1zM0 192h1v1h-1zM3 192h2v1h-2zM20 192h1v1h-1zM25 192h2v1h-2zM35 192h2v1h-2zM44 192h2v1h-2zM48 192h1v1h-1zM9 193h1v1h-1zM16 193h1v1h-1zM23 193h1v1h-1zM51 193h1v1h-1zM0 194h1v1h-1zM9 194h1v1h-1zM13 194h2v1h-2zM29 194h1v1h-1zM17 195h1v1h-1zM29 195h1v1h-1zM51 195h1v1h-1zM1 196h1v1h-1zM24 196h1v1h-1zM28 196h1v1h-1zM32 196h1v1h-1zM5 197h1v1h-1zM8 197h1v1h-1zM10 197h1v1h-1zM16 197h1v1h-1zM19 197h1v1h-1zM23 197h1v1h-1zM29 197h2v1h-2zM35 197h2v1h-2zM45 197h1v1h-1zM47 197h3v1h-3zM51 197h1v1h-1zM53 197h2v1h-2zM60 197h1v1h-1zM62 197h2v1h-2zM5 198h1v1h-1zM8 198h1v1h-1zM12 198h1v1h-1zM22 198h1v1h-1zM27 198h1v1h-1zM0 199h1v1h-1zM5 199h1v1h-1zM31 199h1v1h-1zM61 199h1v1h-1zM5 200h1v1h-1zM7 200h1v1h-1zM25 200h1v1h-1zM27 200h1v1h-1zM32 200h1v1h-1zM55 200h1v1h-1zM44 201h1v1h-1zM3 202h1v1h-1zM28 202h1v1h-1zM6 203h1v1h-1zM20 203h1v1h-1zM23 203h1v1h-1zM32 203h2v1h-2zM41 203h1v1h-1zM44 203h1v1h-1zM57 203h1v1h-1zM1 204h1v1h-1zM3 204h1v1h-1zM7 204h1v1h-1zM11 204h1v1h-1zM17 204h1v1h-1zM27 204h1v1h-1zM44 204h1v1h-1zM8 205h1v1h-1zM10 205h2v1h-2zM17 205h1v1h-1zM32 205h1v1h-1zM5 206h1v1h-1zM9 206h1v1h-1zM13 206h1v1h-1zM25 206h1v1h-1zM27 206h1v1h-1zM32 206h1v1h-1zM35 206h1v1h-1zM41 206h1v1h-1zM51 206h1v1h-1zM23 207h2v1h-2zM2 208h1v1h-1zM15 208h1v1h-1zM20 208h1v1h-1zM41 208h1v1h-1zM4 209h1v1h-1zM23 209h1v1h-1zM28 209h1v1h-1zM8 210h1v1h-1zM28 210h1v1h-1zM44 210h1v1h-1z"/>
<path fill="#ffffff" d="M11 0h1v1h-1zM14 0h1v1h-1zM35 0h1v1h-1zM41 0h1v1h-1zM44 0h1v1h-1zM46 0h1v1h-1zM54 0h1v1h-1zM57 0h2v1h-2zM13 1h1v1h-1zM20 1h1v1h-1zM40 1h1v1h-1zM55 1h1v1h-1zM10 2h1v1h-1zM36 2h1v1h-1zM39 2h2v1h-2zM42 2h1v1h-1zM44 2h1v1h-1zM51 2h1v1h-1zM35 3h1v1h-1zM39 3h1v1h-1zM58 3h1v1h-1zM29 4h1v1h-1zM53 4h1v1h-1zM55 4h2v1h-2zM61 4h2v1h-2zM11 5h1v1h-1zM35 5h1v1h-1zM49 5h1v1h-1zM57 5h1v1h-1zM59 5h1v1h-1zM62 5h1v1h-1zM34 6h2v1h-2zM38 6h2v1h-2zM57 6h1v1h-1zM34 7h2v1h-2zM39 7h1v1h-1zM49 7h1v1h-1zM51 7h1v1h-1zM53 7h3v1h-3zM62 7h1v1h-1zM40 8h1v1h-1zM58 8h1v1h-1zM63 8h1v1h-1zM36 9h1v1h-1zM38 9h1v1h-1zM43 9h1v1h-1zM47 9h1v1h-1zM62 9h1v1h-1zM19 10h1v1h-1zM41 10h1v1h-1zM50 10h3v1h-3zM57 10h1v1h-1zM35 11h1v1h-1zM38 11h3v1h-3zM45 11h3v1h-3zM50 11h3v1h-3zM56 11h1v1h-1zM63 11h1v1h-1zM4 12h1v1h-1zM21 12h1v1h-1zM34 12h1v1h-1zM37 12h1v1h-1zM55 12h1v1h-1zM57 12h1v1h-1zM60 12h2v1h-2zM48 13h1v1h-1zM50 13h1v1h-1zM52 13h2v1h-2zM55 13h1v1h-1zM57 13h2v1h-2zM61 13h1v1h-1zM35 14h1v1h-1zM38 14h2v1h-2zM52 14h1v1h-1zM55 14h1v1h-1zM44 15h1v1h-1zM48 15h1v1h-1zM51 15h1v1h-1zM61 15h1v1h-1zM5 16h1v1h-1zM34 16h2v1h-2zM43 16h2v1h-2zM46 16h1v1h-1zM53 16h1v1h-1zM55 16h1v1h-1zM60 16h1v1h-1zM1 17h1v1h-1zM23 17h1v1h-1zM36 17h1v1h-1zM44 17h4v1h-4zM49 17h4v1h-4zM61 17h1v1h-1zM63 17h1v1h-1zM5 18h1v1h-1zM17 18h1v1h-1zM23 18h1v1h-1zM34 18h1v1h-1zM38 18h2v1h-2zM42 18h1v1h-1zM59 18h1v1h-1zM63 18h1v1h-1zM34 19h4v1h-4zM39 19h1v1h-1zM41 19h1v1h-1zM46 19h1v1h-1zM48 19h1v1h-1zM52 19h1v1h-1zM56 19h1v1h-1zM58 19h1v1h-1zM34 20h1v1h-1zM36 20h2v1h-2zM44 20h2v1h-2zM49 20h1v1h-1zM54 20h1v1h-1zM58 20h1v1h-1zM61 20h1v1h-1zM6 21h1v1h-1zM31 21h1v1h-1zM35 21h2v1h-2zM41 21h1v1h-1zM47 21h1v1h-1zM50 21h1v1h-1zM57 21h1v1h-1zM59 21h2v1h-2zM39 22h1v1h-1zM47 22h2v1h-2zM59 22h3v1h-3zM34 23h1v1h-1zM46 23h1v1h-1zM49 23h2v1h-2zM55 23h2v1h-2zM60 23h1v1h-1zM36 24h1v1h-1zM43 24h1v1h-1zM46 24h1v1h-1zM48 24h5v1h-5zM54 24h1v1h-1zM60 24h1v1h-1zM62 24h2v1h-2zM35 25h1v1h-1zM42 25h1v1h-1zM44 25h1v1h-1zM49 25h1v1h-1zM52 25h1v1h-1zM60 25h1v1h-1zM63 25h1v1h-1zM6 26h1v1h-1zM16 26h1v1h-1zM23 26h1v1h-1zM29 26h1v1h-1zM35 26h2v1h-2zM39 26h1v1h-1zM41 26h1v1h-1zM43 26h1v1h-1zM46 26h2v1h-2zM49 26h1v1h-1zM54 26h1v1h-1zM57 26h1v1h-1zM8 27h2v1h-2zM23 27h1v1h-1zM39 27h1v1h-1zM43 27h1v1h-1zM47 27h2v1h-2zM23 28h1v1h-1zM35 28h1v1h-1zM42 28h1v1h-1zM60 28h1v1h-1zM15 29h1v1h-1zM23 29h1v1h-1zM38 29h1v1h-1zM41 29h1v1h-1zM44 29h2v1h-2zM61 29h2v1h-2zM36 30h1v1h-1zM39 30h1v1h-1zM43 30h1v1h-1zM48 30h1v1h-1zM54 30h1v1h-1zM61 30h1v1h-1zM39 31h1v1h-1zM46 31h1v1h-1zM52 31h1v1h-1zM58 31h1v1h-1zM61 31h1v1h-1zM24 32h1v1h-1zM37 32h1v1h-1zM48 32h1v1h-1zM54 32h1v1h-1zM59 32h1v1h-1zM62 32h1v1h-1zM38 33h1v1h-1zM40 33h1v1h-1zM47 33h1v1h-1zM57 33h2v1h-2zM38 35h1v1h-1zM46 35h1v1h-1zM48 35h1v1h-1zM50 35h1v1h-1zM53 35h1v1h-1zM50 36h1v1h-1zM53 36h1v1h-1zM58 36h1v1h-1zM34 37h2v1h-2zM37 37h1v1h-1zM48 37h1v1h-1zM57 37h1v1h-1zM63 37h1v1h-1zM26 38h1v1h-1zM38 38h1v1h-1zM42 38h1v1h-1zM46 38h1v1h-1zM50 38h1v1h-1zM53 38h2v1h-2zM60 38h1v1h-1zM8 39h1v1h-1zM45 39h1v1h-1zM47 39h1v1h-1zM55 39h1v1h-1zM57 39h2v1h-2zM60 39h1v1h-1zM62 39h1v1h-1zM35 40h1v1h-1zM51 40h1v1h-1zM57 40h1v1h-1zM59 40h2v1h-2zM21 41h1v1h-1zM23 41h1v1h-1zM34 41h1v1h-1zM38 41h1v1h-1zM41 41h1v1h-1zM43 41h1v1h-1zM49 41h1v1h-1zM52 41h1v1h-1zM58 41h1v1h-1zM62 41h1v1h-1zM5 42h1v1h-1zM31 42h1v1h-1zM34 42h2v1h-2zM40 42h2v1h-2zM45 42h1v1h-1zM53 42h2v1h-2zM58 42h1v1h-1zM60 42h1v1h-1zM11 43h1v1h-1zM45 43h1v1h-1zM59 43h2v1h-2zM39 44h1v1h-1zM43 44h1v1h-1zM45 44h2v1h-2zM54 44h1v1h-1zM37 45h2v1h-2zM43 45h1v1h-1zM47 45h1v1h-1zM54 45h4v1h-4zM22 46h1v1h-1zM38 46h1v1h-1zM45 46h1v1h-1zM51 46h1v1h-1zM54 46h1v1h-1zM58 46h1v1h-1zM2 47h1v1h-1zM10 47h1v1h-1zM34 47h1v1h-1zM43 47h1v1h-1zM62 47h1v1h-1zM20 48h1v1h-1zM36 48h1v1h-1zM51 48h1v1h-1zM63 48h1v1h-1zM7 49h1v1h-1zM23 49h1v1h-1zM37 49h1v1h-1zM39 49h1v1h-1zM41 49h1v1h-1zM44 49h1v1h-1zM49 49h1v1h-1zM51 49h1v1h-1zM61 49h2v1h-2zM42 50h2v1h-2zM48 50h1v1h-1zM51 50h2v1h-2zM58 50h1v1h-1zM62 50h1v1h-1zM50 51h4v1h-4zM60 51h1v1h-1zM5 52h1v1h-1zM7 52h1v1h-1zM35 52h1v1h-1zM41 52h1v1h-1zM47 52h1v1h-1zM50 52h1v1h-1zM53 52h1v1h-1zM55 52h1v1h-1zM62 52h1v1h-1zM38 53h1v1h-1zM41 53h1v1h-1zM49 53h1v1h-1zM54 53h1v1h-1zM63 53h1v1h-1zM1 54h1v1h-1zM42 54h1v1h-1zM47 54h1v1h-1zM63 54h1v1h-1zM37 55h1v1h-1zM39 55h2v1h-2zM42 55h1v1h-1zM44 55h1v1h-1zM52 55h2v1h-2zM55 55h1v1h-1zM60 55h1v1h-1zM63 55h1v1h-1zM32 56h1v1h-1zM51 56h1v1h-1zM61 56h3v1h-3zM20 57h1v1h-1zM35 57h1v1h-1zM43 57h2v1h-2zM46 57h1v1h-1zM59 57h1v1h-1zM62 57h1v1h-1zM29 58h1v1h-1zM33 58h2v1h-2zM36 58h1v1h-1zM42 58h1v1h-1zM45 58h3v1h-3zM52 58h1v1h-1zM62 58h2v1h-2zM10 59h1v1h-1zM34 59h1v1h-1zM38 59h1v1h-1zM42 59h1v1h-1zM44 59h1v1h-1zM48 59h1v1h-1zM50 59h1v1h-1zM54 59h1v1h-1zM56 59h1v1h-1zM15 60h1v1h-1zM24 60h2v1h-2zM39 60h1v1h-1zM41 60h1v1h-1zM45 60h2v1h-2zM54 60h1v1h-1zM57 60h3v1h-3zM34 61h1v1h-1zM40 61h1v1h-1zM63 61h1v1h-1zM5 62h1v1h-1zM36 62h1v1h-1zM45 62h1v1h-1zM47 62h2v1h-2zM55 62h1v1h-1zM58 62h2v1h-2zM62 62h1v1h-1zM10 63h1v1h-1zM13 63h1v1h-1zM23 63h1v1h-1zM58 63h1v1h-1zM61 63h1v1h-1zM9 64h1v1h-1zM14 64h1v1h-1zM37 64h1v1h-1zM45 64h1v1h-1zM52 64h2v1h-2zM56 64h1v1h-1zM38 65h1v1h-1zM46 65h3v1h-3zM56 65h1v1h-1zM63 65h1v1h-1zM34 66h1v1h-1zM42 66h1v1h-1zM47 66h2v1h-2zM52 66h1v1h-1zM56 66h1v1h-1zM59 66h1v1h-1zM21 67h1v1h-1zM34 67h1v1h-1zM41 67h1v1h-1zM45 67h1v1h-1zM48 67h1v1h-1zM57 67h2v1h-2zM60 67h1v1h-1zM62 67h1v1h-1zM23 68h1v1h-1zM49 68h1v1h-1zM53 68h2v1h-2zM49 69h1v1h-1zM53 69h2v1h-2zM58 69h2v1h-2zM61 69h3v1h-3zM9 70h1v1h-1zM12 70h1v1h-1zM36 70h1v1h-1zM38 70h1v1h-1zM50 70h1v1h-1zM53 70h2v1h-2zM57 70h1v1h-1zM22 71h1v1h-1zM41 71h1v1h-1zM43 71h1v1h-1zM46 71h1v1h-1zM50 71h1v1h-1zM52 71h1v1h-1zM57 71h1v1h-1zM61 71h3v1h-3zM35 72h1v1h-1zM38 72h3v1h-3zM43 72h1v1h-1zM50 72h1v1h-1zM53 72h1v1h-1zM59 72h1v1h-1zM3 73h1v1h-1zM6 73h1v1h-1zM39 73h1v1h-1zM44 73h1v1h-1zM58 73h2v1h-2zM62 73h1v1h-1zM22 74h1v1h-1zM39 74h1v1h-1zM43 74h2v1h-2zM49 74h1v1h-1zM51 74h1v1h-1zM55 74h2v1h-2zM22 75h1v1h-1zM36 75h1v1h-1zM39 75h1v1h-1zM45 75h1v1h-1zM51 75h1v1h-1zM55 75h1v1h-1zM60 75h1v1h-1zM63 75h1v1h-1zM14 76h1v1h-1zM22 76h1v1h-1zM32 76h1v1h-1zM42 76h1v1h-1zM48 76h1v1h-1zM57 76h1v1h-1zM63 76h1v1h-1zM22 77h1v1h-1zM34 77h1v1h-1zM36 77h2v1h-2zM40 77h2v1h-2zM44 77h1v1h-1zM47 77h2v1h-2zM55 77h1v1h-1zM6 78h1v1h-1zM12 78h1v1h-1zM22 78h1v1h-1zM35 78h2v1h-2zM38 78h2v1h-2zM41 78h1v1h-1zM47 78h1v1h-1zM51 78h1v1h-1zM62 78h1v1h-1zM22 79h1v1h-1zM35 79h1v1h-1zM41 79h3v1h-3zM45 79h3v1h-3zM50 79h1v1h-1zM59 79h1v1h-1zM12 80h1v1h-1zM22 80h1v1h-1zM30 80h1v1h-1zM39 80h1v1h-1zM46 80h1v1h-1zM48 80h1v1h-1zM53 80h2v1h-2zM10 81h1v1h-1zM15 81h1v1h-1zM18 81h1v1h-1zM22 81h1v1h-1zM40 81h2v1h-2zM45 81h2v1h-2zM49 81h1v1h-1zM52 81h2v1h-2zM56 81h2v1h-2zM61 81h2v1h-2zM22 82h1v1h-1zM41 82h1v1h-1zM43 82h1v1h-1zM47 82h1v1h-1zM49 82h1v1h-1zM52 82h1v1h-1zM58 82h1v1h-1zM60 82h1v1h-1zM62 82h1v1h-1zM12 83h1v1h-1zM17 83h1v1h-1zM22 83h1v1h-1zM28 83h1v1h-1zM47 83h2v1h-2zM55 83h1v1h-1zM57 83h1v1h-1zM61 83h2v1h-2zM21 84h2v1h-2zM38 84h1v1h-1zM42 84h1v1h-1zM46 84h4v1h-4zM22 85h1v1h-1zM35 85h1v1h-1zM42 85h1v1h-1zM44 85h1v1h-1zM46 85h1v1h-1zM49 85h2v1h-2zM60 85h1v1h-1zM63 85h1v1h-1zM8 86h1v1h-1zM22 86h1v1h-1zM35 86h1v1h-1zM37 86h1v1h-1zM39 86h3v1h-3zM46 86h1v1h-1zM54 86h1v1h-1zM56 86h1v1h-1zM62 86h2v1h-2zM22 87h2v1h-2zM38 87h1v1h-1zM41 87h1v1h-1zM44 87h1v1h-1zM46 87h2v1h-2zM49 87h1v1h-1zM52 87h1v1h-1zM55 87h2v1h-2zM22 88h1v1h-1zM40 88h1v1h-1zM46 88h1v1h-1zM52 88h1v1h-1zM60 88h2v1h-2zM13 89h1v1h-1zM22 89h1v1h-1zM29 89h1v1h-1zM35 89h1v1h-1zM37 89h1v1h-1zM42 89h1v1h-1zM44 89h1v1h-1zM47 89h1v1h-1zM49 89h1v1h-1zM59 89h1v1h-1zM63 89h1v1h-1zM22 90h1v1h-1zM36 90h2v1h-2zM41 90h1v1h-1zM45 90h2v1h-2zM60 90h1v1h-1zM62 90h1v1h-1zM24 91h1v1h-1zM41 91h1v1h-1zM43 91h1v1h-1zM47 91h1v1h-1zM49 91h1v1h-1zM57 91h1v1h-1zM60 91h1v1h-1zM1 92h1v1h-1zM45 92h1v1h-1zM60 92h2v1h-2zM18 93h1v1h-1zM34 93h1v1h-1zM44 93h1v1h-1zM50 93h1v1h-1zM61 93h1v1h-1zM63 93h1v1h-1zM24 94h1v1h-1zM35 94h1v1h-1zM38 94h1v1h-1zM47 94h1v1h-1zM53 94h2v1h-2zM57 94h1v1h-1zM59 94h2v1h-2zM63 94h1v1h-1zM38 95h1v1h-1zM43 95h1v1h-1zM47 95h1v1h-1zM53 95h1v1h-1zM58 95h2v1h-2zM61 95h1v1h-1zM39 96h1v1h-1zM43 96h1v1h-1zM52 96h1v1h-1zM54 96h1v1h-1zM56 96h1v1h-1zM58 96h1v1h-1zM46 97h2v1h-2zM50 97h1v1h-1zM52 97h2v1h-2zM56 97h1v1h-1zM59 97h2v1h-2zM1 98h1v1h-1zM20 98h1v1h-1zM27 98h1v1h-1zM34 98h1v1h-1zM38 98h3v1h-3zM44 98h1v1h-1zM47 98h1v1h-1zM53 98h1v1h-1zM43 99h1v1h-1zM45 99h1v1h-1zM50 99h1v1h-1zM53 99h1v1h-1zM63 99h1v1h-1zM34 100h1v1h-1zM43 100h1v1h-1zM45 100h1v1h-1zM58 100h1v1h-1zM0 101h1v1h-1zM3 101h1v1h-1zM34 101h1v1h-1zM36 101h1v1h-1zM39 101h1v1h-1zM41 101h1v1h-1zM59 101h1v1h-1zM62 101h2v1h-2zM46 102h1v1h-1zM52 102h1v1h-1zM61 102h1v1h-1zM25 103h1v1h-1zM34 103h1v1h-1zM39 103h1v1h-1zM44 103h1v1h-1zM56 103h2v1h-2zM1 104h1v1h-1zM17 104h1v1h-1zM39 104h2v1h-2zM44 104h1v1h-1zM49 104h1v1h-1zM55 104h1v1h-1zM62 104h1v1h-1zM33 105h1v1h-1zM37 105h1v1h-1zM41 105h1v1h-1zM53 105h1v1h-1zM62 105h1v1h-1zM54 106h1v1h-1zM13 107h1v1h-1zM35 107h1v1h-1zM37 107h1v1h-1zM39 107h1v1h-1zM42 107h1v1h-1zM54 107h1v1h-1zM59 107h1v1h-1zM62 107h1v1h-1zM7 108h1v1h-1zM40 108h1v1h-1zM42 108h1v1h-1zM49 108h1v1h-1zM51 108h1v1h-1zM61 108h1v1h-1zM63 108h1v1h-1zM21 109h1v1h-1zM35 109h2v1h-2zM38 109h2v1h-2zM43 109h3v1h-3zM56 109h1v1h-1zM60 109h1v1h-1zM62 109h1v1h-1zM34 110h1v1h-1zM36 110h1v1h-1zM39 110h1v1h-1zM45 110h1v1h-1zM47 110h2v1h-2zM53 110h1v1h-1zM59 110h2v1h-2zM34 111h2v1h-2zM40 111h1v1h-1zM43 111h1v1h-1zM49 111h1v1h-1zM51 111h2v1h-2zM59 111h1v1h-1zM34 112h2v1h-2zM37 112h1v1h-1zM44 112h2v1h-2zM48 112h1v1h-1zM50 112h1v1h-1zM54 112h2v1h-2zM3 113h1v1h-1zM34 113h1v1h-1zM38 113h1v1h-1zM47 113h1v1h-1zM52 113h2v1h-2zM63 113h1v1h-1zM7 114h1v1h-1zM34 114h2v1h-2zM38 114h2v1h-2zM41 114h1v1h-1zM46 114h2v1h-2zM52 114h1v1h-1zM34 115h1v1h-1zM36 115h1v1h-1zM38 115h1v1h-1zM40 115h1v1h-1zM44 115h2v1h-2zM50 115h1v1h-1zM52 115h1v1h-1zM56 115h1v1h-1zM39 116h1v1h-1zM44 116h1v1h-1zM50 116h1v1h-1zM53 116h1v1h-1zM55 116h1v1h-1zM4 117h1v1h-1zM13 117h1v1h-1zM36 117h4v1h-4zM43 117h1v1h-1zM45 117h1v1h-1zM52 117h2v1h-2zM5 118h1v1h-1zM7 118h1v1h-1zM14 118h1v1h-1zM16 118h1v1h-1zM18 118h1v1h-1zM21 118h1v1h-1zM23 118h1v1h-1zM29 118h2v1h-2zM32 118h1v1h-1zM48 118h1v1h-1zM2 119h1v1h-1zM14 119h1v1h-1zM17 119h1v1h-1zM20 119h1v1h-1zM23 119h2v1h-2zM26 119h1v1h-1zM31 119h1v1h-1zM3 120h3v1h-3zM9 120h1v1h-1zM11 120h1v1h-1zM25 120h1v1h-1zM33 120h1v1h-1zM43 120h1v1h-1zM46 120h1v1h-1zM62 120h1v1h-1zM5 121h1v1h-1zM9 121h1v1h-1zM11 121h3v1h-3zM20 121h1v1h-1zM10 122h1v1h-1zM13 122h1v1h-1zM19 122h3v1h-3zM26 122h3v1h-3zM59 122h1v1h-1zM11 123h1v1h-1zM15 123h1v1h-1zM23 123h2v1h-2zM33 123h1v1h-1zM39 123h1v1h-1zM0 124h1v1h-1zM7 124h1v1h-1zM10 124h1v1h-1zM12 124h4v1h-4zM19 124h1v1h-1zM33 124h1v1h-1zM63 124h1v1h-1zM1 125h2v1h-2zM6 125h1v1h-1zM9 125h1v1h-1zM12 125h1v1h-1zM16 125h1v1h-1zM20 125h2v1h-2zM27 125h1v1h-1zM3 126h2v1h-2zM9 126h2v1h-2zM16 126h1v1h-1zM24 126h1v1h-1zM27 126h1v1h-1zM61 126h1v1h-1zM5 127h1v1h-1zM11 127h1v1h-1zM13 127h2v1h-2zM18 127h1v1h-1zM23 127h1v1h-1zM25 127h2v1h-2zM28 127h1v1h-1zM30 127h4v1h-4zM61 127h1v1h-1zM1 128h1v1h-1zM5 128h1v1h-1zM9 128h1v1h-1zM13 128h3v1h-3zM18 128h1v1h-1zM22 128h2v1h-2zM25 128h2v1h-2zM29 128h1v1h-1zM32 128h1v1h-1zM2 129h2v1h-2zM6 129h1v1h-1zM8 129h2v1h-2zM13 129h3v1h-3zM21 129h2v1h-2zM25 129h3v1h-3zM11 130h1v1h-1zM13 130h1v1h-1zM17 130h1v1h-1zM19 130h1v1h-1zM22 130h1v1h-1zM30 130h1v1h-1zM55 130h1v1h-1zM1 131h1v1h-1zM4 131h1v1h-1zM6 131h1v1h-1zM9 131h1v1h-1zM12 131h1v1h-1zM16 131h1v1h-1zM20 131h1v1h-1zM24 131h2v1h-2zM28 131h1v1h-1zM30 131h2v1h-2zM33 131h1v1h-1zM4 132h3v1h-3zM11 132h1v1h-1zM15 132h1v1h-1zM17 132h1v1h-1zM19 132h2v1h-2zM28 132h1v1h-1zM34 132h1v1h-1zM41 132h1v1h-1zM63 132h1v1h-1zM2 133h1v1h-1zM7 133h1v1h-1zM12 133h1v1h-1zM14 133h2v1h-2zM17 133h1v1h-1zM22 133h1v1h-1zM24 133h2v1h-2zM27 133h1v1h-1zM33 133h1v1h-1zM4 134h1v1h-1zM6 134h2v1h-2zM9 134h1v1h-1zM14 134h1v1h-1zM17 134h1v1h-1zM22 134h1v1h-1zM25 134h1v1h-1zM28 134h2v1h-2zM0 135h1v1h-1zM4 135h1v1h-1zM9 135h1v1h-1zM21 135h2v1h-2zM25 135h1v1h-1zM28 135h1v1h-1zM30 135h2v1h-2zM51 135h1v1h-1zM63 135h1v1h-1zM2 136h1v1h-1zM11 136h1v1h-1zM14 136h1v1h-1zM21 136h1v1h-1zM26 136h1v1h-1zM30 136h2v1h-2zM35 136h1v1h-1zM1 137h2v1h-2zM6 137h3v1h-3zM13 137h2v1h-2zM16 137h1v1h-1zM20 137h1v1h-1zM24 137h2v1h-2zM28 137h3v1h-3zM57 137h1v1h-1zM60 137h1v1h-1zM5 138h1v1h-1zM8 138h1v1h-1zM10 138h1v1h-1zM13 138h2v1h-2zM16 138h1v1h-1zM28 138h1v1h-1zM33 138h1v1h-1zM37 138h2v1h-2zM48 138h1v1h-1zM2 139h1v1h-1zM4 139h1v1h-1zM6 139h1v1h-1zM11 139h3v1h-3zM24 139h1v1h-1zM51 139h1v1h-1zM12 140h1v1h-1zM23 140h2v1h-2zM28 140h1v1h-1zM30 140h1v1h-1zM32 140h1v1h-1zM0 141h1v1h-1zM2 141h1v1h-1zM6 141h2v1h-2zM13 141h1v1h-1zM19 141h1v1h-1zM29 141h1v1h-1zM32 141h1v1h-1zM34 141h1v1h-1zM0 142h2v1h-2zM4 142h1v1h-1zM9 142h1v1h-1zM18 142h2v1h-2zM27 142h1v1h-1zM33 142h1v1h-1zM38 142h1v1h-1zM5 143h1v1h-1zM8 143h2v1h-2zM11 143h1v1h-1zM13 143h1v1h-1zM15 143h1v1h-1zM18 143h1v1h-1zM23 143h1v1h-1zM30 143h1v1h-1zM33 143h1v1h-1zM35 143h1v1h-1zM51 143h1v1h-1zM12 144h2v1h-2zM18 144h2v1h-2zM23 144h1v1h-1zM30 144h1v1h-1zM32 144h1v1h-1zM5 145h2v1h-2zM9 145h1v1h-1zM12 145h1v1h-1zM22 145h2v1h-2zM3 146h1v1h-1zM7 146h1v1h-1zM9 146h1v1h-1zM23 146h1v1h-1zM29 146h1v1h-1zM2 147h1v1h-1zM4 147h1v1h-1zM11 147h2v1h-2zM24 147h2v1h-2zM29 147h1v1h-1zM31 147h1v1h-1zM52 147h1v1h-1zM1 148h2v1h-2zM5 148h2v1h-2zM9 148h1v1h-1zM18 148h1v1h-1zM21 148h1v1h-1zM36 148h1v1h-1zM1 149h4v1h-4zM9 149h1v1h-1zM13 149h1v1h-1zM20 149h1v1h-1zM29 149h1v1h-1zM32 149h1v1h-1zM1 150h1v1h-1zM7 150h4v1h-4zM16 150h1v1h-1zM18 150h1v1h-1zM21 150h3v1h-3zM26 150h1v1h-1zM28 150h1v1h-1zM3 151h3v1h-3zM9 151h1v1h-1zM12 151h1v1h-1zM26 151h1v1h-1zM32 151h1v1h-1zM8 152h1v1h-1zM17 152h1v1h-1zM30 152h1v1h-1zM49 152h1v1h-1zM0 153h1v1h-1zM3 153h2v1h-2zM6 153h1v1h-1zM15 153h2v1h-2zM19 153h1v1h-1zM23 153h2v1h-2zM26 153h1v1h-1zM1 154h1v1h-1zM5 154h2v1h-2zM12 154h1v1h-1zM14 154h1v1h-1zM1 155h1v1h-1zM6 155h1v1h-1zM9 155h1v1h-1zM16 155h1v1h-1zM18 155h1v1h-1zM22 155h2v1h-2zM25 155h4v1h-4zM30 155h1v1h-1zM32 155h2v1h-2zM44 155h1v1h-1zM32 156h1v1h-1zM39 156h1v1h-1zM6 157h1v1h-1zM11 157h1v1h-1zM14 157h1v1h-1zM16 157h2v1h-2zM20 157h1v1h-1zM25 157h2v1h-2zM28 157h1v1h-1zM30 157h1v1h-1zM1 158h1v1h-1zM6 158h3v1h-3zM18 158h1v1h-1zM20 158h1v1h-1zM23 158h1v1h-1zM27 158h3v1h-3zM31 158h1v1h-1zM39 158h1v1h-1zM41 158h1v1h-1zM21 159h1v1h-1zM25 159h1v1h-1zM30 159h2v1h-2zM6 160h1v1h-1zM8 160h1v1h-1zM13 161h1v1h-1zM28 161h1v1h-1zM33 161h1v1h-1zM40 161h1v1h-1zM0 162h1v1h-1zM2 162h1v1h-1zM13 162h1v1h-1zM23 162h1v1h-1zM27 162h1v1h-1zM29 162h1v1h-1zM33 162h1v1h-1zM38 162h1v1h-1zM62 162h1v1h-1zM6 163h1v1h-1zM12 163h1v1h-1zM18 163h1v1h-1zM29 163h2v1h-2zM32 163h1v1h-1zM1 164h1v1h-1zM7 164h1v1h-1zM18 164h1v1h-1zM22 164h1v1h-1zM24 164h1v1h-1zM27 164h1v1h-1zM29 164h2v1h-2zM1 165h1v1h-1zM9 165h1v1h-1zM22 165h1v1h-1zM28 165h1v1h-1zM32 165h1v1h-1zM50 165h1v1h-1zM0 166h1v1h-1zM4 166h2v1h-2zM11 166h1v1h-1zM16 166h1v1h-1zM20 166h1v1h-1zM23 166h1v1h-1zM25 166h1v1h-1zM27 166h1v1h-1zM48 166h1v1h-1zM0 167h2v1h-2zM31 167h1v1h-1zM41 167h1v1h-1zM2 168h1v1h-1zM12 168h3v1h-3zM18 168h3v1h-3zM23 168h1v1h-1zM29 168h1v1h-1zM57 168h1v1h-1zM5 169h1v1h-1zM11 169h1v1h-1zM21 169h1v1h-1zM23 169h2v1h-2zM31 169h2v1h-2zM0 170h1v1h-1zM10 170h1v1h-1zM16 170h1v1h-1zM18 170h1v1h-1zM21 170h1v1h-1zM3 171h1v1h-1zM5 171h1v1h-1zM7 171h2v1h-2zM18 171h1v1h-1zM20 171h1v1h-1zM22 171h1v1h-1zM26 171h1v1h-1zM32 171h1v1h-1zM3 172h1v1h-1zM12 172h2v1h-2zM32 172h1v1h-1zM54 172h1v1h-1zM0 173h2v1h-2zM4 173h1v1h-1zM16 173h1v1h-1zM20 173h2v1h-2zM25 173h1v1h-1zM29 173h2v1h-2zM3 174h1v1h-1zM19 174h1v1h-1zM23 174h1v1h-1zM25 174h1v1h-1zM31 174h1v1h-1zM33 174h1v1h-1zM9 175h1v1h-1zM13 175h1v1h-1zM16 175h2v1h-2zM22 175h1v1h-1zM24 175h1v1h-1zM31 175h2v1h-2zM2 176h1v1h-1zM9 176h2v1h-2zM13 176h1v1h-1zM16 176h1v1h-1zM24 176h1v1h-1zM27 176h2v1h-2zM31 176h2v1h-2zM46 176h1v1h-1zM61 176h1v1h-1zM0 177h1v1h-1zM8 177h2v1h-2zM13 177h1v1h-1zM17 177h1v1h-1zM27 177h2v1h-2zM32 177h1v1h-1zM45 177h1v1h-1zM57 177h1v1h-1zM10 178h2v1h-2zM14 178h1v1h-1zM19 178h1v1h-1zM22 178h1v1h-1zM25 178h2v1h-2zM28 178h2v1h-2zM33 178h1v1h-1zM0 179h1v1h-1zM4 179h1v1h-1zM13 179h1v1h-1zM15 179h1v1h-1zM23 179h1v1h-1zM25 179h2v1h-2zM29 179h1v1h-1zM33 179h1v1h-1zM1 180h1v1h-1zM4 180h1v1h-1zM12 180h1v1h-1zM23 180h1v1h-1zM27 180h1v1h-1zM39 180h1v1h-1zM63 180h1v1h-1zM0 181h1v1h-1zM19 181h1v1h-1zM24 181h1v1h-1zM29 181h3v1h-3zM62 181h1v1h-1zM4 182h1v1h-1zM8 182h2v1h-2zM12 182h1v1h-1zM17 182h1v1h-1zM19 182h2v1h-2zM23 182h1v1h-1zM31 182h1v1h-1zM57 182h1v1h-1zM0 183h1v1h-1zM5 183h1v1h-1zM10 183h1v1h-1zM12 183h1v1h-1zM16 183h1v1h-1zM21 183h1v1h-1zM24 183h1v1h-1zM29 183h1v1h-1zM33 183h1v1h-1zM2 184h1v1h-1zM8 184h1v1h-1zM11 184h1v1h-1zM13 184h1v1h-1zM18 184h2v1h-2zM23 184h1v1h-1zM26 184h1v1h-1zM28 184h1v1h-1zM30 184h2v1h-2zM2 185h2v1h-2zM7 185h1v1h-1zM13 185h1v1h-1zM21 185h1v1h-1zM25 185h1v1h-1zM33 185h1v1h-1zM1 186h3v1h-3zM7 186h1v1h-1zM9 186h1v1h-1zM13 186h1v1h-1zM19 186h1v1h-1zM21 186h1v1h-1zM25 186h1v1h-1zM27 186h1v1h-1zM30 186h1v1h-1zM63 186h1v1h-1zM0 187h1v1h-1zM4 187h1v1h-1zM7 187h2v1h-2zM10 187h2v1h-2zM18 187h1v1h-1zM22 187h1v1h-1zM27 187h1v1h-1zM29 187h1v1h-1zM2 188h2v1h-2zM8 188h1v1h-1zM10 188h1v1h-1zM13 188h1v1h-1zM22 188h1v1h-1zM25 188h1v1h-1zM29 188h1v1h-1zM33 188h1v1h-1zM0 189h1v1h-1zM6 189h1v1h-1zM9 189h1v1h-1zM11 189h2v1h-2zM20 189h1v1h-1zM28 189h1v1h-1zM30 189h3v1h-3zM3 190h1v1h-1zM5 190h1v1h-1zM7 190h1v1h-1zM9 190h1v1h-1zM19 190h3v1h-3zM26 190h1v1h-1zM31 190h1v1h-1zM6 191h1v1h-1zM10 191h1v1h-1zM19 191h1v1h-1zM24 191h1v1h-1zM29 191h1v1h-1zM46 191h1v1h-1zM13 192h2v1h-2zM16 192h1v1h-1zM18 192h1v1h-1zM33 192h1v1h-1zM41 192h1v1h-1zM56 192h1v1h-1zM4 193h1v1h-1zM6 193h2v1h-2zM20 193h1v1h-1zM29 193h1v1h-1zM32 193h1v1h-1zM45 193h1v1h-1zM20 194h1v1h-1zM23 194h2v1h-2zM26 194h1v1h-1zM32 194h1v1h-1zM35 194h1v1h-1zM0 195h1v1h-1zM10 195h1v1h-1zM12 195h2v1h-2zM18 195h1v1h-1zM20 195h1v1h-1zM28 195h1v1h-1zM44 195h1v1h-1zM0 196h1v1h-1zM6 196h1v1h-1zM10 196h1v1h-1zM12 196h1v1h-1zM16 196h1v1h-1zM20 196h1v1h-1zM22 196h1v1h-1zM26 196h1v1h-1zM3 197h2v1h-2zM13 197h3v1h-3zM27 197h1v1h-1zM32 197h1v1h-1zM44 197h1v1h-1zM0 198h1v1h-1zM2 198h3v1h-3zM6 198h1v1h-1zM9 198h1v1h-1zM11 198h1v1h-1zM18 198h1v1h-1zM20 198h2v1h-2zM23 198h1v1h-1zM26 198h1v1h-1zM30 198h1v1h-1zM4 199h1v1h-1zM9 199h1v1h-1zM15 199h1v1h-1zM18 199h1v1h-1zM25 199h1v1h-1zM27 199h1v1h-1zM32 199h1v1h-1zM59 199h1v1h-1zM0 200h1v1h-1zM14 200h2v1h-2zM22 200h1v1h-1zM4 201h1v1h-1zM6 201h2v1h-2zM13 201h1v1h-1zM16 201h2v1h-2zM22 201h1v1h-1zM29 201h2v1h-2zM33 201h1v1h-1zM1 202h2v1h-2zM6 202h1v1h-1zM11 202h1v1h-1zM16 202h2v1h-2zM21 202h1v1h-1zM24 202h1v1h-1zM27 202h1v1h-1zM30 202h1v1h-1zM61 202h1v1h-1zM1 203h1v1h-1zM4 203h1v1h-1zM12 203h2v1h-2zM15 203h2v1h-2zM19 203h1v1h-1zM25 203h2v1h-2zM15 204h1v1h-1zM18 204h1v1h-1zM22 204h2v1h-2zM25 204h1v1h-1zM30 204h1v1h-1zM49 204h1v1h-1zM0 205h2v1h-2zM12 205h1v1h-1zM16 205h1v1h-1zM25 205h1v1h-1zM27 205h1v1h-1zM10 206h1v1h-1zM12 206h1v1h-1zM17 206h1v1h-1zM23 206h1v1h-1zM26 206h1v1h-1zM28 206h2v1h-2zM31 206h1v1h-1zM3 207h1v1h-1zM13 207h1v1h-1zM20 207h3v1h-3zM30 207h1v1h-1zM3 208h1v1h-1zM5 208h1v1h-1zM7 208h2v1h-2zM12 208h1v1h-1zM16 208h3v1h-3zM21 208h1v1h-1zM23 208h1v1h-1zM30 208h1v1h-1zM48 208h1v1h-1zM1 209h1v1h-1zM5 209h1v1h-1zM10 209h1v1h-1zM16 209h1v1h-1zM20 209h1v1h-1zM26 209h2v1h-2zM30 209h1v1h-1zM0 210h1v1h-1zM2 210h1v1h-1zM9 210h3v1h-3zM22 210h1v1h-1z"/>
<path fill="#fff4f4" d="M37 0h1v1h-1zM42 0h1v1h-1zM53 0h1v1h-1zM35 1h1v1h-1zM39 1h1v1h-1zM54 1h1v1h-1zM43 2h1v1h-1zM48 2h1v1h-1zM56 2h1v1h-1zM61 2h1v1h-1zM41 3h2v1h-2zM44 3h1v1h-1zM50 3h1v1h-1zM56 3h2v1h-2zM35 4h1v1h-1zM37 4h1v1h-1zM39 4h1v1h-1zM59 4h2v1h-2zM36 5h1v1h-1zM38 5h2v1h-2zM48 5h1v1h-1zM63 5h1v1h-1zM47 6h1v1h-1zM58 6h1v1h-1zM42 7h1v1h-1zM44 7h1v1h-1zM61 7h1v1h-1zM38 8h2v1h-2zM52 9h1v1h-1zM42 10h1v1h-1zM56 10h1v1h-1zM61 10h1v1h-1zM34 11h1v1h-1zM43 11h1v1h-1zM55 11h1v1h-1zM57 11h1v1h-1zM41 12h1v1h-1zM43 12h1v1h-1zM46 12h1v1h-1zM60 13h1v1h-1zM34 14h1v1h-1zM50 14h2v1h-2zM57 14h2v1h-2zM36 15h1v1h-1zM43 15h1v1h-1zM45 15h1v1h-1zM49 15h1v1h-1zM58 15h1v1h-1zM37 16h1v1h-1zM49 16h1v1h-1zM51 16h1v1h-1zM56 16h1v1h-1zM58 16h1v1h-1zM62 16h1v1h-1zM37 17h2v1h-2zM60 17h1v1h-1zM40 19h1v1h-1zM44 19h1v1h-1zM47 19h1v1h-1zM47 20h1v1h-1zM55 20h1v1h-1zM59 20h1v1h-1zM63 20h1v1h-1zM63 22h1v1h-1zM38 23h1v1h-1zM43 23h1v1h-1zM38 24h2v1h-2zM55 24h1v1h-1zM57 24h1v1h-1zM40 25h1v1h-1zM53 25h1v1h-1zM61 25h1v1h-1zM55 26h1v1h-1zM59 26h1v1h-1zM61 26h1v1h-1zM63 26h1v1h-1zM46 27h1v1h-1zM61 27h1v1h-1zM44 28h1v1h-1zM56 28h1v1h-1zM61 28h1v1h-1zM55 29h2v1h-2zM44 30h2v1h-2zM47 30h1v1h-1zM49 30h1v1h-1zM62 30h2v1h-2zM40 31h1v1h-1zM43 31h1v1h-1zM55 31h1v1h-1zM56 32h1v1h-1zM39 33h1v1h-1zM44 33h1v1h-1zM50 33h1v1h-1zM53 33h1v1h-1zM40 34h1v1h-1zM43 34h1v1h-1zM39 35h1v1h-1zM47 36h1v1h-1zM55 36h3v1h-3zM39 37h2v1h-2zM55 37h1v1h-1zM34 38h1v1h-1zM37 38h1v1h-1zM39 38h2v1h-2zM45 38h1v1h-1zM48 38h1v1h-1zM51 38h1v1h-1zM55 38h1v1h-1zM58 38h1v1h-1zM41 39h1v1h-1zM48 39h1v1h-1zM51 39h1v1h-1zM59 39h1v1h-1zM36 40h1v1h-1zM62 40h1v1h-1zM36 41h2v1h-2zM39 41h1v1h-1zM36 42h1v1h-1zM39 42h1v1h-1zM46 42h1v1h-1zM49 42h1v1h-1zM39 43h1v1h-1zM41 43h1v1h-1zM42 44h1v1h-1zM44 44h1v1h-1zM58 44h1v1h-1zM34 45h1v1h-1zM39 45h1v1h-1zM42 45h1v1h-1zM42 47h1v1h-1zM35 48h1v1h-1zM38 48h1v1h-1zM50 48h1v1h-1zM53 48h2v1h-2zM38 49h1v1h-1zM40 49h1v1h-1zM56 49h1v1h-1zM63 49h1v1h-1zM39 50h1v1h-1zM41 50h1v1h-1zM56 50h1v1h-1zM34 51h1v1h-1zM43 51h2v1h-2zM54 51h1v1h-1zM56 51h1v1h-1zM58 51h1v1h-1zM62 51h1v1h-1zM43 52h1v1h-1zM46 53h1v1h-1zM50 53h1v1h-1zM43 54h1v1h-1zM46 54h1v1h-1zM49 54h1v1h-1zM34 55h1v1h-1zM43 55h1v1h-1zM47 56h1v1h-1zM37 57h1v1h-1zM40 57h1v1h-1zM45 57h1v1h-1zM53 57h2v1h-2zM35 58h1v1h-1zM37 58h1v1h-1zM44 58h1v1h-1zM36 59h1v1h-1zM40 59h1v1h-1zM55 60h1v1h-1zM60 60h1v1h-1zM44 61h1v1h-1zM48 61h1v1h-1zM37 62h1v1h-1zM63 62h1v1h-1zM40 63h2v1h-2zM63 63h1v1h-1zM48 64h1v1h-1zM63 64h1v1h-1zM41 65h1v1h-1zM52 65h2v1h-2zM57 65h1v1h-1zM45 66h1v1h-1zM51 66h1v1h-1zM36 67h1v1h-1zM54 67h1v1h-1zM34 68h1v1h-1zM61 68h1v1h-1zM34 69h1v1h-1zM37 69h1v1h-1zM40 69h1v1h-1zM39 70h1v1h-1zM61 70h1v1h-1zM44 72h1v1h-1zM41 73h1v1h-1zM45 73h1v1h-1zM56 73h1v1h-1zM52 74h1v1h-1zM59 74h1v1h-1zM40 76h1v1h-1zM50 76h1v1h-1zM56 76h1v1h-1zM59 76h1v1h-1zM49 77h1v1h-1zM37 78h1v1h-1zM49 78h1v1h-1zM53 78h1v1h-1zM56 78h1v1h-1zM61 78h1v1h-1zM63 78h1v1h-1zM52 79h1v1h-1zM54 79h1v1h-1zM57 79h1v1h-1zM63 79h1v1h-1zM34 80h1v1h-1zM62 80h2v1h-2zM39 81h1v1h-1zM58 81h1v1h-1zM63 81h1v1h-1zM39 82h1v1h-1zM57 82h1v1h-1zM39 83h1v1h-1zM56 83h1v1h-1zM35 84h1v1h-1zM45 84h1v1h-1zM52 84h1v1h-1zM61 84h2v1h-2zM54 85h1v1h-1zM44 86h1v1h-1zM47 86h1v1h-1zM51 86h1v1h-1zM57 86h1v1h-1zM37 87h1v1h-1zM58 87h1v1h-1zM38 88h1v1h-1zM42 88h1v1h-1zM55 88h1v1h-1zM50 89h1v1h-1zM58 90h1v1h-1zM61 90h1v1h-1zM36 91h1v1h-1zM39 91h1v1h-1zM58 91h1v1h-1zM61 91h1v1h-1zM54 92h1v1h-1zM57 92h1v1h-1zM41 93h1v1h-1zM58 93h1v1h-1zM34 94h1v1h-1zM40 94h1v1h-1zM61 94h1v1h-1zM44 95h1v1h-1zM52 95h1v1h-1zM57 95h1v1h-1zM62 95h1v1h-1zM36 96h1v1h-1zM38 96h1v1h-1zM41 96h1v1h-1zM53 96h1v1h-1zM38 97h2v1h-2zM49 97h1v1h-1zM48 98h1v1h-1zM59 98h1v1h-1zM63 98h1v1h-1zM38 99h1v1h-1zM47 99h1v1h-1zM55 99h1v1h-1zM59 99h1v1h-1zM61 99h1v1h-1zM40 100h2v1h-2zM59 100h1v1h-1zM62 100h2v1h-2zM43 101h1v1h-1zM56 101h1v1h-1zM61 101h1v1h-1zM39 102h1v1h-1zM60 102h1v1h-1zM60 103h1v1h-1zM62 103h1v1h-1zM43 104h1v1h-1zM46 104h1v1h-1zM58 104h1v1h-1zM61 104h1v1h-1zM39 105h1v1h-1zM52 105h1v1h-1zM60 105h1v1h-1zM36 106h1v1h-1zM45 106h1v1h-1zM48 107h1v1h-1zM51 107h1v1h-1zM39 108h1v1h-1zM41 109h1v1h-1zM46 109h1v1h-1zM63 109h1v1h-1zM48 111h1v1h-1zM61 111h1v1h-1zM63 111h1v1h-1zM41 112h1v1h-1zM63 112h1v1h-1zM37 113h1v1h-1zM45 113h1v1h-1zM54 113h2v1h-2zM54 114h1v1h-1zM59 114h1v1h-1zM41 115h1v1h-1zM43 115h1v1h-1zM46 115h1v1h-1zM37 116h1v1h-1zM5 117h1v1h-1zM6 118h1v1h-1zM8 118h1v1h-1zM5 119h1v1h-1zM12 119h1v1h-1zM33 119h1v1h-1zM0 120h2v1h-2zM21 120h3v1h-3zM18 121h1v1h-1zM25 121h1v1h-1zM29 121h1v1h-1zM5 122h1v1h-1zM0 123h1v1h-1zM1 124h1v1h-1zM4 124h1v1h-1zM20 124h1v1h-1zM7 125h1v1h-1zM13 125h1v1h-1zM29 125h1v1h-1zM32 125h1v1h-1zM25 126h1v1h-1zM0 127h1v1h-1zM2 127h1v1h-1zM6 127h3v1h-3zM12 127h1v1h-1zM19 127h1v1h-1zM11 128h1v1h-1zM21 128h1v1h-1zM27 128h1v1h-1zM16 129h1v1h-1zM28 129h1v1h-1zM16 130h1v1h-1zM21 130h1v1h-1zM29 130h1v1h-1zM0 132h1v1h-1zM13 132h1v1h-1zM9 133h1v1h-1zM18 134h1v1h-1zM23 134h1v1h-1zM1 136h1v1h-1zM17 136h1v1h-1zM29 136h1v1h-1zM4 137h1v1h-1zM17 137h1v1h-1zM29 138h1v1h-1zM8 139h1v1h-1zM15 139h1v1h-1zM23 139h1v1h-1zM0 140h1v1h-1zM5 140h1v1h-1zM11 140h1v1h-1zM33 140h1v1h-1zM1 141h1v1h-1zM24 141h1v1h-1zM16 142h1v1h-1zM25 142h1v1h-1zM31 142h1v1h-1zM27 143h1v1h-1zM1 144h1v1h-1zM4 144h3v1h-3zM0 145h1v1h-1zM11 145h1v1h-1zM13 145h1v1h-1zM31 145h1v1h-1zM10 146h1v1h-1zM30 146h1v1h-1zM1 147h1v1h-1zM5 147h1v1h-1zM10 147h1v1h-1zM10 148h1v1h-1zM22 148h1v1h-1zM30 148h1v1h-1zM6 149h1v1h-1zM0 151h1v1h-1zM22 151h1v1h-1zM7 152h1v1h-1zM10 152h1v1h-1zM14 152h2v1h-2zM24 152h1v1h-1zM18 153h1v1h-1zM7 154h1v1h-1zM11 154h1v1h-1zM15 154h1v1h-1zM23 154h1v1h-1zM8 155h1v1h-1zM13 155h1v1h-1zM31 155h1v1h-1zM9 156h1v1h-1zM13 156h1v1h-1zM17 156h1v1h-1zM31 156h1v1h-1zM8 157h1v1h-1zM23 157h2v1h-2zM3 158h2v1h-2zM44 158h1v1h-1zM8 159h1v1h-1zM10 159h1v1h-1zM12 159h1v1h-1zM16 159h1v1h-1zM18 159h1v1h-1zM20 159h1v1h-1zM22 159h1v1h-1zM28 159h2v1h-2zM0 160h2v1h-2zM14 160h1v1h-1zM19 160h1v1h-1zM21 160h2v1h-2zM29 160h1v1h-1zM33 160h1v1h-1zM21 161h1v1h-1zM19 162h1v1h-1zM25 162h1v1h-1zM32 162h1v1h-1zM4 163h1v1h-1zM25 163h1v1h-1zM5 164h1v1h-1zM9 164h1v1h-1zM21 164h1v1h-1zM4 165h1v1h-1zM8 165h1v1h-1zM16 165h1v1h-1zM20 165h1v1h-1zM22 166h1v1h-1zM24 166h1v1h-1zM11 167h1v1h-1zM1 168h1v1h-1zM5 168h1v1h-1zM11 168h1v1h-1zM27 168h1v1h-1zM2 170h1v1h-1zM6 170h1v1h-1zM24 170h1v1h-1zM27 170h1v1h-1zM29 170h2v1h-2zM24 171h1v1h-1zM27 171h1v1h-1zM0 172h1v1h-1zM4 172h2v1h-2zM16 172h1v1h-1zM18 172h1v1h-1zM20 172h1v1h-1zM18 174h1v1h-1zM21 174h1v1h-1zM27 174h1v1h-1zM29 174h1v1h-1zM2 175h1v1h-1zM5 176h1v1h-1zM11 176h1v1h-1zM19 176h1v1h-1zM2 177h1v1h-1zM10 177h1v1h-1zM12 177h1v1h-1zM18 177h1v1h-1zM22 177h2v1h-2zM31 177h1v1h-1zM23 178h1v1h-1zM1 179h1v1h-1zM5 179h1v1h-1zM9 179h1v1h-1zM14 180h2v1h-2zM21 180h1v1h-1zM31 180h2v1h-2zM1 181h2v1h-2zM21 181h1v1h-1zM25 181h1v1h-1zM6 182h1v1h-1zM26 182h1v1h-1zM1 183h1v1h-1zM20 184h1v1h-1zM25 184h1v1h-1zM14 185h1v1h-1zM22 186h1v1h-1zM33 186h1v1h-1zM21 187h1v1h-1zM28 188h1v1h-1zM3 189h1v1h-1zM14 189h1v1h-1zM21 189h1v1h-1zM8 190h1v1h-1zM23 190h1v1h-1zM25 190h1v1h-1zM20 191h2v1h-2zM5 192h1v1h-1zM7 192h1v1h-1zM10 192h1v1h-1zM17 192h1v1h-1zM19 192h1v1h-1zM21 192h2v1h-2zM27 192h1v1h-1zM30 192h1v1h-1zM32 192h1v1h-1zM14 193h1v1h-1zM22 193h1v1h-1zM25 193h1v1h-1zM4 194h1v1h-1zM18 194h1v1h-1zM27 194h2v1h-2zM16 195h1v1h-1zM22 195h1v1h-1zM1 197h1v1h-1zM6 197h1v1h-1zM17 197h2v1h-2zM25 197h1v1h-1zM28 197h1v1h-1zM33 197h1v1h-1zM15 198h1v1h-1zM17 198h1v1h-1zM12 199h1v1h-1zM21 199h1v1h-1zM28 199h1v1h-1zM3 200h1v1h-1zM13 200h1v1h-1zM17 200h2v1h-2zM23 200h1v1h-1zM26 200h1v1h-1zM30 200h1v1h-1zM2 201h1v1h-1zM24 201h1v1h-1zM13 202h1v1h-1zM26 202h1v1h-1zM7 203h1v1h-1zM10 203h1v1h-1zM28 203h2v1h-2zM31 203h1v1h-1zM6 204h1v1h-1zM9 204h1v1h-1zM4 205h2v1h-2zM13 205h1v1h-1zM20 205h1v1h-1zM29 205h1v1h-1zM1 206h1v1h-1zM11 206h1v1h-1zM5 207h1v1h-1zM7 207h1v1h-1zM9 207h2v1h-2zM25 207h1v1h-1zM0 208h1v1h-1zM4 208h1v1h-1zM27 208h1v1h-1zM33 208h1v1h-1zM9 209h1v1h-1zM15 209h1v1h-1zM17 209h3v1h-3zM7 210h1v1h-1zM12 210h2v1h-2zM18 210h1v1h-1zM33 210h1v1h-1z"/>
<path fill="#ffeaea" d="M35 2h1v1h-1zM60 2h1v1h-1zM54 3h1v1h-1zM44 6h1v1h-1zM48 6h1v1h-1zM50 6h1v1h-1zM52 7h1v1h-1zM51 9h1v1h-1zM38 10h1v1h-1zM63 10h1v1h-1zM48 11h1v1h-1zM36 12h1v1h-1zM40 12h1v1h-1zM36 13h1v1h-1zM41 13h1v1h-1zM39 15h1v1h-1zM42 16h1v1h-1zM63 16h1v1h-1zM40 17h1v1h-1zM56 17h1v1h-1zM46 18h1v1h-1zM52 18h1v1h-1zM57 18h1v1h-1zM45 19h1v1h-1zM60 20h1v1h-1zM62 21h1v1h-1zM54 22h1v1h-1zM47 24h1v1h-1zM56 24h1v1h-1zM46 25h1v1h-1zM58 28h1v1h-1zM52 30h1v1h-1zM47 31h1v1h-1zM63 31h1v1h-1zM43 33h1v1h-1zM46 33h1v1h-1zM48 33h1v1h-1zM62 33h1v1h-1zM39 34h1v1h-1zM46 34h1v1h-1zM37 36h1v1h-1zM42 36h1v1h-1zM41 38h1v1h-1zM63 38h1v1h-1zM36 39h1v1h-1zM41 40h1v1h-1zM61 40h1v1h-1zM45 41h1v1h-1zM59 41h1v1h-1zM56 42h1v1h-1zM50 43h1v1h-1zM37 44h1v1h-1zM57 44h1v1h-1zM41 45h1v1h-1zM39 46h1v1h-1zM48 46h1v1h-1zM53 46h1v1h-1zM39 48h1v1h-1zM43 48h1v1h-1zM62 48h1v1h-1zM35 51h1v1h-1zM37 51h1v1h-1zM41 51h1v1h-1zM47 51h1v1h-1zM63 51h1v1h-1zM36 52h1v1h-1zM38 52h1v1h-1zM46 52h1v1h-1zM39 53h1v1h-1zM53 53h1v1h-1zM44 54h1v1h-1zM59 54h1v1h-1zM41 55h1v1h-1zM48 55h1v1h-1zM56 57h1v1h-1zM40 58h2v1h-2zM48 58h1v1h-1zM55 58h1v1h-1zM58 59h1v1h-1zM60 61h2v1h-2zM38 62h1v1h-1zM39 63h1v1h-1zM48 63h1v1h-1zM45 65h1v1h-1zM37 66h1v1h-1zM57 66h1v1h-1zM37 67h1v1h-1zM58 68h1v1h-1zM58 71h1v1h-1zM34 73h1v1h-1zM40 74h1v1h-1zM39 77h1v1h-1zM53 77h1v1h-1zM56 80h1v1h-1zM35 81h1v1h-1zM43 81h1v1h-1zM46 83h1v1h-1zM34 84h1v1h-1zM44 84h1v1h-1zM36 85h1v1h-1zM62 85h1v1h-1zM43 86h1v1h-1zM61 86h1v1h-1zM40 87h1v1h-1zM47 88h1v1h-1zM44 91h1v1h-1zM46 92h1v1h-1zM34 95h1v1h-1zM54 95h1v1h-1zM35 96h1v1h-1zM45 97h1v1h-1zM54 97h1v1h-1zM37 100h1v1h-1zM39 100h1v1h-1zM60 100h1v1h-1zM46 103h1v1h-1zM34 104h1v1h-1zM41 104h1v1h-1zM48 105h1v1h-1zM59 105h1v1h-1zM41 106h1v1h-1zM63 107h1v1h-1zM41 108h1v1h-1zM44 110h1v1h-1zM39 111h1v1h-1zM54 111h2v1h-2zM61 113h1v1h-1zM51 114h1v1h-1zM54 115h1v1h-1zM49 117h1v1h-1zM62 117h1v1h-1zM1 119h1v1h-1zM11 119h1v1h-1zM14 120h1v1h-1zM18 124h1v1h-1zM27 127h1v1h-1zM20 128h1v1h-1zM0 129h1v1h-1zM18 129h1v1h-1zM33 130h1v1h-1zM14 131h1v1h-1zM29 131h1v1h-1zM29 132h1v1h-1zM21 134h1v1h-1zM4 136h1v1h-1zM19 136h1v1h-1zM32 137h1v1h-1zM1 138h1v1h-1zM15 138h1v1h-1zM50 143h1v1h-1zM21 144h1v1h-1zM7 145h2v1h-2zM8 147h1v1h-1zM2 150h1v1h-1zM13 150h1v1h-1zM15 150h1v1h-1zM13 152h1v1h-1zM7 153h1v1h-1zM4 157h1v1h-1zM25 158h1v1h-1zM13 160h1v1h-1zM4 162h1v1h-1zM7 162h1v1h-1zM9 162h1v1h-1zM12 162h1v1h-1zM8 163h1v1h-1zM11 165h1v1h-1zM13 166h1v1h-1zM15 166h1v1h-1zM30 167h1v1h-1zM30 168h1v1h-1zM6 169h1v1h-1zM19 172h1v1h-1zM9 173h1v1h-1zM12 174h1v1h-1zM6 175h1v1h-1zM28 175h1v1h-1zM3 177h1v1h-1zM19 177h1v1h-1zM9 178h1v1h-1zM14 179h1v1h-1zM3 180h1v1h-1zM12 181h1v1h-1zM19 183h1v1h-1zM1 188h1v1h-1zM27 190h1v1h-1zM24 192h1v1h-1zM49 193h1v1h-1zM33 194h1v1h-1zM6 195h1v1h-1zM17 196h1v1h-1zM27 196h1v1h-1zM0 197h1v1h-1zM11 199h1v1h-1zM23 199h1v1h-1zM19 200h1v1h-1zM2 203h1v1h-1zM8 206h1v1h-1zM15 207h1v1h-1zM19 207h1v1h-1zM25 208h1v1h-1zM22 209h1v1h-1z"/>
<path fill="#ffdfdf" d="M33 0h1v1h-1zM59 0h1v1h-1zM62 0h1v1h-1zM53 1h1v1h-1zM61 3h1v1h-1zM20 4h1v1h-1zM36 4h1v1h-1zM52 5h1v1h-1zM43 8h1v1h-1zM55 8h1v1h-1zM41 9h1v1h-1zM55 9h1v1h-1zM58 9h1v1h-1zM37 10h1v1h-1zM58 10h1v1h-1zM36 11h2v1h-2zM44 12h1v1h-1zM48 12h1v1h-1zM53 12h1v1h-1zM44 14h1v1h-1zM41 15h1v1h-1zM48 16h1v1h-1zM60 19h1v1h-1zM39 21h1v1h-1zM43 21h1v1h-1zM4 22h1v1h-1zM35 22h1v1h-1zM62 23h1v1h-1zM39 25h1v1h-1zM37 27h1v1h-1zM0 29h1v1h-1zM34 30h1v1h-1zM46 30h1v1h-1zM51 30h1v1h-1zM57 30h1v1h-1zM62 31h1v1h-1zM46 32h1v1h-1zM55 32h1v1h-1zM59 33h1v1h-1zM38 34h1v1h-1zM47 34h2v1h-2zM47 35h1v1h-1zM35 36h1v1h-1zM45 36h1v1h-1zM63 36h1v1h-1zM38 39h1v1h-1zM29 41h1v1h-1zM40 41h1v1h-1zM37 43h2v1h-2zM51 45h1v1h-1zM37 46h1v1h-1zM37 47h1v1h-1zM39 47h1v1h-1zM41 47h1v1h-1zM51 47h1v1h-1zM53 47h1v1h-1zM61 47h1v1h-1zM47 50h1v1h-1zM63 52h1v1h-1zM37 53h1v1h-1zM34 54h5v1h-5zM35 55h1v1h-1zM38 55h1v1h-1zM47 55h1v1h-1zM34 56h1v1h-1zM36 56h1v1h-1zM47 57h1v1h-1zM52 57h1v1h-1zM41 59h1v1h-1zM58 64h1v1h-1zM55 66h1v1h-1zM61 67h1v1h-1zM35 69h1v1h-1zM40 70h1v1h-1zM20 72h1v1h-1zM37 73h1v1h-1zM60 74h1v1h-1zM6 76h1v1h-1zM39 79h1v1h-1zM50 80h1v1h-1zM63 83h1v1h-1zM10 84h1v1h-1zM37 84h1v1h-1zM36 86h1v1h-1zM41 88h1v1h-1zM59 88h1v1h-1zM61 89h1v1h-1zM44 92h1v1h-1zM48 95h1v1h-1zM47 96h1v1h-1zM60 96h1v1h-1zM63 96h1v1h-1zM34 99h1v1h-1zM40 99h1v1h-1zM46 99h1v1h-1zM52 99h1v1h-1zM42 103h1v1h-1zM3 104h1v1h-1zM45 105h1v1h-1zM44 106h1v1h-1zM48 109h1v1h-1zM47 111h1v1h-1zM50 111h1v1h-1zM56 112h1v1h-1zM39 113h1v1h-1zM51 113h1v1h-1zM44 114h1v1h-1zM62 114h2v1h-2zM46 118h1v1h-1zM22 123h1v1h-1zM24 125h1v1h-1zM6 130h1v1h-1zM9 130h1v1h-1zM27 132h1v1h-1zM8 134h1v1h-1zM11 135h1v1h-1zM33 135h1v1h-1zM4 138h1v1h-1zM30 139h1v1h-1zM1 145h1v1h-1zM24 145h1v1h-1zM2 151h1v1h-1zM2 152h1v1h-1zM5 153h1v1h-1zM36 153h1v1h-1zM9 154h1v1h-1zM11 155h1v1h-1zM7 156h2v1h-2zM9 158h1v1h-1zM24 158h1v1h-1zM13 159h1v1h-1zM4 161h1v1h-1zM13 167h1v1h-1zM3 169h1v1h-1zM7 170h1v1h-1zM12 170h1v1h-1zM31 170h1v1h-1zM12 171h1v1h-1zM19 171h1v1h-1zM6 173h1v1h-1zM13 174h2v1h-2zM20 175h1v1h-1zM25 175h1v1h-1zM56 176h1v1h-1zM4 181h1v1h-1zM13 181h1v1h-1zM21 184h1v1h-1zM11 185h1v1h-1zM18 189h1v1h-1zM29 190h1v1h-1zM12 194h1v1h-1zM1 195h1v1h-1zM14 196h1v1h-1zM1 201h1v1h-1zM20 202h1v1h-1zM23 202h1v1h-1zM37 204h1v1h-1zM6 207h1v1h-1zM13 208h1v1h-1z"/>
<path fill="#ffd4d4" d="M38 0h3v1h-3zM48 0h1v1h-1zM37 2h1v1h-1zM57 2h1v1h-1zM43 3h1v1h-1zM0 4h1v1h-1zM0 5h1v1h-1zM53 5h1v1h-1zM56 5h1v1h-1zM0 6h1v1h-1zM37 6h1v1h-1zM37 7h1v1h-1zM48 8h1v1h-1zM44 11h1v1h-1zM45 12h1v1h-1zM44 13h1v1h-1zM31 15h1v1h-1zM38 15h1v1h-1zM56 15h1v1h-1zM36 16h1v1h-1zM39 17h1v1h-1zM48 18h1v1h-1zM42 19h1v1h-1zM54 19h1v1h-1zM21 21h1v1h-1zM58 21h1v1h-1zM14 22h1v1h-1zM58 22h1v1h-1zM63 23h1v1h-1zM34 25h1v1h-1zM45 25h1v1h-1zM50 25h1v1h-1zM56 25h1v1h-1zM34 29h1v1h-1zM42 29h1v1h-1zM38 30h1v1h-1zM44 31h2v1h-2zM38 32h1v1h-1zM43 32h2v1h-2zM60 32h1v1h-1zM34 34h1v1h-1zM40 35h1v1h-1zM38 36h1v1h-1zM59 36h1v1h-1zM38 37h1v1h-1zM41 37h1v1h-1zM50 37h1v1h-1zM43 38h2v1h-2zM35 39h1v1h-1zM42 39h1v1h-1zM46 39h1v1h-1zM50 39h1v1h-1zM56 39h1v1h-1zM63 39h1v1h-1zM37 40h1v1h-1zM39 40h1v1h-1zM53 41h1v1h-1zM34 43h1v1h-1zM41 44h1v1h-1zM34 46h1v1h-1zM44 46h1v1h-1zM36 47h1v1h-1zM46 47h1v1h-1zM54 47h1v1h-1zM37 48h1v1h-1zM44 48h2v1h-2zM49 48h1v1h-1zM43 49h1v1h-1zM57 49h1v1h-1zM45 51h1v1h-1zM34 52h1v1h-1zM34 53h2v1h-2zM40 54h1v1h-1zM51 54h1v1h-1zM37 56h1v1h-1zM40 56h1v1h-1zM43 56h1v1h-1zM46 56h1v1h-1zM60 56h1v1h-1zM39 58h1v1h-1zM37 59h1v1h-1zM55 59h1v1h-1zM48 60h1v1h-1zM58 61h1v1h-1zM34 64h1v1h-1zM47 64h1v1h-1zM61 64h1v1h-1zM40 66h1v1h-1zM38 67h2v1h-2zM62 68h1v1h-1zM36 69h1v1h-1zM42 71h1v1h-1zM56 77h1v1h-1zM19 79h1v1h-1zM40 79h1v1h-1zM44 80h1v1h-1zM32 81h1v1h-1zM45 82h1v1h-1zM36 83h1v1h-1zM53 83h1v1h-1zM37 85h2v1h-2zM53 85h1v1h-1zM61 85h1v1h-1zM34 86h1v1h-1zM40 89h1v1h-1zM55 90h1v1h-1zM57 90h1v1h-1zM45 91h1v1h-1zM43 92h1v1h-1zM46 94h1v1h-1zM50 95h1v1h-1zM40 96h1v1h-1zM48 96h1v1h-1zM63 97h1v1h-1zM44 99h1v1h-1zM55 101h1v1h-1zM44 102h1v1h-1zM48 102h1v1h-1zM53 102h1v1h-1zM59 102h1v1h-1zM49 103h1v1h-1zM54 103h1v1h-1zM49 105h1v1h-1zM54 105h1v1h-1zM51 106h1v1h-1zM53 106h1v1h-1zM36 107h1v1h-1zM41 107h1v1h-1zM43 107h1v1h-1zM61 107h1v1h-1zM4 108h1v1h-1zM30 111h1v1h-1zM37 111h1v1h-1zM43 113h1v1h-1zM50 117h1v1h-1zM54 117h1v1h-1zM6 121h1v1h-1zM23 122h1v1h-1zM26 124h1v1h-1zM29 127h1v1h-1zM8 128h1v1h-1zM17 128h1v1h-1zM22 131h1v1h-1zM9 132h1v1h-1zM13 133h1v1h-1zM12 137h1v1h-1zM27 140h1v1h-1zM31 141h1v1h-1zM6 142h1v1h-1zM22 142h1v1h-1zM3 143h1v1h-1zM22 143h1v1h-1zM13 147h1v1h-1zM36 147h1v1h-1zM4 148h1v1h-1zM10 149h1v1h-1zM0 150h1v1h-1zM11 150h1v1h-1zM31 150h1v1h-1zM15 151h1v1h-1zM25 151h1v1h-1zM0 154h1v1h-1zM10 154h1v1h-1zM10 155h1v1h-1zM17 155h1v1h-1zM2 158h1v1h-1zM11 159h1v1h-1zM19 159h1v1h-1zM19 163h1v1h-1zM12 164h1v1h-1zM2 165h1v1h-1zM5 165h1v1h-1zM28 166h1v1h-1zM44 166h1v1h-1zM4 169h1v1h-1zM10 169h1v1h-1zM20 169h1v1h-1zM4 170h1v1h-1zM6 172h2v1h-2zM27 172h1v1h-1zM6 176h1v1h-1zM5 178h1v1h-1zM31 178h1v1h-1zM6 181h1v1h-1zM47 183h1v1h-1zM16 184h1v1h-1zM8 185h1v1h-1zM14 186h1v1h-1zM12 187h1v1h-1zM38 187h1v1h-1zM19 189h1v1h-1zM11 191h1v1h-1zM63 191h1v1h-1zM11 192h1v1h-1zM11 195h1v1h-1zM9 196h1v1h-1zM11 200h1v1h-1zM10 201h1v1h-1zM15 201h1v1h-1zM10 202h1v1h-1zM31 202h1v1h-1zM24 203h1v1h-1zM4 204h1v1h-1zM29 204h1v1h-1zM28 205h1v1h-1zM17 207h1v1h-1zM11 208h1v1h-1zM29 208h1v1h-1zM8 209h1v1h-1z"/>
<path fill="#ffcaca" d="M36 1h1v1h-1zM43 1h1v1h-1zM51 1h1v1h-1zM58 1h1v1h-1zM47 5h1v1h-1zM24 7h1v1h-1zM40 7h1v1h-1zM56 8h1v1h-1zM11 10h1v1h-1zM47 10h1v1h-1zM47 12h1v1h-1zM46 13h1v1h-1zM43 14h1v1h-1zM40 18h1v1h-1zM50 19h1v1h-1zM53 19h1v1h-1zM45 21h1v1h-1zM51 21h1v1h-1zM15 22h1v1h-1zM53 22h1v1h-1zM57 22h1v1h-1zM41 25h1v1h-1zM34 26h1v1h-1zM45 27h1v1h-1zM54 27h1v1h-1zM36 28h1v1h-1zM37 30h1v1h-1zM41 30h1v1h-1zM55 30h1v1h-1zM37 31h2v1h-2zM40 32h1v1h-1zM45 32h1v1h-1zM54 33h1v1h-1zM41 35h1v1h-1zM44 35h1v1h-1zM62 35h1v1h-1zM36 37h1v1h-1zM42 37h1v1h-1zM52 38h1v1h-1zM55 40h1v1h-1zM37 42h2v1h-2zM18 43h1v1h-1zM44 45h2v1h-2zM63 45h1v1h-1zM41 46h1v1h-1zM45 47h1v1h-1zM47 47h1v1h-1zM57 47h1v1h-1zM41 48h1v1h-1zM49 50h1v1h-1zM38 51h1v1h-1zM48 51h1v1h-1zM59 53h1v1h-1zM41 54h1v1h-1zM45 55h1v1h-1zM42 56h1v1h-1zM45 59h2v1h-2zM57 61h1v1h-1zM35 63h1v1h-1zM59 67h1v1h-1zM35 68h1v1h-1zM42 68h1v1h-1zM45 68h1v1h-1zM10 70h1v1h-1zM43 73h1v1h-1zM53 75h1v1h-1zM56 75h1v1h-1zM36 79h1v1h-1zM49 79h1v1h-1zM56 79h1v1h-1zM35 80h1v1h-1zM57 80h1v1h-1zM43 83h2v1h-2zM43 84h1v1h-1zM48 87h1v1h-1zM44 88h2v1h-2zM49 88h1v1h-1zM34 91h1v1h-1zM38 92h1v1h-1zM49 92h1v1h-1zM62 92h1v1h-1zM46 93h1v1h-1zM35 95h1v1h-1zM40 95h1v1h-1zM34 96h1v1h-1zM62 96h1v1h-1zM40 97h1v1h-1zM49 98h1v1h-1zM38 100h1v1h-1zM47 100h1v1h-1zM54 100h1v1h-1zM56 100h1v1h-1zM46 101h1v1h-1zM37 102h1v1h-1zM40 102h1v1h-1zM40 103h1v1h-1zM36 105h1v1h-1zM44 105h1v1h-1zM40 106h1v1h-1zM52 106h1v1h-1zM34 107h1v1h-1zM43 108h2v1h-2zM40 109h1v1h-1zM43 110h1v1h-1zM38 111h1v1h-1zM62 111h1v1h-1zM46 112h1v1h-1zM36 114h1v1h-1zM40 116h1v1h-1zM46 116h1v1h-1zM26 118h1v1h-1zM2 123h1v1h-1zM6 124h1v1h-1zM22 124h1v1h-1zM30 125h1v1h-1zM1 130h1v1h-1zM27 130h1v1h-1zM19 133h1v1h-1zM18 135h1v1h-1zM11 138h1v1h-1zM2 142h1v1h-1zM10 142h1v1h-1zM59 146h1v1h-1zM23 147h1v1h-1zM21 155h1v1h-1zM12 156h1v1h-1zM26 156h1v1h-1zM21 158h1v1h-1zM18 161h1v1h-1zM24 161h1v1h-1zM7 163h1v1h-1zM19 164h1v1h-1zM2 166h1v1h-1zM10 166h1v1h-1zM4 168h1v1h-1zM5 170h1v1h-1zM11 170h1v1h-1zM18 173h1v1h-1zM12 175h1v1h-1zM18 175h1v1h-1zM33 177h1v1h-1zM17 178h1v1h-1zM8 181h1v1h-1zM27 184h1v1h-1zM15 187h1v1h-1zM12 188h1v1h-1zM15 188h2v1h-2zM13 191h1v1h-1zM12 192h1v1h-1zM33 193h1v1h-1zM9 197h1v1h-1zM30 199h1v1h-1zM4 200h1v1h-1zM31 200h1v1h-1zM56 201h1v1h-1zM7 209h1v1h-1zM19 210h1v1h-1zM46 210h1v1h-1z"/>
<path fill="#ffbfbf" d="M47 0h1v1h-1zM60 1h1v1h-1zM54 2h1v1h-1zM14 4h1v1h-1zM46 4h1v1h-1zM14 5h1v1h-1zM27 5h1v1h-1zM46 5h1v1h-1zM42 6h1v1h-1zM46 6h1v1h-1zM34 8h3v1h-3zM34 9h2v1h-2zM45 14h1v1h-1zM11 17h1v1h-1zM40 20h2v1h-2zM53 20h1v1h-1zM11 21h1v1h-1zM37 22h1v1h-1zM50 22h1v1h-1zM36 23h2v1h-2zM58 23h1v1h-1zM37 24h1v1h-1zM58 24h1v1h-1zM37 25h1v1h-1zM58 25h1v1h-1zM37 26h1v1h-1zM42 26h1v1h-1zM42 27h1v1h-1zM38 28h1v1h-1zM50 28h1v1h-1zM48 41h1v1h-1zM48 42h1v1h-1zM48 43h1v1h-1zM34 44h1v1h-1zM48 44h1v1h-1zM48 45h1v1h-1zM43 46h1v1h-1zM46 48h1v1h-1zM54 54h1v1h-1zM62 55h1v1h-1zM34 60h1v1h-1zM49 61h6v1h-6zM49 62h6v1h-6zM49 63h6v1h-6zM59 63h1v1h-1zM14 67h1v1h-1zM45 69h1v1h-1zM42 73h1v1h-1zM42 74h1v1h-1zM43 75h1v1h-1zM55 84h4v1h-4zM55 85h4v1h-4zM54 108h1v1h-1zM34 109h1v1h-1zM38 110h1v1h-1zM43 116h1v1h-1zM10 118h1v1h-1zM34 120h1v1h-1zM2 128h1v1h-1zM35 131h1v1h-1zM48 131h1v1h-1zM61 131h1v1h-1zM35 132h1v1h-1zM52 132h1v1h-1zM6 133h1v1h-1zM41 142h1v1h-1zM26 145h1v1h-1zM26 146h1v1h-1zM15 148h1v1h-1zM31 152h1v1h-1zM28 153h4v1h-4zM28 154h4v1h-4zM57 157h1v1h-1zM13 164h1v1h-1zM22 167h1v1h-1zM4 174h1v1h-1zM12 190h1v1h-1zM50 198h3v1h-3zM4 202h1v1h-1zM19 204h1v1h-1z"/>
<path fill="#ffb5b5" d="M43 0h1v1h-1zM46 1h1v1h-1zM50 2h1v1h-1zM17 4h1v1h-1zM40 4h2v1h-2zM17 5h1v1h-1zM40 5h2v1h-2zM62 8h1v1h-1zM60 9h1v1h-1zM42 12h1v1h-1zM52 12h1v1h-1zM42 13h1v1h-1zM39 16h2v1h-2zM35 18h3v1h-3zM45 26h1v1h-1zM62 28h1v1h-1zM22 30h1v1h-1zM41 32h1v1h-1zM0 36h1v1h-1zM0 37h1v1h-1zM59 37h1v1h-1zM35 38h1v1h-1zM23 39h2v1h-2zM0 40h1v1h-1zM23 40h2v1h-2zM51 42h1v1h-1zM49 51h1v1h-1zM49 52h1v1h-1zM60 57h1v1h-1zM56 58h1v1h-1zM43 67h1v1h-1zM39 68h2v1h-2zM52 68h1v1h-1zM52 69h1v1h-1zM55 69h1v1h-1zM55 70h1v1h-1zM36 71h2v1h-2zM36 72h2v1h-2zM39 76h1v1h-1zM61 76h1v1h-1zM0 78h1v1h-1zM42 82h1v1h-1zM42 83h1v1h-1zM31 86h1v1h-1zM31 87h1v1h-1zM62 87h1v1h-1zM46 89h1v1h-1zM20 91h1v1h-1zM17 93h1v1h-1zM30 93h1v1h-1zM36 93h1v1h-1zM40 93h1v1h-1zM42 97h1v1h-1zM42 98h1v1h-1zM22 99h1v1h-1zM42 99h1v1h-1zM22 100h1v1h-1zM42 100h1v1h-1zM42 101h1v1h-1zM58 102h1v1h-1zM40 105h1v1h-1zM10 120h1v1h-1zM18 120h2v1h-2zM4 121h1v1h-1zM4 122h1v1h-1zM15 125h1v1h-1zM14 126h2v1h-2zM15 127h1v1h-1zM5 130h1v1h-1zM20 130h1v1h-1zM2 134h1v1h-1zM15 134h1v1h-1zM12 135h1v1h-1zM15 135h1v1h-1zM12 136h1v1h-1zM15 136h1v1h-1zM20 141h1v1h-1zM49 141h1v1h-1zM7 143h1v1h-1zM7 144h1v1h-1zM32 145h1v1h-1zM32 146h1v1h-1zM32 147h1v1h-1zM32 148h1v1h-1zM27 152h3v1h-3zM27 153h1v1h-1zM15 160h3v1h-3zM31 160h1v1h-1zM15 161h3v1h-3zM15 162h3v1h-3zM15 163h3v1h-3zM15 164h3v1h-3zM22 172h1v1h-1zM3 176h1v1h-1zM5 184h1v1h-1zM35 187h1v1h-1zM34 188h2v1h-2zM45 189h1v1h-1zM0 190h1v1h-1zM0 191h1v1h-1zM19 193h1v1h-1zM1 194h1v1h-1zM62 194h1v1h-1zM34 198h1v1h-1zM42 198h1v1h-1zM34 199h1v1h-1zM21 200h1v1h-1zM15 202h1v1h-1zM21 203h1v1h-1zM21 204h1v1h-1z"/>
<path fill="#ffaaaa" d="M51 0h2v1h-2zM55 0h1v1h-1zM63 1h1v1h-1zM46 2h1v1h-1zM55 2h1v1h-1zM63 2h1v1h-1zM46 3h1v1h-1zM63 3h1v1h-1zM16 4h1v1h-1zM34 4h1v1h-1zM58 4h1v1h-1zM16 5h1v1h-1zM34 5h1v1h-1zM58 5h1v1h-1zM59 8h1v1h-1zM37 9h1v1h-1zM44 9h1v1h-1zM48 9h1v1h-1zM59 9h1v1h-1zM61 9h1v1h-1zM22 10h1v1h-1zM48 10h1v1h-1zM55 10h1v1h-1zM39 12h1v1h-1zM45 13h1v1h-1zM47 13h1v1h-1zM42 14h1v1h-1zM46 14h1v1h-1zM42 15h1v1h-1zM46 15h1v1h-1zM52 16h1v1h-1zM57 17h1v1h-1zM49 18h1v1h-1zM55 18h1v1h-1zM51 19h1v1h-1zM63 19h1v1h-1zM25 20h1v1h-1zM28 20h1v1h-1zM46 20h1v1h-1zM34 21h1v1h-1zM38 21h1v1h-1zM34 22h1v1h-1zM23 23h1v1h-1zM45 24h1v1h-1zM50 26h1v1h-1zM43 28h1v1h-1zM59 28h1v1h-1zM43 29h1v1h-1zM35 30h1v1h-1zM41 31h1v1h-1zM52 33h1v1h-1zM52 34h1v1h-1zM52 35h1v1h-1zM52 36h1v1h-1zM54 36h1v1h-1zM52 37h1v1h-1zM45 40h1v1h-1zM47 41h1v1h-1zM61 41h1v1h-1zM47 42h1v1h-1zM61 42h1v1h-1zM47 43h1v1h-1zM61 43h1v1h-1zM47 44h1v1h-1zM61 44h1v1h-1zM61 45h1v1h-1zM50 46h1v1h-1zM61 46h1v1h-1zM44 47h1v1h-1zM34 48h1v1h-1zM34 49h1v1h-1zM34 50h1v1h-1zM36 50h1v1h-1zM36 51h1v1h-1zM55 51h1v1h-1zM37 52h1v1h-1zM44 52h2v1h-2zM52 52h1v1h-1zM16 53h2v1h-2zM44 53h2v1h-2zM16 54h1v1h-1zM22 54h1v1h-1zM57 54h2v1h-2zM16 55h1v1h-1zM22 55h1v1h-1zM57 55h2v1h-2zM57 56h2v1h-2zM57 57h1v1h-1zM57 58h2v1h-2zM36 60h2v1h-2zM42 60h1v1h-1zM42 61h1v1h-1zM42 62h1v1h-1zM42 63h1v1h-1zM45 63h2v1h-2zM49 64h1v1h-1zM49 65h1v1h-1zM33 70h1v1h-1zM21 71h1v1h-1zM32 71h2v1h-2zM56 71h1v1h-1zM32 72h2v1h-2zM54 73h1v1h-1zM34 74h2v1h-2zM54 74h1v1h-1zM58 74h1v1h-1zM34 75h2v1h-2zM54 75h1v1h-1zM58 75h1v1h-1zM55 78h1v1h-1zM55 79h1v1h-1zM14 80h1v1h-1zM60 80h1v1h-1zM35 82h1v1h-1zM37 82h1v1h-1zM35 83h1v1h-1zM25 84h1v1h-1zM51 84h1v1h-1zM25 85h1v1h-1zM51 85h1v1h-1zM25 86h1v1h-1zM42 87h1v1h-1zM10 88h1v1h-1zM32 88h1v1h-1zM43 88h1v1h-1zM43 89h1v1h-1zM52 89h1v1h-1zM47 90h1v1h-1zM42 92h1v1h-1zM42 93h1v1h-1zM47 93h1v1h-1zM49 93h1v1h-1zM25 94h1v1h-1zM42 94h1v1h-1zM25 95h1v1h-1zM42 95h1v1h-1zM42 96h1v1h-1zM49 100h2v1h-2zM49 101h2v1h-2zM49 102h2v1h-2zM36 103h2v1h-2zM52 103h1v1h-1zM63 103h1v1h-1zM36 104h2v1h-2zM52 104h1v1h-1zM46 107h2v1h-2zM21 108h1v1h-1zM46 108h2v1h-2zM60 112h1v1h-1zM44 113h1v1h-1zM60 113h1v1h-1zM60 114h1v1h-1zM39 115h1v1h-1zM47 115h3v1h-3zM60 115h1v1h-1zM47 116h3v1h-3zM60 116h1v1h-1zM15 120h1v1h-1zM24 120h1v1h-1zM32 120h1v1h-1zM15 121h1v1h-1zM32 121h1v1h-1zM12 123h1v1h-1zM42 125h1v1h-1zM42 126h1v1h-1zM2 132h2v1h-2zM33 132h1v1h-1zM23 135h1v1h-1zM22 139h1v1h-1zM3 140h1v1h-1zM22 140h1v1h-1zM26 140h1v1h-1zM26 141h1v1h-1zM28 141h1v1h-1zM8 144h1v1h-1zM34 144h1v1h-1zM34 145h1v1h-1zM34 146h1v1h-1zM9 147h1v1h-1zM34 147h1v1h-1zM22 149h1v1h-1zM32 150h1v1h-1zM6 151h1v1h-1zM31 151h1v1h-1zM4 155h1v1h-1zM4 156h1v1h-1zM22 157h1v1h-1zM4 159h1v1h-1zM4 160h1v1h-1zM12 165h1v1h-1zM12 166h1v1h-1zM7 168h1v1h-1zM2 171h1v1h-1zM30 171h1v1h-1zM2 172h1v1h-1zM29 172h1v1h-1zM2 173h1v1h-1zM2 174h1v1h-1zM26 175h1v1h-1zM26 176h1v1h-1zM30 176h1v1h-1zM26 177h1v1h-1zM20 178h1v1h-1zM12 179h1v1h-1zM32 179h1v1h-1zM5 181h1v1h-1zM18 181h1v1h-1zM34 181h2v1h-2zM5 182h1v1h-1zM2 183h1v1h-1zM20 185h1v1h-1zM32 185h1v1h-1zM20 186h1v1h-1zM32 186h1v1h-1zM32 187h1v1h-1zM34 187h1v1h-1zM19 188h1v1h-1zM21 188h1v1h-1zM17 189h1v1h-1zM35 189h1v1h-1zM16 190h3v1h-3zM7 191h2v1h-2zM32 198h1v1h-1zM12 201h1v1h-1zM52 201h1v1h-1zM9 203h1v1h-1zM19 208h1v1h-1zM32 210h1v1h-1z"/>
<path fill="#ff9f9f" d="M43 7h1v1h-1zM50 9h1v1h-1zM59 10h2v1h-2zM35 12h1v1h-1zM35 13h1v1h-1zM53 14h2v1h-2zM53 15h2v1h-2zM54 16h1v1h-1zM56 18h1v1h-1zM46 43h1v1h-1zM40 53h1v1h-1zM47 53h2v1h-2zM48 54h1v1h-1zM38 68h1v1h-1zM52 72h1v1h-1zM52 73h1v1h-1zM50 75h1v1h-1zM54 81h1v1h-1zM34 83h1v1h-1zM34 89h1v1h-1zM35 115h1v1h-1zM30 141h1v1h-1zM8 153h7v1h-7zM14 172h1v1h-1zM11 177h1v1h-1zM14 195h1v1h-1zM26 197h1v1h-1zM36 202h1v1h-1z"/>
<path fill="#ff9595" d="M45 1h1v1h-1zM59 2h1v1h-1zM0 8h1v1h-1zM0 9h1v1h-1zM46 10h1v1h-1zM59 12h1v1h-1zM62 12h2v1h-2zM59 13h1v1h-1zM62 13h1v1h-1zM62 14h1v1h-1zM62 15h1v1h-1zM61 18h1v1h-1zM43 19h1v1h-1zM57 19h1v1h-1zM40 21h1v1h-1zM40 22h1v1h-1zM40 23h1v1h-1zM52 26h1v1h-1zM52 27h1v1h-1zM57 27h1v1h-1zM47 28h1v1h-1zM52 28h1v1h-1zM47 29h1v1h-1zM52 29h2v1h-2zM42 33h1v1h-1zM51 33h1v1h-1zM42 34h1v1h-1zM51 34h1v1h-1zM42 35h1v1h-1zM51 35h1v1h-1zM46 36h1v1h-1zM48 36h1v1h-1zM51 36h1v1h-1zM46 37h1v1h-1zM15 38h1v1h-1zM20 38h1v1h-1zM43 39h1v1h-1zM43 40h1v1h-1zM35 43h2v1h-2zM35 44h2v1h-2zM49 44h1v1h-1zM59 44h2v1h-2zM35 45h2v1h-2zM49 45h1v1h-1zM59 45h2v1h-2zM35 46h2v1h-2zM46 46h1v1h-1zM59 46h2v1h-2zM59 47h2v1h-2zM52 48h1v1h-1zM59 48h1v1h-1zM0 49h1v1h-1zM52 49h1v1h-1zM59 49h1v1h-1zM30 54h1v1h-1zM30 55h1v1h-1zM30 56h1v1h-1zM53 58h1v1h-1zM23 59h1v1h-1zM35 59h1v1h-1zM53 59h1v1h-1zM52 60h1v1h-1zM53 66h1v1h-1zM42 67h1v1h-1zM44 69h1v1h-1zM44 70h1v1h-1zM2 71h1v1h-1zM28 71h1v1h-1zM28 72h1v1h-1zM56 72h2v1h-2zM46 73h1v1h-1zM21 74h1v1h-1zM46 74h1v1h-1zM21 75h1v1h-1zM46 75h1v1h-1zM52 76h1v1h-1zM52 80h1v1h-1zM51 87h1v1h-1zM53 87h1v1h-1zM36 88h1v1h-1zM51 88h1v1h-1zM53 88h1v1h-1zM36 89h1v1h-1zM51 89h1v1h-1zM56 92h1v1h-1zM50 96h1v1h-1zM61 96h1v1h-1zM58 97h1v1h-1zM61 97h1v1h-1zM58 98h1v1h-1zM61 98h1v1h-1zM58 99h1v1h-1zM53 100h1v1h-1zM53 101h1v1h-1zM54 104h1v1h-1zM57 105h1v1h-1zM57 106h1v1h-1zM57 107h1v1h-1zM38 108h1v1h-1zM57 108h1v1h-1zM49 109h1v1h-1zM35 113h2v1h-2zM40 113h1v1h-1zM40 114h1v1h-1zM24 115h1v1h-1zM61 115h2v1h-2zM24 116h1v1h-1zM61 116h2v1h-2zM24 117h1v1h-1zM1 118h3v1h-3zM26 120h2v1h-2zM59 120h1v1h-1zM29 123h1v1h-1zM29 124h1v1h-1zM17 125h1v1h-1zM17 126h1v1h-1zM10 129h1v1h-1zM10 130h1v1h-1zM18 132h1v1h-1zM31 133h1v1h-1zM31 134h1v1h-1zM10 135h1v1h-1zM10 136h1v1h-1zM20 142h1v1h-1zM28 142h1v1h-1zM43 142h1v1h-1zM19 143h1v1h-1zM62 143h1v1h-1zM28 144h1v1h-1zM28 145h1v1h-1zM28 146h1v1h-1zM3 150h1v1h-1zM18 152h1v1h-1zM26 152h1v1h-1zM20 153h1v1h-1zM20 154h1v1h-1zM2 155h1v1h-1zM19 155h1v1h-1zM47 155h1v1h-1zM2 156h1v1h-1zM19 156h1v1h-1zM47 156h1v1h-1zM2 157h1v1h-1zM15 158h2v1h-2zM22 158h1v1h-1zM3 159h1v1h-1zM3 160h1v1h-1zM9 160h2v1h-2zM3 161h1v1h-1zM9 161h2v1h-2zM3 162h1v1h-1zM22 163h1v1h-1zM0 164h1v1h-1zM6 165h2v1h-2zM6 166h2v1h-2zM3 167h1v1h-1zM5 167h3v1h-3zM3 168h1v1h-1zM13 169h1v1h-1zM41 169h1v1h-1zM13 170h1v1h-1zM9 171h3v1h-3zM13 171h1v1h-1zM41 171h1v1h-1zM9 172h3v1h-3zM17 172h1v1h-1zM17 173h1v1h-1zM14 175h1v1h-1zM14 176h1v1h-1zM24 177h1v1h-1zM3 178h1v1h-1zM28 181h1v1h-1zM44 189h1v1h-1zM17 193h1v1h-1zM17 194h1v1h-1zM31 195h1v1h-1zM31 196h1v1h-1zM22 197h1v1h-1zM24 197h1v1h-1zM14 199h1v1h-1zM17 199h1v1h-1zM57 200h1v1h-1zM53 201h1v1h-1zM57 201h1v1h-1zM31 204h1v1h-1zM3 205h1v1h-1zM3 206h1v1h-1zM3 210h1v1h-1zM15 210h3v1h-3z"/>
<path fill="#ff8080" d="M60 8h1v1h-1zM51 18h1v1h-1zM30 31h1v1h-1zM58 32h1v1h-1zM60 34h1v1h-1zM60 35h1v1h-1zM52 42h1v1h-1zM52 43h1v1h-1zM52 44h1v1h-1zM52 45h1v1h-1zM42 46h1v1h-1zM52 46h1v1h-1zM51 52h1v1h-1zM58 57h1v1h-1zM30 61h1v1h-1zM43 77h1v1h-1zM43 78h1v1h-1zM38 80h1v1h-1zM36 81h2v1h-2zM25 91h1v1h-1zM35 97h3v1h-3zM35 98h3v1h-3zM35 99h3v1h-3zM45 102h1v1h-1zM45 103h1v1h-1zM42 104h1v1h-1zM45 104h1v1h-1zM42 105h1v1h-1zM42 106h1v1h-1zM37 110h1v1h-1zM42 113h1v1h-1zM42 114h1v1h-1zM42 115h1v1h-1zM42 116h1v1h-1zM9 140h1v1h-1zM16 145h3v1h-3zM16 146h3v1h-3zM16 147h3v1h-3zM12 150h1v1h-1zM32 153h1v1h-1zM32 154h1v1h-1zM10 162h1v1h-1zM10 163h1v1h-1zM10 164h1v1h-1zM21 165h1v1h-1zM21 166h1v1h-1zM16 167h1v1h-1zM21 167h1v1h-1zM16 168h1v1h-1zM16 169h1v1h-1zM21 171h1v1h-1zM20 180h1v1h-1zM15 181h1v1h-1zM20 181h1v1h-1zM7 182h1v1h-1zM15 182h1v1h-1zM7 183h1v1h-1zM42 189h1v1h-1zM8 192h1v1h-1zM3 193h1v1h-1zM8 193h1v1h-1zM3 194h1v1h-1zM8 194h1v1h-1zM3 195h1v1h-1zM8 195h1v1h-1zM3 196h1v1h-1zM8 196h1v1h-1zM7 199h1v1h-1z"/>
<path fill="#ff6a6a" d="M23 2h1v1h-1zM55 3h1v1h-1zM21 6h1v1h-1zM47 7h1v1h-1zM46 8h1v1h-1zM43 10h1v1h-1zM60 14h1v1h-1zM60 15h1v1h-1zM59 19h1v1h-1zM38 20h1v1h-1zM41 22h1v1h-1zM41 23h1v1h-1zM51 31h1v1h-1zM35 32h1v1h-1zM51 32h1v1h-1zM35 33h1v1h-1zM45 33h1v1h-1zM35 34h3v1h-3zM45 34h1v1h-1zM35 35h3v1h-3zM45 35h1v1h-1zM16 38h1v1h-1zM56 47h1v1h-1zM56 48h1v1h-1zM60 48h1v1h-1zM60 49h1v1h-1zM42 51h1v1h-1zM42 52h1v1h-1zM48 56h1v1h-1zM48 57h1v1h-1zM9 71h1v1h-1zM27 71h1v1h-1zM27 72h1v1h-1zM38 74h1v1h-1zM38 75h1v1h-1zM38 76h1v1h-1zM59 80h1v1h-1zM28 84h1v1h-1zM28 85h1v1h-1zM59 90h1v1h-1zM59 91h1v1h-1zM57 93h1v1h-1zM59 93h2v1h-2zM57 97h1v1h-1zM57 98h1v1h-1zM25 99h1v1h-1zM57 99h1v1h-1zM43 102h1v1h-1zM43 103h1v1h-1zM61 109h1v1h-1zM61 110h1v1h-1zM59 112h1v1h-1zM59 115h1v1h-1zM59 116h1v1h-1zM59 117h1v1h-1zM20 118h1v1h-1zM7 120h1v1h-1zM7 121h1v1h-1zM7 122h1v1h-1zM8 130h1v1h-1zM23 132h2v1h-2zM23 137h1v1h-1zM7 138h1v1h-1zM20 138h1v1h-1zM14 139h1v1h-1zM15 141h1v1h-1zM3 142h1v1h-1zM12 142h1v1h-1zM12 143h1v1h-1zM2 144h1v1h-1zM2 145h1v1h-1zM15 145h1v1h-1zM2 146h1v1h-1zM15 146h1v1h-1zM15 147h1v1h-1zM14 148h1v1h-1zM14 149h1v1h-1zM5 150h1v1h-1zM14 150h1v1h-1zM11 152h2v1h-2zM2 154h1v1h-1zM15 155h1v1h-1zM24 155h1v1h-1zM15 156h1v1h-1zM24 156h1v1h-1zM32 157h1v1h-1zM19 165h1v1h-1zM19 166h1v1h-1zM41 170h1v1h-1zM33 171h1v1h-1zM33 172h1v1h-1zM8 174h1v1h-1zM8 175h1v1h-1zM8 176h1v1h-1zM8 183h1v1h-1zM6 184h1v1h-1zM6 185h1v1h-1zM6 186h1v1h-1zM14 191h1v1h-1zM49 198h1v1h-1zM20 199h1v1h-1zM58 200h1v1h-1zM3 201h1v1h-1zM58 201h1v1h-1zM37 202h1v1h-1zM47 202h1v1h-1zM32 204h1v1h-1zM5 210h1v1h-1z"/>
<path fill="#ff6060" d="M0 17h1v1h-1zM29 20h1v1h-1zM14 30h1v1h-1zM34 31h1v1h-1zM34 32h1v1h-1zM9 33h1v1h-1zM34 33h1v1h-1zM42 42h1v1h-1zM42 43h1v1h-1zM55 46h1v1h-1zM55 47h1v1h-1zM42 48h1v1h-1zM43 53h1v1h-1zM42 57h1v1h-1zM51 57h1v1h-1zM51 58h1v1h-1zM51 64h1v1h-1zM51 65h1v1h-1zM59 77h1v1h-1zM59 78h1v1h-1zM47 80h1v1h-1zM47 81h1v1h-1zM40 83h1v1h-1zM40 84h1v1h-1zM40 85h1v1h-1zM1 90h1v1h-1zM35 90h1v1h-1zM38 91h1v1h-1zM15 108h1v1h-1zM42 109h1v1h-1zM13 118h1v1h-1zM3 121h1v1h-1zM17 121h1v1h-1zM8 131h1v1h-1zM58 131h1v1h-1zM8 132h1v1h-1zM2 140h1v1h-1zM32 142h1v1h-1zM33 153h1v1h-1zM33 154h1v1h-1zM32 158h1v1h-1zM32 159h1v1h-1zM4 164h1v1h-1zM34 165h1v1h-1zM34 166h1v1h-1zM19 170h1v1h-1zM20 177h1v1h-1zM43 189h1v1h-1zM58 198h1v1h-1z"/>
<path fill="#ff5555" d="M40 43h1v1h-1zM40 47h1v1h-1zM40 48h1v1h-1zM8 180h1v1h-1zM15 192h1v1h-1zM15 193h1v1h-1zM15 194h1v1h-1zM15 195h1v1h-1zM15 196h1v1h-1z"/>
<path fill="#ff4040" d="M49 0h1v1h-1zM14 1h1v1h-1zM62 1h1v1h-1zM47 2h1v1h-1zM47 3h1v1h-1zM62 3h1v1h-1zM62 11h1v1h-1zM38 16h1v1h-1zM42 17h1v1h-1zM45 18h1v1h-1zM30 24h1v1h-1zM30 25h1v1h-1zM37 28h1v1h-1zM37 29h1v1h-1zM40 30h1v1h-1zM42 30h1v1h-1zM36 31h1v1h-1zM42 31h1v1h-1zM36 32h1v1h-1zM42 32h1v1h-1zM36 33h2v1h-2zM43 36h2v1h-2zM43 37h2v1h-2zM47 37h1v1h-1zM47 38h1v1h-1zM40 39h1v1h-1zM40 40h1v1h-1zM46 40h1v1h-1zM46 41h1v1h-1zM62 42h2v1h-2zM63 43h1v1h-1zM38 47h1v1h-1zM45 49h1v1h-1zM45 50h1v1h-1zM23 52h1v1h-1zM23 53h1v1h-1zM42 53h1v1h-1zM23 54h1v1h-1zM23 55h1v1h-1zM23 56h1v1h-1zM31 58h1v1h-1zM31 59h1v1h-1zM35 60h1v1h-1zM22 66h1v1h-1zM22 67h1v1h-1zM47 67h1v1h-1zM21 68h1v1h-1zM47 68h2v1h-2zM47 69h2v1h-2zM48 70h1v1h-1zM48 71h1v1h-1zM55 72h1v1h-1zM55 73h1v1h-1zM46 76h1v1h-1zM46 77h1v1h-1zM46 78h1v1h-1zM52 90h1v1h-1zM52 91h2v1h-2zM53 92h1v1h-1zM55 92h1v1h-1zM49 94h1v1h-1zM49 95h1v1h-1zM49 96h1v1h-1zM42 111h1v1h-1zM45 111h1v1h-1zM42 112h1v1h-1zM51 115h1v1h-1zM51 116h1v1h-1zM51 117h1v1h-1zM4 118h1v1h-1zM8 123h1v1h-1zM32 124h1v1h-1zM57 124h1v1h-1zM10 128h1v1h-1zM2 130h1v1h-1zM24 130h1v1h-1zM2 131h2v1h-2zM30 132h1v1h-1zM30 133h1v1h-1zM30 134h1v1h-1zM31 137h1v1h-1zM31 138h1v1h-1zM34 142h1v1h-1zM17 143h1v1h-1zM31 143h1v1h-1zM17 144h1v1h-1zM31 144h1v1h-1zM14 145h1v1h-1zM20 145h1v1h-1zM14 146h1v1h-1zM20 146h1v1h-1zM14 147h1v1h-1zM20 147h1v1h-1zM7 151h1v1h-1zM14 151h1v1h-1zM5 155h1v1h-1zM5 156h1v1h-1zM5 157h1v1h-1zM5 158h1v1h-1zM2 159h1v1h-1zM5 159h1v1h-1zM2 160h1v1h-1zM5 160h1v1h-1zM12 160h1v1h-1zM20 160h1v1h-1zM5 161h1v1h-1zM12 161h1v1h-1zM20 162h1v1h-1zM31 163h1v1h-1zM31 164h1v1h-1zM10 167h1v1h-1zM10 168h1v1h-1zM31 171h1v1h-1zM31 172h1v1h-1zM5 174h1v1h-1zM7 178h2v1h-2zM15 178h1v1h-1zM16 179h1v1h-1zM2 180h1v1h-1zM16 180h1v1h-1zM34 180h1v1h-1zM15 183h1v1h-1zM34 184h1v1h-1zM16 185h1v1h-1zM16 186h1v1h-1zM20 187h1v1h-1zM20 188h1v1h-1zM10 189h1v1h-1zM15 189h1v1h-1zM15 190h1v1h-1zM5 193h1v1h-1zM5 194h1v1h-1zM7 194h1v1h-1zM5 195h1v1h-1zM7 195h1v1h-1zM5 196h1v1h-1zM7 196h1v1h-1zM7 197h1v1h-1z"/>
<path fill="#ff2020" d="M53 9h1v1h-1zM53 10h1v1h-1zM63 13h1v1h-1zM47 14h1v1h-1zM63 14h1v1h-1zM47 15h1v1h-1zM63 15h1v1h-1zM47 16h1v1h-1zM62 43h1v1h-1zM40 44h1v1h-1zM40 45h1v1h-1zM40 46h1v1h-1zM57 51h1v1h-1zM57 52h1v1h-1zM53 56h2v1h-2zM43 59h1v1h-1zM50 60h1v1h-1zM45 76h1v1h-1zM45 77h1v1h-1zM51 82h1v1h-1zM51 83h1v1h-1zM24 88h1v1h-1zM54 89h1v1h-1zM58 101h1v1h-1zM45 107h1v1h-1zM54 109h1v1h-1zM54 110h1v1h-1zM24 122h1v1h-1zM3 130h1v1h-1zM25 144h1v1h-1zM17 148h1v1h-1zM17 149h1v1h-1zM24 150h1v1h-1zM24 151h1v1h-1zM6 161h1v1h-1zM20 161h1v1h-1zM6 162h1v1h-1zM17 165h1v1h-1zM17 166h1v1h-1zM17 167h1v1h-1zM17 168h1v1h-1zM17 169h1v1h-1zM17 170h1v1h-1zM17 171h1v1h-1zM4 178h1v1h-1zM24 187h1v1h-1zM21 193h1v1h-1zM21 194h1v1h-1zM9 201h1v1h-1zM22 202h1v1h-1zM2 204h1v1h-1zM10 204h1v1h-1zM2 205h1v1h-1zM2 206h1v1h-1z"/>
<path fill="#ff0b0b" d="M24 11h1v1h-1zM62 17h1v1h-1zM22 18h1v1h-1zM62 18h1v1h-1zM22 19h1v1h-1zM62 19h1v1h-1zM44 22h1v1h-1zM44 23h1v1h-1zM40 26h1v1h-1zM53 26h1v1h-1zM40 27h1v1h-1zM53 27h1v1h-1zM51 28h1v1h-1zM51 29h1v1h-1zM46 49h1v1h-1zM46 50h1v1h-1zM49 56h2v1h-2zM23 57h1v1h-1zM49 57h2v1h-2zM21 86h1v1h-1zM21 87h1v1h-1zM54 90h1v1h-1zM54 91h1v1h-1zM37 93h1v1h-1zM37 94h1v1h-1zM37 95h1v1h-1zM55 105h1v1h-1zM55 106h1v1h-1zM55 107h1v1h-1zM55 108h1v1h-1zM63 115h1v1h-1zM63 116h1v1h-1zM63 117h1v1h-1zM0 118h1v1h-1zM0 119h1v1h-1zM3 134h1v1h-1zM3 135h1v1h-1zM3 136h1v1h-1zM14 161h1v1h-1zM14 162h1v1h-1zM14 163h1v1h-1zM14 164h1v1h-1zM14 165h1v1h-1zM14 166h1v1h-1zM14 167h2v1h-2zM15 168h1v1h-1zM15 169h1v1h-1zM15 170h1v1h-1zM15 171h1v1h-1zM15 172h1v1h-1zM15 173h1v1h-1zM4 175h1v1h-1zM4 176h1v1h-1zM4 177h1v1h-1zM7 179h1v1h-1zM7 180h1v1h-1zM7 181h1v1h-1zM14 181h1v1h-1zM14 182h1v1h-1zM14 183h1v1h-1zM7 188h1v1h-1zM7 189h1v1h-1z"/>
<path fill="#ff0000" d="M61 0h1v1h-1zM61 1h1v1h-1zM45 4h1v1h-1zM45 5h1v1h-1zM45 6h1v1h-1zM45 7h1v1h-1zM45 8h1v1h-1zM45 9h1v1h-1zM38 12h1v1h-1zM38 13h1v1h-1zM59 14h1v1h-1zM59 15h1v1h-1zM59 16h1v1h-1zM59 17h1v1h-1zM42 20h1v1h-1zM42 21h1v1h-1zM42 22h1v1h-1zM42 23h1v1h-1zM51 26h1v1h-1zM51 27h1v1h-1zM44 39h1v1h-1zM44 40h1v1h-1zM44 41h1v1h-1zM40 50h1v1h-1zM40 51h1v1h-1zM40 52h1v1h-1zM43 60h1v1h-1zM43 61h1v1h-1zM43 62h1v1h-1zM43 63h2v1h-2zM43 64h2v1h-2zM43 65h2v1h-2zM46 67h1v1h-1zM43 68h1v1h-1zM46 68h1v1h-1zM43 69h1v1h-1zM46 69h1v1h-1zM43 70h1v1h-1zM46 70h1v1h-1zM47 71h1v1h-1zM47 72h2v1h-2zM47 73h2v1h-2zM47 74h1v1h-1zM47 75h1v1h-1zM47 76h1v1h-1zM51 90h1v1h-1zM51 91h1v1h-1zM51 92h1v1h-1zM51 93h1v1h-1zM51 94h1v1h-1zM51 95h1v1h-1zM51 96h1v1h-1zM51 97h1v1h-1zM51 98h1v1h-1zM51 99h1v1h-1zM51 100h1v1h-1zM51 101h1v1h-1zM51 102h1v1h-1zM51 103h1v1h-1zM51 104h1v1h-1zM58 105h1v1h-1zM58 106h1v1h-1zM58 107h1v1h-1zM58 108h1v1h-1zM58 109h1v1h-1zM57 110h2v1h-2zM57 111h2v1h-2zM57 112h2v1h-2zM57 113h2v1h-2zM57 114h2v1h-2zM57 115h2v1h-2zM57 116h2v1h-2zM57 117h1v1h-1zM31 120h1v1h-1zM31 121h1v1h-1zM31 122h1v1h-1zM31 123h1v1h-1zM31 124h1v1h-1zM7 129h1v1h-1zM23 129h1v1h-1zM32 129h1v1h-1zM7 130h1v1h-1zM23 130h1v1h-1zM32 130h1v1h-1zM7 131h1v1h-1zM32 131h1v1h-1zM32 132h1v1h-1zM32 133h1v1h-1zM32 134h1v1h-1zM21 140h1v1h-1zM21 141h1v1h-1zM21 142h1v1h-1zM21 143h1v1h-1zM19 145h1v1h-1zM19 146h1v1h-1zM19 147h1v1h-1zM19 148h1v1h-1zM19 149h1v1h-1zM19 150h2v1h-2zM19 151h2v1h-2zM20 152h1v1h-1zM3 155h1v1h-1zM3 156h1v1h-1zM3 157h1v1h-1zM26 159h1v1h-1zM26 160h1v1h-1zM26 161h1v1h-1zM26 162h1v1h-1zM26 163h1v1h-1zM26 164h1v1h-1zM26 165h1v1h-1zM26 166h1v1h-1zM26 167h1v1h-1zM26 168h1v1h-1zM14 169h1v1h-1zM26 169h1v1h-1zM14 170h1v1h-1zM14 171h1v1h-1zM7 174h1v1h-1zM15 174h1v1h-1zM7 175h1v1h-1zM15 175h1v1h-1zM7 176h1v1h-1zM15 176h1v1h-1zM7 177h1v1h-1zM32 181h1v1h-1zM32 182h1v1h-1zM32 183h1v1h-1zM32 184h1v1h-1zM17 185h1v1h-1zM17 186h1v1h-1zM17 187h1v1h-1zM17 188h1v1h-1zM2 189h1v1h-1zM2 190h1v1h-1zM2 191h1v1h-1zM2 192h1v1h-1zM2 193h1v1h-1zM2 194h1v1h-1zM2 195h1v1h-1zM2 196h1v1h-1zM2 197h1v1h-1zM10 198h1v1h-1zM10 199h1v1h-1zM10 200h1v1h-1zM14 201h1v1h-1zM14 202h1v1h-1zM14 203h1v1h-1zM14 204h1v1h-1zM14 205h1v1h-1zM14 206h1v1h-1zM14 207h1v1h-1zM14 208h1v1h-1zM14 209h1v1h-1zM14 210h1v1h-1z"/>
</g>
<path d="M439.7 134.4H424.9V136.2H439.7M439.7 138H428.5V139.8H439.7M424.9 135.3H410.3V138.9H428.5M439.7 145.2H426.9V147H439.7M426.9 146.1H421.4V148.8H439.7M439.7 143.4H419.5V147.5H421.4M439.7 141.6H419.2V145.4H419.5M439.7 150.6H426.1V152.4H439.7M426.1 151.5H424.3V154.2H439.7M419.2 143.5H398.5V152.9H424.3M439.7 159.6H428.8V161.4H439.7M439.7 157.8H419V160.5H428.8M439.7 156H415V159.2H419M439.7 165H427.3V166.9H439.7M439.7 163.2H423.4V166H427.3M415 157.6H401.7V164.6H423.4M398.5 148.2H390.3V161.1H401.7M410.3 137.1H389V154.7H390.3M439.7 170.5H424.3V172.3H439.7M439.7 168.7H421.4V171.4H424.3M421.4 170H419.3V174.1H439.7M419.3 172H415.7V175.9H439.7M439.7 177.7H425.2V179.5H439.7M439.7 181.3H426.6V183.1H439.7M425.2 178.6H418.6V182.2H426.6M418.6 180.4H416.4V184.9H439.7M415.7 174H405V182.6H416.4M439.7 186.7H424V188.5H439.7M424 187.6H420.8V190.3H439.7M420.8 188.9H418.8V192.1H439.7M439.7 193.9H428V195.7H439.7M418.8 190.5H414.2V194.8H428M439.7 197.5H424.2V199.3H439.7M439.7 201.1H428.8V202.9H439.7M424.2 198.4H418.7V202H428.8M414.2 192.7H411.4V200.2H418.7M439.7 204.7H428V206.5H439.7M439.7 211.9H427.4V213.7H439.7M439.7 210.1H421.1V212.8H427.4M439.7 208.3H417.7V211.5H421.1M439.7 215.5H428.8V217.3H439.7M417.7 209.9H411.9V216.4H428.8M428 205.6H407.3V213.2H411.9M439.7 219.1H424.3V220.9H439.7M407.3 209.4H403.5V220H424.3M411.4 196.4H401V214.7H403.5M405 178.3H396V205.6H401M439.7 222.7H428.6V224.5H439.7M428.6 223.6H420.2V226.3H439.7M420.2 225H417.2V228.1H439.7M439.7 230H427.8V231.8H439.7M417.2 226.6H414.5V230.9H427.8M439.7 233.6H427V235.4H439.7M427 234.5H420.8V237.2H439.7M414.5 228.7H408.6V235.8H420.8M439.7 239H427.7V240.8H439.7M439.7 242.6H426.4V244.4H439.7M439.7 246.2H426.2V248H439.7M426.4 243.5H416.2V247.1H426.2M427.7 239.9H411.3V245.3H416.2M411.3 242.6H408.2V249.8H439.7M408.6 232.3H392.5V246.2H408.2M396 191.9H387.8V239.2H392.5M389 145.9H386.5V215.6H387.8M439.7 251.6H425.9V253.4H439.7M425.9 252.5H424.6V255.2H439.7M439.7 258.8H427.6V260.6H439.7M439.7 257H421V259.7H427.6M424.6 253.8H415V258.3H421M439.7 262.4H427.9V264.2H439.7M439.7 267.8H427.5V269.6H439.7M439.7 266H418.5V268.7H427.5M427.9 263.3H402.7V267.4H418.5M415 256.1H394V265.3H402.7M439.7 271.4H427.8V273.2H439.7M439.7 276.8H426.4V278.6H439.7M439.7 275H421.1V277.7H426.4M427.8 272.3H417V276.4H421.1M439.7 280.4H425.3V282.2H439.7M417 274.3H413.7V281.3H425.3M439.7 287.6H428.5V289.4H439.7M439.7 285.8H422.3V288.5H428.5M439.7 284H419.3V287.2H422.3M413.7 277.8H407.5V285.6H419.3M439.7 291.2H428.3V293.1H439.7M439.7 294.9H425V296.7H439.7M428.3 292.2H419.9V295.8H425M419.9 294H414.3V298.5H439.7M439.7 300.3H424.8V302.1H439.7M439.7 305.7H428.5V307.5H439.7M439.7 303.9H422V306.6H428.5M439.7 311.1H428.1V312.9H439.7M439.7 309.3H424.5V312H428.1M439.7 314.7H428.2V316.5H439.7M424.5 310.6H419.1V315.6H428.2M422 305.2H409.9V313.1H419.1M424.8 301.2H406.7V309.2H409.9M414.3 296.2H397.9V305.2H406.7M439.7 318.3H425.5V320.1H439.7M439.7 321.9H427.9V323.7H439.7M427.9 322.8H422.1V325.5H439.7M439.7 327.3H426.9V329.1H439.7M422.1 324.2H419V328.2H426.9M439.7 330.9H427.2V332.7H439.7M419 326.2H415.7V331.8H427.2M425.5 319.2H413.5V329H415.7M439.7 336.3H424.5V338.1H439.7M439.7 334.5H419.4V337.2H424.5M439.7 339.9H426.5V341.7H439.7M426.5 340.8H423.8V343.5H439.7M419.4 335.9H414.7V342.2H423.8M414.7 339H412.5V345.3H439.7M413.5 324.1H397.9V342.2H412.5M397.9 300.7H391.2V333.1H397.9M407.5 281.7H386.3V316.9H391.2M394 260.7H384.4V299.3H386.3M386.5 180.7H379.8V280H384.4M439.7 348.9H424.9V350.7H439.7M439.7 347.1H421.3V349.8H424.9M439.7 354.3H427.9V356.2H439.7M439.7 352.5H422.1V355.2H427.9M422.1 353.9H421.7V358H439.7M421.3 348.5H390.5V355.9H421.7M439.7 359.8H424.8V361.6H439.7M439.7 365.2H426.6V367H439.7M426.6 366.1H424.3V368.8H439.7M439.7 363.4H421.8V367.4H424.3M424.8 360.7H417.1V365.4H421.8M439.7 370.6H427V372.4H439.7M439.7 376H425.6V377.8H439.7M439.7 374.2H420.8V376.9H425.6M420.8 375.5H419.6V379.6H439.7M427 371.5H412.2V377.6H419.6M417.1 363H396V374.5H412.2M439.7 383.2H427.6V385H439.7M427.6 384.1H424.3V386.8H439.7M439.7 381.4H419.8V385.4H424.3M439.7 388.6H426V390.4H439.7M426 389.5H418.8V392.2H439.7M439.7 394H425.5V395.8H439.7M418.8 390.9H417.5V394.9H425.5M419.8 383.4H400V392.9H417.5M439.7 399.4H428.4V401.2H439.7M439.7 404.8H424.4V406.6H439.7M424.4 405.7H423.7V408.4H439.7M439.7 403H421.5V407.1H423.7M428.4 400.3H412.4V405.1H421.5M439.7 397.6H408.7V402.7H412.4M439.7 410.2H426.5V412H439.7M426.5 411.1H419.9V413.8H439.7M439.7 417.4H425.6V419.3H439.7M439.7 415.6H418.9V418.3H425.6M419.9 412.5H414.4V417H418.9M408.7 400.2H395V414.7H414.4M439.7 422.9H426V424.7H439.7M439.7 421.1H421.3V423.8H426M439.7 426.5H428.2V428.3H439.7M421.3 422.4H414.8V427.4H428.2M439.7 431.9H428.3V433.7H439.7M439.7 430.1H419.3V432.8H428.3M439.7 437.3H426.3V439.1H439.7M439.7 435.5H419.2V438.2H426.3M439.7 440.9H428.3V442.7H439.7M439.7 444.5H427.8V446.3H439.7M428.3 441.8H416.1V445.4H427.8M439.7 448.1H426V449.9H439.7M416.1 443.6H413.6V449H426M419.2 436.8H413V446.3H413.6M419.3 431.4H410.5V441.6H413M414.8 424.9H407.1V436.5H410.5M439.7 455.3H426.2V457.1H439.7M439.7 453.5H422.2V456.2H426.2M439.7 451.7H420.6V454.9H422.2M439.7 458.9H426.5V460.7H439.7M426.5 459.8H421V462.5H439.7M439.7 466.1H425.6V467.9H439.7M439.7 464.3H424.7V467H425.6M421 461.2H415.5V465.7H424.7M439.7 469.7H428.3V471.5H439.7M428.3 470.6H424.4V473.3H439.7M415.5 463.4H413.7V472H424.4M420.6 453.3H409.9V467.7H413.7M407.1 430.7H395V460.5H409.9M395 407.4H393.5V445.6H395M400 388.2H390.2V426.5H393.5M396 368.8H388.9V407.3H390.2M390.5 352.2H385.4V388.1H388.9M439.7 476.9H426.4V478.7H439.7M439.7 475.1H424.3V477.8H426.4M439.7 480.5H425.1V482.4H439.7M439.7 486H426.6V487.8H439.7M439.7 484.2H419V486.9H426.6M425.1 481.4H414.2V485.5H419M424.3 476.5H410.4V483.5H414.2M439.7 491.4H424.8V493.2H439.7M439.7 489.6H413.3V492.3H424.8M439.7 496.8H427.6V498.6H439.7M439.7 495H423.8V497.7H427.6M439.7 511.2H434.2V513H439.7M439.7 509.4H429.9V512.1H434.2M439.7 507.6H425.6V510.7H429.9M439.7 505.8H421.3V509.2H425.6M439.7 504H417V507.5H421.3M439.7 502.2H412.6V505.7H417M439.7 500.4H408.3V504H412.6M423.8 496.3H405.6V502.2H408.3M413.3 490.9H384.4V499.2H405.6M410.4 480H383.5V495.1H384.4M385.4 370.1H378.4V487.5H383.5M379.8 230.4H356.6V428.8H378.4" stroke="#111" stroke-width="1.15" fill="none"/>
<defs><linearGradient id="ck" x1="0" y1="0" x2="0" y2="1"><stop offset="0" stop-color="#ff0000"/><stop offset="0.247" stop-color="#ff0000"/><stop offset="0.503" stop-color="#ffffff"/><stop offset="0.753" stop-color="#006400"/><stop offset="1" stop-color="#006400"/></linearGradient></defs>
<rect x="743.6" y="134.1" width="15.7" height="237.3" fill="url(#ck)"/>
<g font-size="12"><text x="762.6" y="182">5</text><text x="762.4" y="257.7">0</text><text x="762.4" y="333.9">−5</text></g>
</svg></body></html>
